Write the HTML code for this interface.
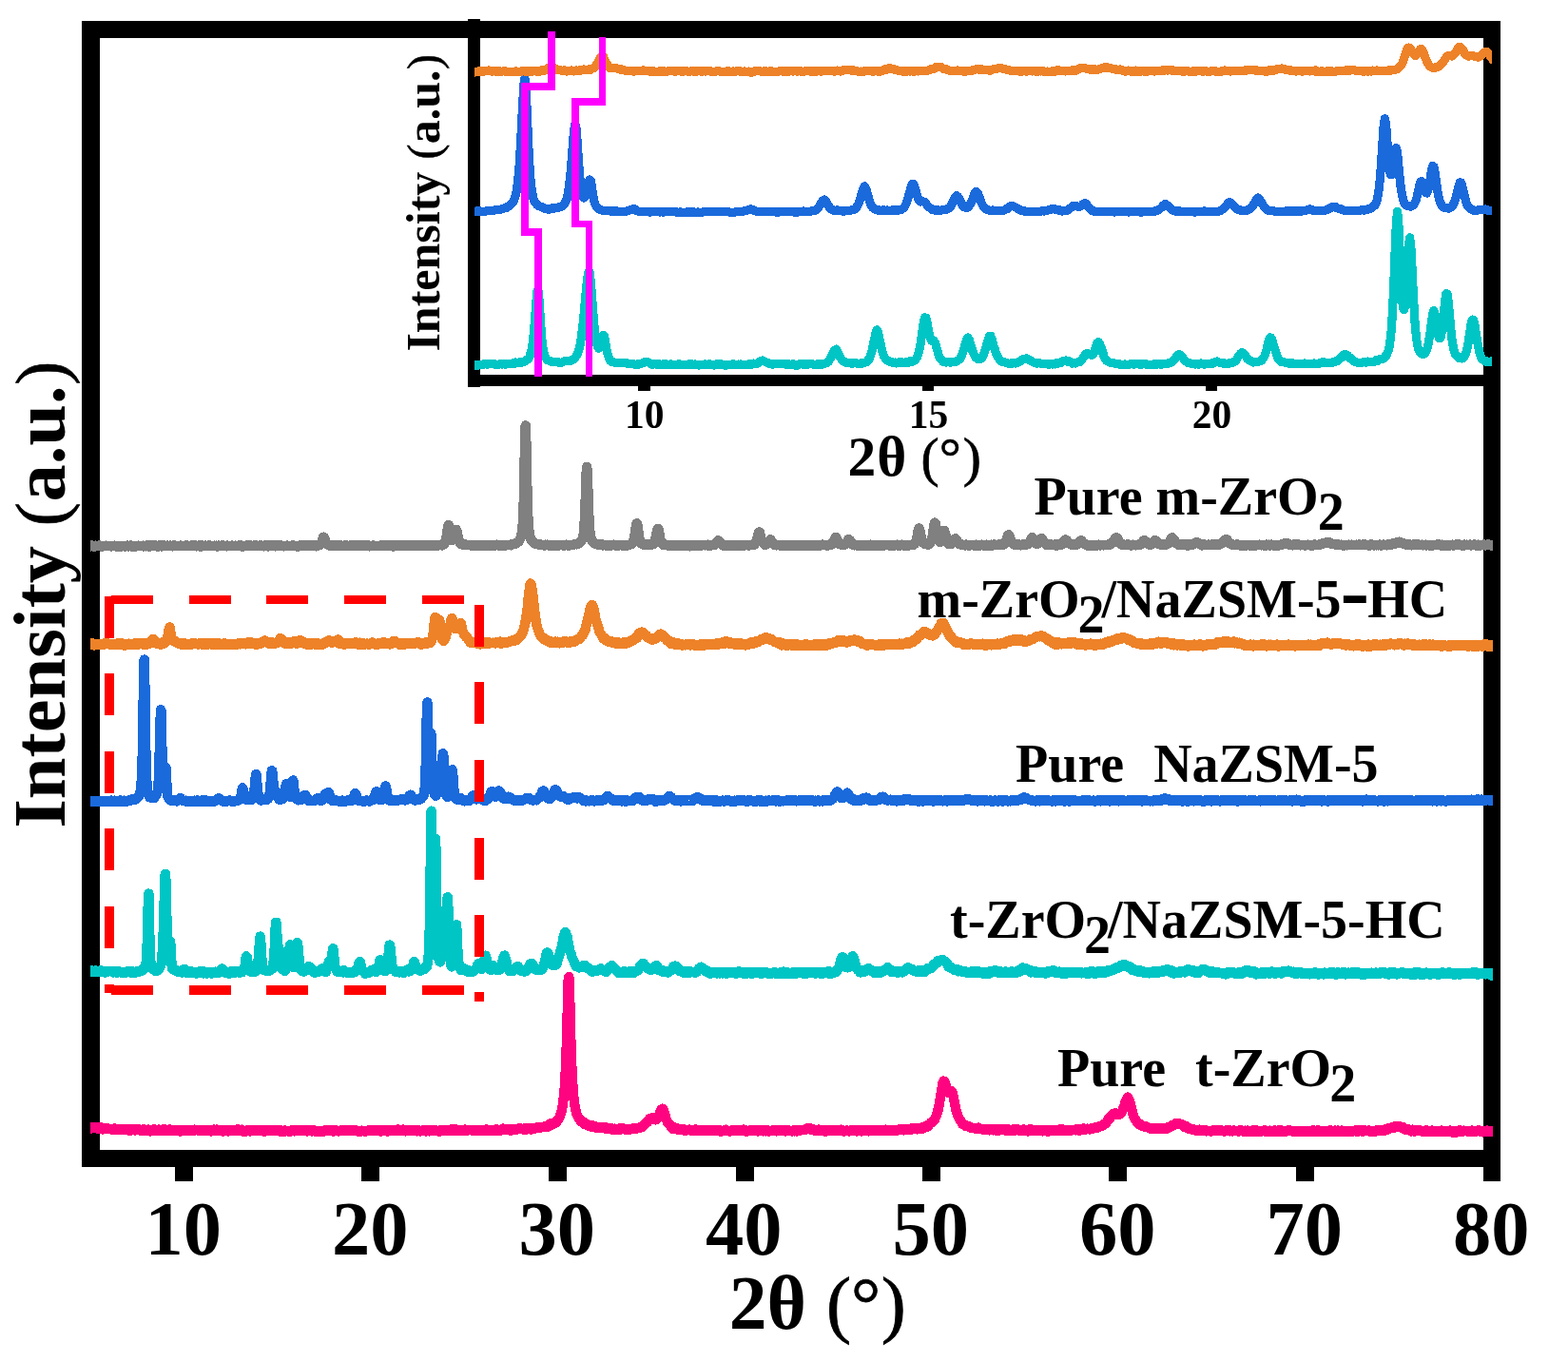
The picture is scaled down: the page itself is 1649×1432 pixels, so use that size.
<!DOCTYPE html>
<html lang="en"><head><meta charset="utf-8"><title>XRD patterns</title><style>html,body{margin:0;padding:0;background:#fff}svg{display:block}</style></head>
<body>
<svg width="1649" height="1432" viewBox="0 0 1649 1432" font-family="'Liberation Serif', 'DejaVu Serif', serif" font-weight="bold" fill="#000">
<rect x="0" y="0" width="1649" height="1432" fill="#fff"/>
<g id="main-frame" fill="#000" shape-rendering="crispEdges">
<rect x="86" y="22" width="1492" height="18"/>
<rect x="86" y="1209" width="1492" height="18"/>
<rect x="86" y="22" width="19" height="1205"/>
<rect x="1560" y="22" width="18" height="1220"/>
<rect x="184" y="1226" width="19" height="16"/>
<rect x="380" y="1226" width="19" height="16"/>
<rect x="577" y="1226" width="19" height="16"/>
<rect x="774" y="1226" width="19" height="16"/>
<rect x="970" y="1226" width="19" height="16"/>
<rect x="1166" y="1226" width="19" height="16"/>
<rect x="1363" y="1226" width="19" height="16"/>
</g>
<defs><clipPath id="cm"><rect x="95" y="0" width="1475" height="1432"/></clipPath><clipPath id="ci"><rect x="499" y="0" width="1070" height="1432"/></clipPath></defs>
<g id="main-curves" clip-path="url(#cm)" fill="none" shape-rendering="crispEdges" stroke-width="10.4" stroke-linejoin="round" stroke-linecap="butt">
<path stroke="#808080" d="M92.7 573.7l.4 .2 .4 .3 .4-.2 .4-.3 .4 .1 .4 .2 .4 .3 .4-.4 .4-.3 .4 .4 .4 .1 .4 .3 .4 0 .4-.2 .3-.2 .4 .6 .4-.4 .4-.3 .4-.2 .4 .2 .4 .1 .4-.1 .4 0 .4 .1 .4 .2 .4 .1 .4-.1 .4-.5 .4 .3 .3-.3 .4 .1 .4-.2 .4 .2 .4-.1 .4 .2 .4 .8 .4-.4 .4 0 .4-.4 .4 0 .4 .2 .4-.1 .4 .1 .3 0 .4-.3 .4 .2 .4-.2 .4 .5 .4-.3 .4 .2 .4-.1 .4 .1 .4-.2 .4 .2 .4-.1 .4 .2 .4 0 .4-.1 .3-.3 .4 .2 .4 .1 .4 .2 .4-.3 .4 .1 .4 0 .4 0 .4-.1 .4 0 .4-.2 .4-.2 .4 .1 .4 .2 .3 .3 .4 .1 .4 0 .4 0 .4-.1 .4-.1 .4 .1 .4 .2 .4-.3 .4-.3 .4 .5 .4-.2 .4 .1 .4 0 .4-.4 .3 .6 .4 .1 .4-.3 .4 0 .4-.1 .4-.3 .4 0 .4 .1 .4 .3 .4 0 .4-.2 .4 .3 .4-.4 .4 .2 .3 .1 .4-.2 .4-.5 .4 0 .4 .2 .4 .2 .4 .3 .4-.4 .4 .1 .4 .1 .4-.1 .4-.5 .4 .4 .4 .6 .4-.1 .3-.4 .4-.1 .4 .1 .4 .5 .4-.1 .4-.2 .4 .2 .4-.2 .4 .3 .4-.4 .4-.2 .4 .2 .4 .3 .4-.1 .4-.1 .3-.5 .4 0 .4 0 .4 0 .4 .3 .4-.1 .4 .2 .4 0 .4-.2 .4 .1 .4 .1 .4 .1 .4-.2 .4-.1 .3-.3 .4 .6 .4 .2 .4-.3 .4-.2 .4-.2 .4 .2 .4 .1 .4 .4 .4-.1 .4-.4 .4-.5 .4 .6 .4 0 .4-.4 .3 .2 .4-.3 .4 1 .4 0 .4-.1 .4-.3 .4-.5 .4 .1 .4-.2 .4 .4 .4-.5 .4 .1 .4 .5 .4 .3 .3-.4 .4-.3 .4 .4 .4 .1 .4-.3 .4-.1 .4 0 .4-.1 .4 0 .4 .5 .4 .1 .4 .3 .4-.3 .4-.1 .4-.3 .3 0 .4-.2 .4-.2 .4 .4 .4 .4 .4 .1 .4 .1 .4-.2 .4-.3 .4 .1 .4-.1 .4-.2 .4-.3 .4 0 .3 .2 .4 .2 .4 0 .4 .4 .4-.1 .4 .1 .4 .1 .4-.3 .4-.5 .4 .4 .4-.1 .4 .3 .4 0 .4 .2 .4 0 .3-.7 .4 .4 .4-.2 .4-.1 .4 0 .4 .3 .4 .2 .4 .1 .4-.6 .4 0 .4-.4 .4 .3 .4 .3 .4-.2 .4 .2 .3 .1 .4 .2 .4-.3 .4-.2 .4 0 .4 .5 .4 .1 .4-.2 .4 0 .4-.1 .4 0 .4-.1 .4 0 .4-.3 .3 0 .4 .6 .4 0 .4-.1 .4-.2 .4 .1 .4 0 .4-.2 .4 .1 .4 .1 .4-.2 .4-.1 .4-.1 .4-.1 .4 .4 .3-.5 .4 .2 .4 0 .4 0 .4 .2 .4 .3 .4-.1 .4 0 .4-.2 .4 0 .4 .3 .4-.2 .4-.2 .4-.2 .3 0 .4-.1 .4 .5 .4 .1 .4-.1 .4 .3 .4-.3 .4 .2 .4 .1 .4-.5 .4-.2 .4 0 .4 .4 .4 .3 .4-.4 .3 .3 .4-.2 .4-.1 .4 0 .4 0 .4-.4 .4 .1 .4-.1 .4 .4 .4 .5 .4 .4 .4-.4 .4-.6 .4 0 .4-.1 .3 .6 .4 0 .4-.3 .4 .2 .4 0 .4-.4 .4 0 .4 0 .4 .1 .4 .1 .4-.1 .4 .1 .4-.1 .4-.2 .3 .5 .4 0 .4 0 .4-.4 .4 0 .4 .3 .4-.3 .4 .3 .4-.1 .4 .1 .4-.1 .4 .1 .4 .2 .4-.2 .4 .3 .3-.4 .4-.2 .4 .3 .4-.3 .4 0 .4 .3 .4 .2 .4-.5 .4 .2 .4 .4 .4 .1 .4-.3 .4-.2 .4-.1 .3-.2 .4 .1 .4 .1 .4 0 .4 .3 .4-.1 .4-.4 .4 .4 .4-.3 .4 0 .4 .1 .4 0 .4-.2 .4 .1 .4 .6 .3-.3 .4-.1 .4 .3 .4 0 .4 0 .4 .1 .4-.7 .4 0 .4 .2 .4 .1 .4 .3 .4 0 .4-.2 .4-.1 .3 0 .4 0 .4 .2 .4-.2 .4-.2 .4-.1 .4 .4 .4 .2 .4 .1 .4 0 .4 0 .4-.2 .4 0 .4-.3 .4 0 .3-.1 .4 .2 .4-.1 .4 0 .4 .1 .4 .3 .4-.3 .4-.2 .4 .3 .4-.3 .4 .2 .4-.1 .4 0 .4-.4 .4 .4 .3-.1 .4-.1 .4 .6 .4 0 .4 .6 .4-.3 .4-.4 .4-.1 .4 .3 .4-.2 .4 0 .4 0 .4-.3 .4 .1 .3-.1 .4-.3 .4 .4 .4 .1 .4 0 .4-.3 .4-.3 .4 .3 .4 .1 .4-.3 .4 .2 .4-.3 .4 .2 .4 .2 .4 .1 .3 0 .4 .1 .4-.3 .4 0 .4 0 .4 0 .4 .2 .4 .1 .4 .3 .4-.8 .4 .3 .4 0 .4 .5 .4 0 .3-.6 .4 .2 .4-.1 .4 .2 .4-.3 .4 .1 .4 0 .4 0 .4-.1 .4-.3 .4 .3 .4 .3 .4-.1 .4-.2 .4 .1 .3 .2 .4-.1 .4 0 .4 .3 .4-.4 .4-.1 .4-.3 .4 .1 .4 0 .4 0 .4 0 .4 .6 .4-.2 .4 0 .3 .5 .4-.3 .4-.5 .4 .2 .4-.2 .4 .5 .4-.4 .4 0 .4-.3 .4 .3 .4-.2 .4 .2 .4 0 .4-.1 .4 .4 .3 .1 .4-.1 .4-.3 .4-.1 .4 .2 .4 .6 .4-.4 .4-.2 .4-.1 .4-.2 .4 0 .4 .1 .4 .5 .4-.1 .4-.2 .3-.3 .4 .2 .4 .1 .4-.3 .4 0 .4 .1 .4 .4 .4 .1 .4-.1 .4-.1 .4 0 .4 0 .4 .5 .4-.6 .3 0 .4 .3 .4-.2 .4 .3 .4-.2 .4 0 .4-.2 .4-.3 .4 0 .4 .7 .4-.1 .4 0 .4 .1 .4 0 .4 0 .3-.2 .4-.1 .4 .2 .4-.2 .4-.3 .4 0 .4 0 .4 .3 .4-.2 .4-.2 .4 .1 .4 .5 .4-.2 .4 0 .3 0 .4 0 .4 .2 .4 .2 .4-.6 .4 .4 .4-.2 .4-.1 .4 .6 .4-.3 .4 .3 .4-.1 .4-.5 .4 .1 .4 .1 .3-.1 .4-.6 .4 .2 .4 .1 .4-.1 .4 .5 .4-.1 .4-.2 .4 0 .4-.1 .4-.1 .4 .2 .4 .1 .4-.1 .3 0 .4-.3 .4 .3 .4-.1 .4 .1 .4-.2 .4 0 .4 .2 .4-.2 .4 .7 .4-.2 .4-.2 .4-.2 .4 .4 .4 .2 .3-.2 .4-.4 .4-.1 .4 .2 .4-.1 .4-.2 .4-.1 .4 0 .4 .2 .4-.1 .4 .1 .4 .7 .4 .1 .4-.6 .4-.1 .3 0 .4-.2 .4 .2 .4-.2 .4-.2 .4-.2 .4-.2 .4 .1 .4-.3 .4-.9 .4-.7 .4-.9 .4-.7 .4-1.1 .3-1 .4-1.3 .4-1.2 .4-.1 .4 .4 .4 .9 .4 .8 .4 1.3 .4 1 .4 1 .4 1 .4 .8 .4 .2 .4 .1 .4-.1 .3 .5 .4 .6 .4 .1 .4-.4 .4 .1 .4 .3 .4 .5 .4 .2 .4-.1 .4-.1 .4-.3 .4-.1 .4 .1 .4-.1 .3 .1 .4 0 .4 .2 .4 .3 .4 0 .4 0 .4-.2 .4-.4 .4 .1 .4 .3 .4-.3 .4 .4 .4-.1 .4 0 .4-.1 .3-.2 .4 .6 .4-.4 .4 .2 .4-.2 .4 .1 .4-.2 .4 0 .4 .3 .4 .4 .4-.5 .4 0 .4 .2 .4-.3 .4 .2 .3-.2 .4 .2 .4 0 .4 .2 .4-.1 .4-.4 .4 .3 .4-.3 .4 .2 .4 .4 .4-.1 .4-.3 .4 .3 .4-.1 .3-.4 .4 0 .4 .4 .4-.2 .4 0 .4-.1 .4-.3 .4 .1 .4 .2 .4 .1 .4 0 .4-.5 .4 .5 .4 .2 .4 .1 .3 .1 .4-.3 .4-.2 .4 .1 .4 .4 .4-.6 .4 0 .4 0 .4 .2 .4 .3 .4-.2 .4-.3 .4 .1 .4 0 .3-.3 .4 .4 .4-.1 .4 .2 .4-.4 .4 .4 .4-.4 .4 .4 .4-.5 .4 .5 .4-.1 .4-.4 .4 .2 .4 .1 .4-.2 .3 .1 .4 .1 .4 0 .4-.6 .4 .2 .4 .4 .4 .1 .4 .2 .4-.3 .4 .6 .4-.1 .4-.1 .4 .1 .4 0 .3-.2 .4-.2 .4 .2 .4 0 .4-.5 .4-.1 .4 .3 .4 .1 .4 0 .4 .1 .4 0 .4 .3 .4-.3 .4-.2 .4 .1 .3 .2 .4 0 .4 .2 .4-.3 .4 .2 .4-.1 .4-.3 .4 0 .4 .5 .4 0 .4-.3 .4-.6 .4 .1 .4 0 .4 .2 .3 .6 .4 0 .4-.2 .4-.3 .4-.2 .4 .1 .4 0 .4 .7 .4-.3 .4-.3 .4 .3 .4-.1 .4-.3 .4 .4 .3-.2 .4-.3 .4 .2 .4 .1 .4-.1 .4 .2 .4 .1 .4-.3 .4-.4 .4-.3 .4 .3 .4 .5 .4 .2 .4 .2 .4 .2 .3-.3 .4 .1 .4-.6 .4 .2 .4 .1 .4-.1 .4-.1 .4-.2 .4 .1 .4 .4 .4-.2 .4 .1 .4-.2 .4 .1 .3-.3 .4 .2 .4 0 .4 .1 .4-.2 .4-.2 .4 .1 .4 .4 .4 .3 .4-.3 .4 .1 .4 0 .4 0 .4-.5 .4 .2 .3-.2 .4 .4 .4 .1 .4 0 .4-.7 .4 .3 .4 .2 .4-.3 .4 .3 .4 0 .4-.1 .4-.1 .4-.2 .4 .1 .3 .8 .4-.3 .4-.1 .4-.2 .4-.1 .4-.1 .4-.1 .4 .4 .4-.1 .4 .2 .4-.4 .4 .3 .4 0 .4 .1 .4-.1 .3-.3 .4 .4 .4-.2 .4 0 .4-.2 .4 .1 .4 0 .4 .1 .4 .1 .4-.2 .4-.3 .4 .3 .4 .2 .4 .1 .4-.4 .3 .2 .4 .1 .4 0 .4 0 .4-.1 .4 0 .4 .2 .4-.2 .4-.4 .4 .2 .4 .1 .4-.4 .4 .1 .4 .3 .3 0 .4 0 .4-.3 .4 .4 .4 .3 .4-.2 .4-.3 .4-.2 .4 .3 .4 0 .4-.2 .4 .4 .4 0 .4 0 .4-.5 .3 .1 .4 .2 .4-.3 .4 .3 .4 .3 .4 0 .4-.4 .4-.2 .4 .3 .4 .1 .4 .2 .4 0 .4-.3 .4-.2 .3-.4 .4 .3 .4 .5 .4-.4 .4-.2 .4 .2 .4-.1 .4-.4 .4-.1 .4-.1 .4 .6 .4-.4 .4 .1 .4 .3 .4 .1 .3-.2 .4-.1 .4-.8 .4-.3 .4-.5 .4-.4 .4 .1 .4-1.5 .4-1 .4-1.9 .4-1.6 .4-2.2 .4-3 .4-2.4 .3-2.9 .4-1.8 .4-.9 .4 .4 .4 1.7 .4 2.6 .4 2.8 .4 2.6 .4 2.7 .4 1.4 .4 1 .4 .6 .4 .1 .4-.3 .4-.6 .3-.6 .4-1.3 .4-1.6 .4-1.7 .4-1.6 .4-1.7 .4-1.1 .4-.6 .4 .4 .4 1.1 .4 1.9 .4 1.8 .4 2 .4 1.9 .4 1.5 .3 1.3 .4 1 .4 1.2 .4 .4 .4 .2 .4 .5 .4 0 .4 .1 .4 .3 .4-.2 .4-.4 .4 .7 .4 .5 .4-.4 .3 .1 .4 .3 .4-.4 .4 .1 .4 0 .4 .2 .4-.2 .4 .5 .4 0 .4 .1 .4 0 .4-.5 .4 .3 .4-.2 .4 .3 .3-.1 .4 .1 .4 .1 .4 .2 .4 .1 .4-.3 .4 .1 .4 .3 .4 0 .4-.3 .4 0 .4 0 .4 .2 .4 0 .3 0 .4 .4 .4-.5 .4-.3 .4-.2 .4-.1 .4 .5 .4 .1 .4 .4 .4-.7 .4 0 .4 .5 .4 .1 .4 .1 .4 0 .3-.2 .4-.1 .4 0 .4 .1 .4-.1 .4 0 .4 .3 .4-.5 .4-.1 .4 .2 .4 0 .4-.1 .4 .5 .4-.1 .4-.2 .3 .2 .4 .4 .4-.6 .4-.2 .4 .1 .4-.2 .4 .6 .4-.1 .4-.2 .4 0 .4-.2 .4-.1 .4 .1 .4 .6 .3-.8 .4 .2 .4 .3 .4 .1 .4 .2 .4-.2 .4-.1 .4-.2 .4-.2 .4 .4 .4-.4 .4 0 .4-.1 .4-.1 .4-.3 .3 .2 .4 .2 .4 .1 .4 .2 .4-.1 .4-.2 .4 .2 .4 .1 .4-.3 .4-.3 .4 0 .4 .4 .4 .2 .4-.3 .3 0 .4 .2 .4 .2 .4-.3 .4-.1 .4 .3 .4 .4 .4-.1 .4-.6 .4 .1 .4-.2 .4 0 .4-.2 .4-.1 .4 .1 .3 .4 .4 0 .4-.1 .4-.2 .4-.3 .4 0 .4 .3 .4 0 .4 .3 .4-.3 .4-.3 .4-.5 .4 .2 .4-.5 .3 .5 .4-.3 .4 0 .4-.4 .4-.1 .4-.2 .4 .3 .4-.1 .4-.5 .4-.6 .4 .1 .4-.2 .4-.4 .4 0 .4-.4 .3-.4 .4-.7 .4-.6 .4-.7 .4-1.2 .4-.6 .4-1.2 .4-2.1 .4-2.1 .4-2.7 .4-4.4 .4-5.9 .4-8.9 .4-11.9 .4-15.8 .3-18.9 .4-20.5 .4-16.9 .4-6.6 .4 7.1 .4 17.3 .4 20.1 .4 18.5 .4 15.6 .4 11.8 .4 9.1 .4 6.4 .4 4.2 .4 2.6 .3 2.1 .4 1.8 .4 1.2 .4 1.2 .4 1 .4 .8 .4 .5 .4 .3 .4 .3 .4 .4 .4 .7 .4 .6 .4 .2 .4 .1 .4 .2 .3 .2 .4 .2 .4 .1 .4-.4 .4 .4 .4 .1 .4-.1 .4 .2 .4 .1 .4 0 .4-.3 .4 .2 .4 .3 .4 0 .3-.3 .4 .3 .4 .3 .4 0 .4 .1 .4-.2 .4-.1 .4 .2 .4 0 .4 .1 .4 .7 .4-.2 .4-.2 .4-.5 .4 .2 .3 .2 .4-.2 .4 0 .4-.4 .4 .4 .4-.1 .4 .3 .4 .3 .4-.2 .4 .2 .4-.1 .4-.2 .4 0 .4-.2 .3 .4 .4 .1 .4-.4 .4 .3 .4-.3 .4-.2 .4 .4 .4-.3 .4 .4 .4 0 .4 .1 .4 0 .4 .1 .4-.1 .4 0 .3-.1 .4 .2 .4-.3 .4 .2 .4 .2 .4-.2 .4 0 .4-.3 .4 0 .4 .1 .4-.1 .4-.2 .4 .1 .4 .1 .4 .1 .3 .1 .4-.5 .4 .5 .4-.1 .4-.3 .4 0 .4 .2 .4 .2 .4-.2 .4 0 .4-.4 .4 .2 .4 0 .4 0 .3 .2 .4 .3 .4 0 .4-.4 .4 .3 .4-.3 .4-.1 .4-.1 .4 .1 .4 .1 .4-.1 .4-.2 .4 0 .4-.1 .4 .2 .3-.2 .4-.1 .4-.1 .4-.2 .4 0 .4-.3 .4 .2 .4 .1 .4-.2 .4 .3 .4-.5 .4 0 .4-.1 .4-.3 .3-.3 .4 .1 .4-.3 .4-.3 .4-.1 .4-.5 .4-.9 .4-.6 .4-.3 .4-.8 .4-1.2 .4-1.6 .4-1.3 .4-1.9 .4-3.6 .3-4.8 .4-5.7 .4-8.1 .4-10.1 .4-12 .4-12.6 .4-10 .4-3.8 .4 4.1 .4 9.9 .4 12.8 .4 11.8 .4 10.3 .4 7.8 .4 6.2 .3 4.6 .4 3.4 .4 2.1 .4 1.7 .4 1 .4 1.2 .4 .9 .4 .7 .4 .3 .4 .1 .4 .4 .4 .4 .4 .1 .4 .5 .3 .4 .4 .2 .4 .3 .4 .1 .4-.2 .4 0 .4 .1 .4 .3 .4 .3 .4 0 .4 .2 .4-.3 .4 .1 .4 .4 .4 0 .3 .1 .4-.6 .4-.2 .4 .1 .4 .5 .4 .4 .4-.3 .4-.2 .4-.1 .4 0 .4 .3 .4 0 .4 .4 .4 0 .3-.3 .4 .1 .4-.1 .4 .2 .4 .2 .4-.3 .4 .2 .4 0 .4-.1 .4 0 .4 .1 .4-.1 .4-.2 .4 .4 .4-.1 .3-.2 .4 .1 .4-.3 .4 .1 .4-.2 .4 .1 .4-.3 .4 .2 .4 .4 .4-.1 .4-.2 .4 .5 .4-.2 .4 .3 .3-.3 .4-.3 .4 .6 .4-.3 .4 .2 .4 .1 .4-.4 .4 0 .4-.1 .4 .2 .4 0 .4-.3 .4 .1 .4 .3 .4-.2 .3 .2 .4-.2 .4 0 .4 .1 .4 0 .4 .2 .4 0 .4 0 .4 0 .4-.2 .4-.4 .4 .3 .4 .3 .4-.2 .4-.2 .3-.1 .4 .2 .4-.2 .4-.3 .4-.1 .4-.2 .4 0 .4-.2 .4-.2 .4 .3 .4-.1 .4-.8 .4-.6 .4-.5 .3-.8 .4-1.3 .4-1.2 .4-2.2 .4-2 .4-2.5 .4-3.1 .4-2.9 .4-2.2 .4-1.3 .4-.5 .4 1.3 .4 2.7 .4 2.9 .4 2.8 .3 2.5 .4 2.3 .4 1.9 .4 2.3 .4 .6 .4 1.2 .4 .6 .4 .3 .4 .3 .4 0 .4 .6 .4 0 .4 0 .4 0 .3 .1 .4-.3 .4 .1 .4 0 .4 .3 .4 .2 .4-.5 .4 .2 .4 .3 .4-.3 .4-.2 .4 .4 .4 0 .4-.1 .4-.3 .3 .2 .4-.1 .4 .1 .4 .1 .4 .1 .4-.3 .4-.2 .4 0 .4-.2 .4-.1 .4-.4 .4-.4 .4-.7 .4-.8 .3-.8 .4-1.1 .4-1.9 .4-1.8 .4-2.2 .4-2.2 .4-2 .4-1.7 .4-.4 .4 .6 .4 .6 .4 2.5 .4 2.5 .4 2.7 .4 1.5 .3 1.7 .4 1.4 .4 .8 .4 1.1 .4 .5 .4 .2 .4 0 .4 .3 .4 .8 .4 .4 .4-.8 .4-.2 .4 .5 .4 .1 .4-.1 .3 .3 .4 0 .4 .1 .4 0 .4-.2 .4 .4 .4-.2 .4 .3 .4 0 .4-.1 .4 0 .4-.1 .4-.4 .4 .2 .3 .2 .4-.3 .4-.2 .4 .5 .4 .2 .4-.4 .4 .3 .4 0 .4 .2 .4-.2 .4 0 .4-.2 .4 .2 .4 0 .4-.1 .3 0 .4-.1 .4 .3 .4-.3 .4-.2 .4 0 .4 .5 .4-.1 .4 .1 .4 .2 .4-.2 .4 .1 .4 .1 .4-.1 .3-.2 .4 0 .4-.2 .4 .1 .4-.1 .4 .3 .4 0 .4-.1 .4 .2 .4 .2 .4-.1 .4-.3 .4 .2 .4-.6 .4 .1 .3 .3 .4 .5 .4-.4 .4 .3 .4 .4 .4 .1 .4-1 .4 .4 .4-.1 .4 .2 .4-.2 .4-.2 .4 0 .4 .4 .3 0 .4-.2 .4 0 .4 .1 .4 0 .4-.1 .4-.2 .4-.1 .4 0 .4 0 .4-.3 .4-.1 .4 .5 .4-.2 .4-.2 .3 .3 .4 .4 .4 .2 .4-.3 .4-.3 .4 0 .4-.1 .4 0 .4 .2 .4-.2 .4 0 .4 .1 .4 0 .4-.1 .4 0 .3-.1 .4 0 .4 .3 .4-.1 .4-.6 .4 .5 .4 .1 .4-.1 .4 0 .4-.6 .4 0 .4 .7 .4 .5 .4 .3 .3-.6 .4-.1 .4 .1 .4-.4 .4 .5 .4-.4 .4 .1 .4-.3 .4 .1 .4-.1 .4 .2 .4-.5 .4-.1 .4 .3 .4-.8 .3-.2 .4-.3 .4-.6 .4-.6 .4-.2 .4-.4 .4-.5 .4-.4 .4-.5 .4 .2 .4 .8 .4 .5 .4 0 .4 .1 .3 .6 .4 .7 .4 .4 .4 .3 .4 .5 .4 .4 .4 .1 .4 .3 .4-.4 .4 .3 .4 .1 .4-.4 .4 .5 .4-.4 .4-.2 .3 .9 .4 .1 .4-.1 .4 .1 .4 .1 .4-.5 .4 .1 .4 .2 .4-.2 .4 0 .4-.2 .4 .2 .4-.2 .4-.1 .4-.1 .3-.1 .4 .3 .4 .2 .4-.2 .4-.2 .4 .3 .4 .1 .4 .2 .4-.2 .4-.1 .4 .1 .4 .3 .4-.2 .4-.1 .3-.3 .4 0 .4 .3 .4 .2 .4 .1 .4-.6 .4 .3 .4-.3 .4 .3 .4-.6 .4 .2 .4 0 .4 .4 .4 0 .4 .2 .3-.3 .4 .5 .4-.4 .4 .4 .4-.4 .4-.3 .4 .3 .4-.2 .4 0 .4-.3 .4 .1 .4 .1 .4-.1 .4 .2 .3-.6 .4 .5 .4-.1 .4 .4 .4-.3 .4-.2 .4 0 .4 .1 .4 .1 .4-.2 .4-.2 .4 .2 .4 .1 .4-.6 .4-.1 .3-.1 .4 .5 .4 0 .4-.2 .4-.4 .4-.8 .4-.2 .4-.9 .4-1 .4-.6 .4-1.8 .4-1.1 .4-1.7 .4-1.9 .3-1.3 .4-1.2 .4-.2 .4 .2 .4 .8 .4 2.2 .4 1.3 .4 1.8 .4 1.3 .4 1.4 .4 .7 .4 .7 .4 0 .4 1.2 .4 .6 .3-.1 .4 .5 .4 .2 .4 .7 .4-.4 .4 0 .4-.2 .4-.2 .4-.5 .4-.5 .4-.3 .4-.3 .4-1 .4-.8 .4-.5 .3 0 .4-.5 .4-.6 .4 .5 .4 .5 .4 .9 .4 .4 .4 1 .4 .1 .4 .7 .4 .3 .4 .1 .4 .3 .4 .7 .3 .3 .4-.1 .4 .3 .4 .1 .4 .1 .4-.1 .4 0 .4-.3 .4 .1 .4 .1 .4-.2 .4 .1 .4 .1 .4 .1 .4 .2 .3-.3 .4 0 .4 .1 .4-.1 .4 .2 .4-.2 .4 .4 .4-.2 .4-.3 .4 .3 .4 .4 .4-.7 .4 .1 .4 .1 .3 .3 .4 .2 .4-.2 .4-.5 .4 .3 .4 .2 .4 0 .4-.1 .4-.2 .4 .6 .4-.5 .4-.3 .4 .4 .4 0 .4 .1 .3 0 .4 .3 .4 .1 .4-.4 .4 .1 .4-.4 .4-.3 .4 .5 .4-.1 .4-.5 .4 .3 .4-.1 .4 .3 .4 0 .3-.2 .4 0 .4 .3 .4-.3 .4 .2 .4-.2 .4 .2 .4 .4 .4 0 .4 0 .4-.1 .4-.3 .4-.1 .4 .1 .4 .1 .3-.2 .4 .2 .4-.2 .4 .1 .4 0 .4-.2 .4 .3 .4 0 .4 0 .4-.1 .4-.4 .4-.1 .4 0 .4 .5 .4-.1 .3 .2 .4-.3 .4-.1 .4 .1 .4 .3 .4-.4 .4 .1 .4 .2 .4 0 .4 0 .4 .2 .4 0 .4-.3 .4 .2 .3-.2 .4 0 .4 .4 .4 .4 .4 0 .4-.3 .4-.4 .4-.2 .4 .5 .4-.1 .4-.4 .4 .4 .4 0 .4 .2 .4-.1 .3-.7 .4 0 .4 .2 .4 0 .4 .4 .4-.3 .4 0 .4 0 .4 0 .4-.2 .4-.2 .4-.4 .4 .5 .4 .1 .3 .1 .4-.2 .4 .1 .4-.1 .4-.1 .4 .2 .4 .2 .4 .1 .4-.1 .4-.2 .4 .3 .4 .1 .4-.3 .4-.4 .4 .2 .3 0 .4-.3 .4 .5 .4-.8 .4-.2 .4 .1 .4 0 .4-.9 .4-.3 .4-.1 .4-.4 .4-1 .4-.9 .4-1.1 .3-.7 .4-1 .4-.8 .4-.3 .4 .5 .4 .4 .4 1.2 .4 1.1 .4 .9 .4 .8 .4 .8 .4 .5 .4 .6 .4 .3 .4 .4 .3-.2 .4 .1 .4 0 .4 .4 .4 .2 .4-.2 .4-.2 .4 0 .4 .3 .4-.1 .4-.1 .4-.3 .4-.1 .4 .2 .4-.6 .3-.4 .4-.1 .4-.5 .4-1 .4-.4 .4-1 .4-.3 .4-1 .4 0 .4 .6 .4 .2 .4 .5 .4 .8 .4 .7 .3 .5 .4 .5 .4 .9 .4 .6 .4 .2 .4-.2 .4 .1 .4 .2 .4 .3 .4 .4 .4-.2 .4 0 .4-.1 .4 .1 .4-.1 .3 .2 .4 .2 .4-.2 .4 0 .4 0 .4-.3 .4 .6 .4-.4 .4 0 .4-.1 .4 .5 .4-.2 .4-.1 .4 .5 .3-.2 .4-.3 .4 .1 .4 0 .4-.1 .4 0 .4 0 .4 .2 .4 .2 .4 0 .4-.1 .4 .1 .4-.2 .4 .2 .4 0 .3-.2 .4 .2 .4-.4 .4-.2 .4 0 .4 .2 .4-.2 .4-.1 .4-.2 .4 .4 .4-.1 .4 .7 .4 0 .4-.4 .4 .3 .3-.1 .4 .2 .4-.4 .4 .3 .4 .1 .4-.3 .4-.2 .4 0 .4 .1 .4 .6 .4 .1 .4 0 .4-.3 .4-.3 .3 .1 .4-.1 .4-.1 .4 0 .4 .2 .4-.1 .4 0 .4-.1 .4 0 .4 0 .4 .3 .4-.1 .4 .3 .4-.3 .4 .2 .3-.5 .4 0 .4 .1 .4-.1 .4 0 .4-.1 .4 .1 .4-.1 .4 .1 .4 0 .4-.1 .4 0 .4 .1 .4-.2 .3 .2 .4 .3 .4-.1 .4 .1 .4 0 .4-.2 .4 .3 .4 .4 .4-.6 .4 .5 .4-.5 .4 .3 .4-.6 .4 .4 .4-.1 .3-.3 .4-.1 .4-.1 .4 0 .4 .3 .4 0 .4-.5 .4 .2 .4 .3 .4 .1 .4 .3 .4-.6 .4 .2 .4 0 .3 .2 .4-.4 .4-.2 .4 .2 .4 .1 .4-.3 .4 .3 .4 0 .4 .2 .4-.6 .4 .3 .4-.1 .4 0 .4 .3 .4 .4 .3-.2 .4-.2 .4 .3 .4-.4 .4-.1 .4-.1 .4-.2 .4 .2 .4 .5 .4-.2 .4 0 .4-.2 .4 .2 .4-.2 .4-.3 .3 0 .4 .3 .4-.2 .4 .1 .4-.3 .4 .3 .4-.4 .4-.2 .4-.4 .4-.2 .4-.7 .4-1 .4-.7 .4-1.4 .3-1 .4-1.7 .4-2.2 .4-2.2 .4-2.9 .4-1.2 .4-1.2 .4 .1 .4 1.6 .4 1.1 .4 2.1 .4 2.4 .4 2.1 .4 1.4 .4 1.4 .3 1.7 .4 .6 .4 .8 .4 .1 .4 .2 .4 0 .4 .5 .4 .5 .4 0 .4-.1 .4 .1 .4 .1 .4-.2 .4 .1 .3 .4 .4 .2 .4-.6 .4-.5 .4 .4 .4-.2 .4-.1 .4-.5 .4-.7 .4-.5 .4-.7 .4-1.1 .4-1.9 .4-1.7 .4-2.4 .3-2.6 .4-2.6 .4-2.9 .4-1.8 .4-1.9 .4-.8 .4 .5 .4 1.7 .4 2.3 .4 2.8 .4 2.8 .4 2.6 .4 1.7 .4 1.8 .3 1.5 .4 .8 .4 .9 .4 .5 .4 .3 .4 .1 .4-.4 .4 0 .4-.5 .4-1.3 .4-1.2 .4-1.3 .4-2 .4-1.8 .4-1.4 .3-1.7 .4-.5 .4 .9 .4 1.4 .4 1.4 .4 2.1 .4 2.3 .4 1.3 .4 1.2 .4 1 .4 .5 .4 .8 .4 .5 .4 .4 .4 .5 .3-.1 .4 0 .4 0 .4 .3 .4-.7 .4-.1 .4-.3 .4-.2 .4-.2 .4-.6 .4-.4 .4-.8 .4-.9 .4-.8 .3-.8 .4-.1 .4-.2 .4 .5 .4 .6 .4 .3 .4 .5 .4 1 .4 .5 .4 .8 .4 .7 .4 .3 .4 .8 .4-.1 .4 .3 .3 0 .4-.5 .4 .4 .4 .2 .4 .3 .4 0 .4-.1 .4 0 .4 .1 .4 .3 .4-.1 .4 .3 .4 .1 .4-.4 .3 .3 .4-.6 .4 .2 .4-.1 .4 .1 .4 .4 .4-.1 .4-.1 .4 .3 .4-.3 .4-.1 .4 .3 .4 .1 .4-.4 .4 .1 .3 .2 .4-.1 .4-.1 .4 .1 .4 0 .4-.1 .4 .2 .4-.4 .4 .1 .4 .6 .4-.4 .4 0 .4-.5 .4 .1 .3-.1 .4 .3 .4 0 .4 .5 .4-.3 .4 0 .4 .1 .4 .1 .4 .1 .4-.5 .4 .6 .4-.2 .4-.3 .4-.3 .4 .1 .3-.2 .4 .3 .4 0 .4 .2 .4-.2 .4 .1 .4 .6 .4 0 .4-.2 .4-.4 .4 .4 .4-.5 .4-.2 .4 .5 .4-.2 .3 .4 .4 0 .4 .3 .4 .1 .4-.2 .4-.4 .4 .1 .4 .2 .4-.2 .4-.7 .4 .1 .4 .1 .4 .1 .4 0 .3 .4 .4-.4 .4 .2 .4-.5 .4-.3 .4 .2 .4 .1 .4 0 .4 0 .4 .4 .4 .1 .4 0 .4 0 .4-.3 .4-.1 .3-.2 .4 .1 .4-.1 .4 .1 .4 .3 .4 0 .4 .2 .4-.4 .4-.5 .4-.1 .4 .6 .4 0 .4-.3 .4 .1 .3-.4 .4 0 .4-.6 .4-.6 .4-.4 .4-1.1 .4-.8 .4-.5 .4-1.2 .4-1.6 .4-1.2 .4-1 .4-.8 .4-.1 .4 .6 .3 .5 .4 1.2 .4 1.1 .4 1.1 .4 .9 .4 1.3 .4 1.1 .4 .4 .4 .3 .4 .7 .4 .3 .4 .5 .4 .2 .4 0 .4-.3 .3 .4 .4 .1 .4-.3 .4-.1 .4-.2 .4 .5 .4 .1 .4-.7 .4 .3 .4 .1 .4 .3 .4 .1 .4 0 .4 .2 .3 .2 .4-.2 .4 .3 .4-.2 .4-.3 .4 .1 .4-.3 .4 .1 .4-.2 .4 .1 .4 .2 .4-.6 .4 .4 .4 .1 .4 0 .3 .1 .4 0 .4-.3 .4-.3 .4 .2 .4-.1 .4-.7 .4-.3 .4-.6 .4-.1 .4-.8 .4-.9 .4-.3 .4-.8 .3-.9 .4-.7 .4-.7 .4-.2 .4 .4 .4 .5 .4 .5 .4 .8 .4 1.2 .4 .5 .4 .3 .4 .7 .4 .3 .4 1.1 .4 .1 .3 .1 .4 0 .4 .2 .4-.7 .4-.3 .4-.8 .4 0 .4-.6 .4-.3 .4-1 .4-1 .4-.7 .4-.1 .4-.3 .3 .3 .4 .3 .4 .5 .4 .7 .4 1.3 .4 .3 .4 .8 .4 .7 .4 .2 .4 .1 .4 .8 .4 .5 .4-.1 .4-.2 .4 .3 .3 0 .4-.1 .4 0 .4-.4 .4 .2 .4 0 .4-.1 .4 .5 .4 .1 .4 .4 .4-.8 .4 .1 .4 0 .4 .5 .4 .2 .3-.1 .4-.1 .4-.2 .4-.1 .4 0 .4-.5 .4 .8 .4 .1 .4 .4 .4 0 .4-.2 .4-.1 .4-.5 .4-.2 .3 .3 .4-.1 .4-.3 .4 .1 .4-.2 .4 .1 .4 .4 .4-.5 .4-.2 .4 .1 .4-.3 .4-.3 .4-.6 .4-.5 .4-1 .3-.3 .4-.2 .4-.9 .4-.5 .4-.2 .4 .1 .4 .3 .4-.1 .4 .5 .4 1 .4 .4 .4 .6 .4 .3 .4 .4 .3-.2 .4 .6 .4 0 .4 .3 .4 .3 .4 .6 .4 .2 .4 .1 .4-.2 .4-.3 .4 .3 .4-.1 .4 0 .4 .3 .4-.1 .3-.1 .4-.2 .4 .3 .4-.1 .4 0 .4 .1 .4-.8 .4-.2 .4-.1 .4-.4 .4-.5 .4-.4 .4-1 .4-.4 .3-.1 .4-.4 .4-.2 .4 .3 .4-.2 .4 .7 .4 .9 .4 .3 .4 .3 .4 .6 .4 .3 .4 .2 .4 .4 .4-.1 .4 .5 .3-.1 .4 .1 .4 .3 .4 .1 .4 .1 .4 .3 .4 .2 .4 .2 .4-.5 .4 .1 .4-.5 .4 .3 .4 .3 .4-.3 .4 .1 .3 .1 .4-.1 .4-.2 .4 .4 .4-.5 .4 .2 .4 .2 .4-.1 .4 .3 .4 .2 .4-.2 .4 .2 .4-.1 .4-.5 .3-.1 .4 .1 .4 .1 .4-.5 .4 .7 .4-.5 .4-.2 .4 .3 .4 .1 .4 .3 .4-.1 .4 0 .4 0 .4-.3 .4-.2 .3 0 .4 .4 .4-.2 .4 .3 .4-.2 .4 .1 .4-.1 .4 .1 .4-.1 .4 0 .4-.2 .4 .3 .4-.1 .4 0 .3 0 .4-.3 .4-.2 .4 .1 .4 .3 .4-.4 .4-.3 .4-.1 .4 0 .4-.3 .4-.1 .4 .1 .4-.5 .4-.2 .4-.6 .3-.4 .4-.3 .4-1.1 .4-.5 .4-.6 .4-.7 .4-.6 .4-.5 .4-.7 .4-.1 .4 .4 .4 .6 .4 .1 .4 .6 .3 .6 .4 .9 .4 .6 .4 .6 .4 .9 .4 1 .4-.3 .4 .8 .4 0 .4 .4 .4 .2 .4 .3 .4-.1 .4-.2 .4 .1 .3 .3 .4-.3 .4 .2 .4 0 .4 .1 .4 0 .4 .2 .4 .1 .4-.2 .4-.1 .4-.5 .4 .1 .4-.1 .4 .4 .4-.1 .3 0 .4 .3 .4 .2 .4 .2 .4-.4 .4 .1 .4 .2 .4-.4 .4 0 .4-.2 .4 0 .4 .3 .4 0 .4-.1 .3-.1 .4 .4 .4 .1 .4-.5 .4 .6 .4-.4 .4-.1 .4-.1 .4-.1 .4 .2 .4-.4 .4 .1 .4-.1 .4 .4 .4-.2 .3-.2 .4-.2 .4-.2 .4-.4 .4-1 .4-.2 .4-.5 .4-.3 .4-.5 .4-.6 .4-.5 .4-.2 .4 .3 .4 .4 .3 .2 .4 .6 .4 .7 .4 .3 .4 .5 .4 .3 .4-.2 .4 .6 .4 .4 .4 .4 .4 .3 .4-.3 .4 .2 .4-.1 .4-.1 .3 .1 .4-.1 .4-.6 .4 .2 .4-.5 .4-.6 .4-.5 .4-.5 .4-.6 .4-.1 .4-.4 .4-.6 .4 .2 .4 .1 .4 .2 .3 .7 .4 .3 .4 .4 .4 .6 .4 0 .4 .3 .4 .6 .4 .6 .4-.3 .4 .3 .4 0 .4 .2 .4 .2 .4 .4 .3 .2 .4 0 .4-.1 .4-.2 .4-.5 .4 .2 .4-.3 .4-.1 .4 .2 .4-.3 .4 .6 .4-.1 .4-.1 .4-.1 .4-.2 .3-.3 .4-.1 .4-.6 .4-.3 .4-.5 .4-.4 .4-1 .4-.6 .4-.7 .4-.6 .4-.6 .4-.6 .4-.4 .4-.1 .3 .4 .4 .2 .4 .6 .4 .3 .4 .8 .4 .9 .4 .9 .4 .3 .4 .5 .4 .5 .4 .5 .4 .2 .4 .2 .4 .3 .4 .2 .3 .4 .4-.2 .4-.1 .4 .4 .4 .1 .4 0 .4-.3 .4 .4 .4-.3 .4 .4 .4 0 .4-.1 .4 0 .4 .2 .3-.1 .4-.4 .4 0 .4-.3 .4 .4 .4 .3 .4 .2 .4-.4 .4 .6 .4 .2 .4-.4 .4-.5 .4-.1 .4 .4 .4 .5 .3-.4 .4-.5 .4-.1 .4 .6 .4-.1 .4-.4 .4-.4 .4 .4 .4 .2 .4-.2 .4-.2 .4-.1 .4-.2 .4-.3 .4-.4 .3-.3 .4 .1 .4-.3 .4-.1 .4 0 .4-.8 .4 .1 .4 .5 .4 .2 .4 .1 .4 .5 .4 .2 .4 .1 .4 .3 .3 .3 .4 .2 .4 .3 .4 0 .4-.1 .4 .8 .4-.3 .4-.2 .4-.1 .4-.1 .4-.3 .4 .3 .4 .4 .4-.5 .4 0 .3 .2 .4-.1 .4 .2 .4 0 .4-.2 .4 .1 .4-.1 .4 .2 .4-.5 .4 .3 .4 .4 .4 0 .4-.1 .4-.1 .3 .1 .4-.1 .4-.3 .4-.1 .4-.3 .4 .4 .4 .2 .4 .3 .4-.1 .4 .1 .4-.4 .4-.4 .4 .1 .4 .1 .4 .2 .3 0 .4 0 .4 0 .4 0 .4 0 .4 0 .4-.2 .4 0 .4-.4 .4-.2 .4 0 .4 .1 .4-.3 .4-.5 .3 .2 .4-.5 .4-.7 .4-.4 .4-.5 .4-.7 .4-.2 .4 .1 .4-.7 .4-.5 .4 .1 .4-.2 .4-.1 .4 .5 .4-.2 .3 .5 .4 .6 .4 .5 .4 .1 .4 .4 .4 1 .4 .3 .4 .2 .4 .6 .4-.2 .4 .3 .4-.1 .4 .7 .4-.2 .4 .3 .3-.1 .4 .2 .4 .2 .4 0 .4-.1 .4 .2 .4-.1 .4-.1 .4 .3 .4 .1 .4-.4 .4-.1 .4 0 .4 .3 .3-.3 .4 .6 .4-.1 .4 0 .4 .2 .4-.3 .4 .1 .4 .1 .4 .2 .4-.4 .4 .3 .4 0 .4 0 .4 .1 .4-.2 .3-.1 .4 .2 .4-.2 .4 .2 .4 .2 .4-.2 .4 0 .4-.3 .4-.1 .4 .4 .4-.3 .4 0 .4 .1 .4-.2 .3 0 .4-.1 .4 .6 .4 0 .4 .1 .4 .3 .4-.1 .4 0 .4-.4 .4-.3 .4 .4 .4 .2 .4-.5 .4 .3 .4-.1 .3 .1 .4 .1 .4 .2 .4-.4 .4-.1 .4 .2 .4-.2 .4 .1 .4-.1 .4-.4 .4 0 .4 .4 .4-.2 .4-.3 .4 .1 .3 .2 .4 .2 .4 0 .4 .1 .4-.3 .4-.1 .4-.1 .4 .1 .4 .2 .4 .3 .4-.2 .4 .2 .4 .1 .4-.4 .3-.2 .4 .1 .4-.2 .4 .6 .4-.6 .4-.1 .4 .4 .4-.2 .4 .3 .4-.3 .4 .4 .4-.3 .4 .2 .4 .2 .4-.5 .3-.1 .4-.2 .4 0 .4 .4 .4 .1 .4 .2 .4 .2 .4 0 .4 0 .4-.3 .4-.2 .4 .1 .4 .2 .4 .1 .3-.1 .4-.2 .4 0 .4 .3 .4-.1 .4 .3 .4-.5 .4 .1 .4-.1 .4 .1 .4-.3 .4 0 .4-.1 .4-.1 .4-.3 .3-.2 .4 0 .4 .2 .4-.1 .4-.1 .4-.1 .4-.5 .4 .2 .4-.2 .4-.4 .4-.1 .4 .2 .4 0 .4-.4 .3 .7 .4-.4 .4 .6 .4 .2 .4-.2 .4 .4 .4 .3 .4 .2 .4 .1 .4 0 .4 0 .4-.1 .4 .1 .4 .3 .4-.1 .3 .4 .4-.6 .4 .1 .4-.3 .4-.2 .4 .4 .4 0 .4 0 .4-.1 .4 .1 .4-.2 .4 .2 .4 0 .4-.2 .4 .3 .3-.3 .4 .3 .4 .1 .4 .2 .4-.1 .4 .2 .4-.2 .4-.3 .4 .2 .4-.1 .4 0 .4 .1 .4-.2 .4 .4 .3-.4 .4 .4 .4-.1 .4 .4 .4 0 .4-.1 .4-.1 .4-.1 .4-.4 .4 0 .4-.1 .4 0 .4 .1 .4 0 .4 .1 .3 0 .4 0 .4 .1 .4 .1 .4-.3 .4 0 .4 .8 .4-.3 .4-.1 .4-.3 .4 .3 .4 .2 .4-.1 .4-.2 .3-.1 .4-.4 .4 .3 .4-.1 .4 .1 .4 .1 .4 0 .4 .3 .4 0 .4-.4 .4 0 .4 0 .4-.1 .4 .2 .4-.4 .3-.5 .4-.1 .4 .2 .4-.3 .4 .1 .4-.4 .4 .1 .4-.1 .4-.3 .4-.1 .4-.1 .4 .1 .4-.2 .4-.2 .3-.1 .4 0 .4-.1 .4 .2 .4-.5 .4 .1 .4-.1 .4-.2 .4 .2 .4 .2 .4 .2 .4 .1 .4-.2 .4 .2 .4 .2 .3 .5 .4 0 .4 .1 .4 .4 .4-.1 .4-.1 .4 .2 .4 .3 .4 0 .4-.3 .4 .1 .4 .4 .4-.1 .4 .3 .4 0 .3-.1 .4 .2 .4-.5 .4-.2 .4 0 .4 .5 .4 .1 .4 .2 .4 0 .4 0 .4-.1 .4 0 .4 .3 .4 .1 .3-.4 .4 .2 .4 .4 .4 0 .4-.4 .4 .2 .4-.1 .4-.1 .4 .2 .4 .2 .4-.3 .4 0 .4-.1 .4 0 .4 .4 .3-.3 .4 .1 .4 0 .4-.1 .4-.3 .4 .3 .4-.3 .4 .3 .4-.1 .4 .1 .4-.1 .4-.2 .4-.1 .4 .2 .3 0 .4 .2 .4-.1 .4 .2 .4 0 .4-.1 .4-.1 .4 0 .4 .2 .4-.2 .4-.3 .4 .3 .4 .1 .4 0 .4 0 .3-.3 .4-.1 .4 .2 .4 .1 .4-.3 .4 .3 .4-.4 .4 .5 .4-.3 .4 0 .4-.1 .4-.1 .4 .1 .4-.2 .3 .2 .4 .2 .4 0 .4 .1 .4-.3 .4-.2 .4 0 .4 .5 .4 .1 .4-.4 .4 .5 .4 .1 .4 .1 .4 0 .4 .1 .3-.6 .4 .1 .4-.2 .4 .6 .4 0 .4-.2 .4-.1 .4-.5 .4 .2 .4-.1 .4 .5 .4 .1 .4-.2 .4-.1 .4 .3 .3-.3 .4 .3 .4-.1 .4-.2 .4 .1 .4 .4 .4-.6 .4 .2 .4 .1 .4-.1 .4 .3 .4-.1 .4 0 .4-.4 .3 .2 .4-.4 .4 .3 .4 .5 .4-.5 .4 .3 .4-.4 .4 0 .4 .2 .4-.4 .4 .2 .4-.2 .4 0 .4 .3 .4-.1 .3 .1 .4-.1 .4 .1 .4 .3 .4-.2 .4-.2 .4-.1 .4 .2 .4-.1 .4-.6 .4 .2 .4 .1 .4 .6 .4-.5 .3-.2 .4-.3 .4 0 .4-.4 .4-.1 .4 .1 .4-.3 .4 0 .4-.1 .4 .2 .4 .2 .4 .1 .4-.5 .4-.2 .4 .2 .3-.6 .4 .1 .4-.5 .4 .1 .4-.6 .4 0 .4 0 .4 .1 .4-.4 .4 .4 .4 .1 .4 .6 .4 .1 .4-.4 .4 .3 .3 .5 .4 .1 .4-.1 .4-.1 .4 .3 .4 0 .4 .3 .4 .1 .4 .5 .4-.2 .4 .2 .4-.1 .4 .2 .4 .3 .3-.1 .4-.2 .4 .1 .4 .2 .4-.1 .4 .2 .4 0 .4 .2 .4-.4 .4 .3 .4 .3 .4-.3 .4 .4 .4-.1 .4-.4 .3-.2 .4 0 .4 0 .4 .1 .4 .2 .4 0 .4-.1 .4-.1 .4-.3 .4 .1 .4 0 .4 .4 .4-.5 .4 .5 .3-.6 .4 .3 .4 .2 .4-.2 .4 0 .4 .4 .4-.2 .4 .1 .4 0 .4 .2 .4-.3 .4 .4 .4-.1 .4 .2 .4-.5 .3 .4 .4-.1 .4 .1 .4-.2 .4 .2 .4-.1 .4-.5 .4 .8 .4-.3 .4 0 .4-.1 .4-.1 .4 0 .4 .3 .3 .1 .4 .1 .4-.6 .4 .3 .4-.4 .4 .7 .4-.1 .4 .1 .4-.2 .4 0 .4-.3 .4 .5 .4-.2 .4 .1 .4-.3 .3 0 .4-.1 .4 0 .4 0 .4 .2 .4 .1 .4-.4 .4 0 .4-.2 .4 .5 .4-.3 .4 .2 .4 0 .4 0 .4-.4 .3 .6 .4-.1 .4 .1 .4 .2 .4-.4 .4-.2 .4 .5 .4 .3 .4-.5 .4 0 .4 .2 .4-.2 .4 .3 .4-.1 .3-.1 .4 0 .4-.2 .4 .3 .4-.3 .4 .3 .4 .4 .4-.7 .4 .4 .4-.5 .4 0 .4 .5 .4 .1 .4-.1 .4-.1 .3-.1 .4 0 .4-.1 .4-.1 .4-.3 .4 .6 .4-.2 .4 .4 .4-.1 .4-.1 .4-.4 .4 0 .4 .1 .4 0 .3-.1 .4-.4 .4 .2 .4 .1 .4 0 .4 0 .4-.2 .4 0 .4 .6 .4-.3 .4-.1 .4-.1 .4 .1 .4 0 .4 .6 .3-.4 .4 .3 .4-.2 .4 0 .4 .6 .4-.4 .4-.1 .4-.7 .4 .2 .4 .1 .4 .1 .4 .1 .4-.2 .4-.1 .3 .3 .4 0 .4 0 .4 .2 .4-.1 .4 0 .4-.3 .4 .1 .4-.3 .4 .6 .4-.3 .4 .5 .4-.3 .4-.1 .4 .3 .3-.1 .4 0 .4-.2 .4 0 .4-.2 .4 0 .4-.3 .4 .2 .4 0 .4 .5 .4 .4 .4 .1 .4-.6 .4-.1 .4 0 .3-.3 .4 .5 .4 .1 .4-.1 .4 .4 .4-.2 .4-.3 .4 0 .4-.1 .4 .1 .4-.3 .4 .2 .4 0 .4-.1 .3 0 .4 0 .4-.3 .4 .3 .4 0 .4 .5 .4-.2 .4 .1 .4-.1 .4-.1 .4-.3 .4 0 .4 0 .4-.4 .4 .2 .3 .1 .4 .2 .4 .3 .4-.2 .4 .3 .4 .1 .4 0 .4-.3 .4 0 .4 .3 .4 .2 .4 0 .4-.7 .4-.5"/>
<path stroke="#ee8228" d="M92.7 676.4l.4 .5 .4 0 .4-.1 .4 .6 .4-.1 .4-.3 .4 .9 .4-.6 .4-.7 .4-.4 .4 .2 .4 .7 .4 .4 .4 .3 .3 .5 .4 .2 .4-.4 .4 .1 .4-.3 .4-.6 .4 .3 .4-.2 .4-.2 .4 .9 .4-.2 .4-.6 .4-.1 .4 1 .4-.6 .3 .1 .4 0 .4-.1 .4 .1 .4-.5 .4-.3 .4 .1 .4-.1 .4 .5 .4 .6 .4-.9 .4 .3 .4-.6 .4-.1 .3 .1 .4 .2 .4-.1 .4-1.1 .4 1.3 .4-.1 .4-.2 .4 .5 .4-.4 .4-.5 .4 .6 .4 .2 .4-.4 .4 .6 .4 0 .3-.6 .4 .9 .4-.1 .4-.8 .4 .4 .4 0 .4 .4 .4-.8 .4 .6 .4 .3 .4 0 .4 0 .4 .3 .4-.1 .3-.3 .4-.6 .4 .6 .4 .2 .4-.2 .4-.2 .4 .2 .4-1.4 .4 .6 .4-1 .4 .8 .4 .7 .4 .8 .4-.7 .4 0 .3-.2 .4-1 .4 .8 .4 0 .4 .1 .4-.4 .4 .2 .4 .1 .4 .7 .4-.2 .4 1.4 .4-1.1 .4-.5 .4-.1 .3-.4 .4 .8 .4 .1 .4-.9 .4 .2 .4 .6 .4-.9 .4 .3 .4-.1 .4 1.2 .4-.3 .4-.6 .4-.3 .4 1 .4-.6 .3 .9 .4-1.3 .4 0 .4 0 .4-.2 .4 .1 .4 .4 .4-.3 .4-.6 .4 1 .4 .6 .4-.7 .4 0 .4-1.2 .4 1 .3-.6 .4 .1 .4 1.3 .4-1 .4 .1 .4-.4 .4-.6 .4 .1 .4 .6 .4-.4 .4 .2 .4 .6 .4-.1 .4-.5 .3 1 .4-.2 .4 .5 .4-.8 .4 .8 .4-1 .4-.7 .4 .3 .4 .1 .4 .4 .4-.2 .4 .4 .4 .5 .4-.7 .4-.6 .3 0 .4 .6 .4 .2 .4-.5 .4-.6 .4-.1 .4 .2 .4-1 .4 .1 .4-.9 .4-.9 .4-1.2 .4 .2 .4-.3 .3-.2 .4 1.6 .4 .7 .4 1.4 .4 .4 .4 0 .4 .4 .4-.1 .4-.2 .4 .3 .4 .6 .4-.1 .4-.1 .4-.3 .4 .4 .3 0 .4 .3 .4-.1 .4 .8 .4-1.4 .4 0 .4 .3 .4 .2 .4-1 .4-.4 .4 .3 .4 .6 .4 .3 .4-1.2 .3 .1 .4 .4 .4-.4 .4-.9 .4-.6 .4-.9 .4 .3 .4-1.2 .4-1.5 .4-1.9 .4-1.9 .4-2.7 .4-2.6 .4-1.6 .4-.8 .3 1.4 .4 2.6 .4 3.3 .4 2.2 .4 1.9 .4 1.3 .4 .4 .4 1.1 .4-.2 .4-.6 .4 1 .4 .2 .4-.3 .4 .7 .4 .6 .3 .4 .4-.5 .4 .6 .4-.1 .4 .2 .4 .2 .4 0 .4 .7 .4-.2 .4 .5 .4 .1 .4-.3 .4 .2 .4 .4 .3 .4 .4-.4 .4 .7 .4-.2 .4 .2 .4-1 .4-.4 .4 .8 .4-.2 .4 .2 .4 .4 .4-1 .4 .4 .4 .9 .4-.1 .3-.4 .4 .1 .4-.3 .4 .3 .4 .3 .4-.5 .4 .1 .4 0 .4 .1 .4 .2 .4-.8 .4 .6 .4 .2 .4-.8 .3-.1 .4-.5 .4 .2 .4 .4 .4-.4 .4-.1 .4-.1 .4 .1 .4 0 .4-.2 .4 .7 .4 0 .4-.3 .4 .7 .4-.4 .3 .5 .4-.7 .4 .8 .4-.4 .4-.4 .4 .4 .4-.6 .4-.2 .4 .5 .4-.1 .4 .4 .4 0 .4 .1 .4 0 .4 .3 .3-.2 .4 .4 .4 .1 .4-1.2 .4-.6 .4 1.3 .4-.3 .4 .1 .4-.1 .4 .2 .4 .9 .4-.8 .4-.1 .4-.1 .3-.5 .4-.1 .4 .1 .4 .3 .4 .2 .4-.9 .4-.3 .4 1.4 .4-.2 .4 .4 .4-.4 .4-.3 .4 1.1 .4-1 .4-.3 .3 .5 .4 0 .4-.7 .4 .4 .4 .5 .4-.8 .4 0 .4 .7 .4 .8 .4-1.5 .4 0 .4 .3 .4-.3 .4-.1 .3 .1 .4 .5 .4-.4 .4 .6 .4 .3 .4 .2 .4 .4 .4-.8 .4-.1 .4 .4 .4 .3 .4 0 .4-.6 .4-.3 .4-.6 .3 .2 .4-.2 .4 .1 .4 .1 .4 .6 .4 .3 .4-.2 .4-.6 .4 .1 .4 .4 .4 .3 .4-.1 .4 .2 .4-.6 .3 .3 .4 .2 .4-.4 .4-.3 .4 .7 .4-.7 .4 .5 .4-.3 .4-.1 .4 0 .4-.1 .4 .1 .4 .9 .4 .3 .4-.6 .3 0 .4 .2 .4-.5 .4 .7 .4-.4 .4 .1 .4-.7 .4-.4 .4-.2 .4 .1 .4 .8 .4-.2 .4 .4 .4-.4 .4-.4 .3 .3 .4-.1 .4-.7 .4 .5 .4 .7 .4-.2 .4-.6 .4-.1 .4-.3 .4 .3 .4-.1 .4 .2 .4 .3 .4 .6 .3-.8 .4-.9 .4 1.2 .4 0 .4-.5 .4 0 .4-.7 .4-.3 .4 .2 .4-.4 .4 0 .4 .2 .4 0 .4 0 .4 .5 .3 .8 .4 .4 .4-.7 .4 .5 .4-.9 .4-.3 .4 .8 .4 .4 .4 .6 .4-1.1 .4 .7 .4-.3 .4-.2 .4 .3 .3 .6 .4-.7 .4-.8 .4 .2 .4 .2 .4 .7 .4 0 .4-.4 .4-.3 .4-.2 .4 .5 .4-1.1 .4-.3 .4-.3 .4 .5 .3-.4 .4-.8 .4 .1 .4 .4 .4-.2 .4-1.1 .4 .2 .4 .9 .4-.7 .4 .2 .4 .6 .4 .9 .4-.1 .4 .5 .3 .2 .4 .3 .4-.4 .4-.7 .4-.3 .4 .9 .4 .8 .4 .2 .4-.8 .4-.5 .4 .4 .4-.1 .4-.5 .4 .4 .4 0 .3 .3 .4 .4 .4 .1 .4 0 .4 .1 .4-.3 .4-.4 .4-.2 .4 .4 .4-.6 .4 0 .4 .1 .4-.1 .4-2.1 .4-.3 .3 0 .4-.8 .4-.6 .4-.6 .4 .2 .4 .7 .4-.3 .4 1 .4 .4 .4 .8 .4 .1 .4 .8 .4 .5 .4 0 .3 .1 .4 .8 .4 .3 .4-.4 .4 .3 .4-.5 .4 0 .4-1 .4 .5 .4 .8 .4-.1 .4 .4 .4-.3 .4 .2 .4-.2 .3-.5 .4 1.1 .4-.9 .4-.8 .4 .1 .4 0 .4-.2 .4-.4 .4-.2 .4 .1 .4 0 .4-.9 .4 1.2 .4-.1 .3-.7 .4 1 .4 .2 .4 .3 .4 1 .4-.7 .4-.4 .4-.5 .4 .1 .4 .1 .4-.2 .4-.5 .4-1.4 .4 .3 .4 .5 .3-.4 .4 0 .4-.1 .4 .8 .4-.2 .4 1.7 .4 0 .4-.1 .4-.2 .4 .8 .4 .6 .4-.4 .4 .2 .4 .2 .3 .4 .4 0 .4 .3 .4-1 .4 1.3 .4-.8 .4-.6 .4-.2 .4 .4 .4 .5 .4 .9 .4 0 .4-1 .4-.2 .4-.2 .3-.2 .4 .1 .4-.1 .4 .7 .4 0 .4 .1 .4-.2 .4-.6 .4 .4 .4-.2 .4 1 .4 .1 .4-1 .4-.4 .4 0 .3 .1 .4 .7 .4-.2 .4 .1 .4-.3 .4-.1 .4 .6 .4-.2 .4 .7 .4-.5 .4-.1 .4-.1 .4 .1 .4 .6 .3-.9 .4-.5 .4-.4 .4 .9 .4-.1 .4-.2 .4-.2 .4-1.2 .4 .4 .4-.2 .4-.1 .4-.3 .4-.4 .4-.2 .4-.4 .3-.1 .4 .4 .4-1 .4 .9 .4 .5 .4-.5 .4 .6 .4 .2 .4-.2 .4 .9 .4-.3 .4-.3 .4-.8 .4 1.1 .3-.5 .4-.4 .4-.5 .4 .6 .4-.9 .4 .3 .4-.1 .4-.1 .4-.1 .4 .4 .4-.3 .4-.8 .4-.5 .4 1.7 .4-.5 .3 1.5 .4 1.6 .4-1.3 .4 .6 .4 .3 .4-.3 .4-.7 .4 .5 .4 1.1 .4-.2 .4-.1 .4 .1 .4 0 .4 .1 .4 1 .3-1 .4-.9 .4 .8 .4-.2 .4-.1 .4-.5 .4 .4 .4 0 .4 .4 .4-.1 .4-.6 .4 .6 .4 0 .4-.8 .3 .3 .4 .7 .4-.1 .4-.1 .4 .3 .4-.4 .4-.3 .4 .4 .4-.2 .4-.4 .4 .1 .4 0 .4 .2 .4 .1 .4-.5 .3-.2 .4-.5 .4 .4 .4 0 .4 .7 .4 .4 .4 .2 .4-.2 .4 .1 .4 .6 .4 .5 .4-.8 .4-1.5 .4 .9 .3-.5 .4 .4 .4 .4 .4 .7 .4-.4 .4-.2 .4-.3 .4 .3 .4-.6 .4 .5 .4 .2 .4 .5 .4-.5 .4 .1 .4 0 .3-.2 .4-.4 .4-.1 .4 .3 .4 .3 .4 .4 .4-.6 .4 .2 .4 .2 .4 .2 .4-.2 .4-.1 .4-.3 .4 .1 .3-.1 .4-.8 .4 .1 .4-.7 .4 1 .4 .6 .4-.2 .4 .1 .4 0 .4-.1 .4 .7 .4-.4 .4 0 .4-.2 .4 .9 .3-1.3 .4 .3 .4-.6 .4 0 .4-.2 .4 .7 .4-.5 .4-.2 .4 .1 .4-.2 .4-.2 .4 1 .4-.6 .4-.5 .4 .7 .3-.4 .4 .3 .4-1.1 .4 .1 .4 .5 .4 .2 .4 .4 .4 .6 .4 0 .4 .3 .4 0 .4-.6 .4 .1 .4 .5 .3-.7 .4 .3 .4 .1 .4 .4 .4-1.2 .4 1.2 .4-1.3 .4 0 .4 .9 .4-1.4 .4 .7 .4-.7 .4 .2 .4-.2 .4-.8 .3-.7 .4 .1 .4-.2 .4 0 .4 1.1 .4-.2 .4 .8 .4 .3 .4 .2 .4-.2 .4-.2 .4 .8 .4-.4 .4 0 .3 .2 .4 .5 .4 .8 .4 .5 .4-.4 .4-.2 .4-.1 .4-.4 .4-.2 .4-.8 .4 .6 .4-.2 .4 .4 .4 1 .4-.2 .3 .1 .4-.1 .4-.7 .4-.4 .4-.5 .4 .1 .4 .4 .4 .4 .4 .2 .4-.4 .4-.5 .4 .3 .4 .2 .4-.9 .3 .5 .4-.5 .4 .3 .4 .2 .4-.3 .4 .1 .4 .3 .4-.4 .4 .6 .4 .3 .4 0 .4-.7 .4 0 .4-.1 .4 .1 .3 .2 .4-.5 .4-.1 .4 .2 .4-.4 .4 .3 .4-.2 .4-.6 .4 .4 .4 .3 .4 0 .4 1.1 .4-.5 .4-.7 .4 .3 .3 .1 .4 .4 .4 1.1 .4-.6 .4 .1 .4-.7 .4-.5 .4-.1 .4 .1 .4 0 .4 .2 .4-.3 .4-.4 .4 0 .3 .7 .4-.6 .4 .6 .4 .6 .4-.9 .4 .4 .4 .1 .4-1.6 .4 .7 .4 .2 .4-.6 .4 .7 .4-1.4 .4 .4 .4-.5 .3-1.3 .4-.9 .4-2.2 .4-1.5 .4-2.5 .4-3.1 .4-3.6 .4-4.8 .4-3 .4-1.9 .4-.5 .4 3.4 .4 3.6 .4 2.4 .3 2.1 .4-.2 .4-2 .4-2 .4-2.3 .4-1.7 .4-.8 .4 .4 .4 2.8 .4 4 .4 4.3 .4 2.7 .4 2 .4 2 .4 1.9 .3 1.4 .4-.3 .4 .6 .4 .5 .4-.2 .4-1.1 .4-.3 .4-1.1 .4-1.2 .4-.3 .4-2 .4-1.8 .4-1.5 .4-1.4 .3-1.7 .4-1.3 .4-.2 .4-.2 .4 0 .4-.5 .4-1.7 .4-1.7 .4-2.5 .4-1.7 .4-1 .4-.4 .4 .6 .4 1.2 .4 2.4 .3 1.7 .4 2.5 .4 .6 .4 .6 .4 1.1 .4-.5 .4-1.1 .4-.2 .4-.1 .4 .5 .4 .7 .4 .3 .4 .5 .4 .3 .4-1.3 .3-1.4 .4-1.4 .4-1.1 .4-.5 .4-.5 .4 .3 .4 1 .4 2.2 .4 2.1 .4 1.8 .4 1.3 .4 .7 .4 1.7 .4 1.6 .3-.4 .4 0 .4 .8 .4 .4 .4 .2 .4 1.1 .4-.1 .4-.1 .4 .6 .4 .9 .4 .7 .4 1.1 .4 .7 .4-.2 .4 .8 .3 .2 .4 .9 .4 .5 .4-.5 .4 .4 .4-.6 .4 .5 .4 .2 .4 .2 .4-.5 .4-.2 .4 .1 .4 .3 .4 .5 .3-.4 .4-.7 .4 .3 .4 .8 .4 .4 .4-.7 .4 .5 .4 0 .4 .3 .4-.1 .4 .4 .4-.6 .4 .9 .4 .1 .4-1.1 .3-.6 .4 .8 .4-.8 .4 0 .4 .6 .4 0 .4 .1 .4-1 .4 .2 .4 .6 .4 1.1 .4-.3 .4-.3 .4-.1 .4 .4 .3 0 .4-.7 .4-.9 .4 .4 .4 .1 .4 1.1 .4-.7 .4 .4 .4-1.1 .4 .7 .4-.5 .4 .3 .4 0 .4 .2 .3 0 .4-.5 .4 .5 .4-.4 .4 .2 .4-.3 .4 .2 .4 .1 .4 0 .4-.3 .4 .7 .4-.2 .4 0 .4-1.1 .4 .7 .3-.6 .4 .3 .4-.7 .4 1.5 .4-1 .4 .2 .4-.4 .4-.2 .4-.3 .4 1.3 .4 .9 .4-.6 .4 .2 .4-.6 .3-.5 .4 1 .4 0 .4-.9 .4 0 .4 .1 .4-.2 .4 .1 .4-.3 .4 .1 .4-.1 .4-.1 .4-.2 .4 .9 .4-.5 .3-.2 .4 .1 .4-.1 .4-.6 .4 .6 .4-.7 .4-.1 .4 .3 .4-.1 .4-.3 .4 .1 .4-.4 .4-.1 .4-.4 .3-.3 .4-.1 .4 .3 .4-.1 .4 0 .4 .4 .4-.5 .4-1 .4 .3 .4 .8 .4-1.9 .4 .2 .4-.5 .4-.5 .4 .6 .3-.3 .4-.3 .4-.9 .4-.4 .4-.7 .4 .6 .4-.8 .4-1.6 .4-.4 .4 .1 .4-1.4 .4-1 .4-1 .4-1 .4-1.2 .3-2 .4-1.9 .4-1.5 .4-2.7 .4-2.3 .4-2.3 .4-3 .4-3.5 .4-2.4 .4-3.7 .4-4 .4-5.1 .4-2.5 .4-2.9 .3-3.1 .4-2.4 .4-1.9 .4 .6 .4 .5 .4 2.1 .4 2.6 .4 1.3 .4 3.7 .4 2.6 .4 4.3 .4 3.8 .4 3.3 .4 3.8 .4 3.2 .3 2.6 .4 2.6 .4 2.8 .4 2.2 .4 2.2 .4 1.6 .4 1.1 .4 1.1 .4 1.5 .4 .8 .4 .8 .4 1.5 .4 .8 .4 .5 .3 .8 .4 .3 .4 1.2 .4 .1 .4 .4 .4-.2 .4 .3 .4 0 .4 .9 .4 .7 .4 .4 .4-.1 .4 .3 .4 .3 .4 0 .3-.6 .4 1.5 .4 .1 .4 .3 .4 .2 .4-.5 .4 .1 .4-.1 .4 .6 .4 0 .4-.3 .4 .3 .4 1.3 .4-.6 .3 0 .4 .8 .4-1 .4 .1 .4 .5 .4 0 .4-.5 .4 0 .4 .1 .4 .4 .4 .3 .4-1.2 .4 .3 .4-.1 .4 .3 .3-.1 .4 .3 .4-.6 .4 .4 .4 .4 .4 .5 .4 .4 .4-.5 .4-.5 .4 .6 .4-.1 .4-.1 .4 .1 .4-.9 .4-.2 .3-.1 .4-.1 .4 1.1 .4-1 .4 .3 .4 .1 .4-.3 .4 .5 .4-.4 .4-.4 .4-.2 .4 1.1 .4-.3 .4 .1 .3 .2 .4 .1 .4-.6 .4 .4 .4 .3 .4-1 .4 .5 .4 .1 .4 .2 .4-.1 .4-.4 .4-.5 .4 .3 .4 0 .4 0 .3-.5 .4 .4 .4 .1 .4 0 .4-.7 .4 0 .4 .2 .4-1.1 .4-.3 .4 .1 .4-.7 .4 .1 .4 0 .4-.8 .3 .4 .4-.3 .4 .3 .4-.6 .4-.7 .4-.3 .4-.2 .4-1.4 .4-.2 .4 0 .4-.2 .4-.7 .4-1.4 .4-.6 .4-.6 .3-.9 .4-.9 .4-.3 .4-.7 .4-2.1 .4-2 .4-1.4 .4-.8 .4-2.4 .4-2 .4-2.1 .4-.9 .4-2.1 .4-1.8 .4-1 .3-1.7 .4-2 .4-2 .4-.3 .4-.8 .4-.6 .4 .1 .4 0 .4 1 .4 1.2 .4 .8 .4 1.9 .4 2 .4 2.4 .3 1.8 .4 2.4 .4 1.6 .4 1.2 .4 1.7 .4 1.4 .4 1 .4 1.5 .4 1.5 .4 .8 .4 1.4 .4 1.5 .4 1.7 .4 .4 .4 .5 .3 .5 .4 .1 .4 1.4 .4 .4 .4 .4 .4 .3 .4 1.4 .4 .9 .4 .2 .4 0 .4-.3 .4-.4 .4 .5 .4 .4 .3 1.3 .4 0 .4-.6 .4 1.2 .4 .4 .4-.3 .4 .3 .4 .4 .4-.3 .4-.2 .4 .4 .4 .4 .4 .3 .4-.6 .4-.2 .3 .4 .4 0 .4 .1 .4 1.1 .4-1 .4 .2 .4-.3 .4 .5 .4 1 .4-.2 .4 .4 .4-.8 .4 .2 .4 .6 .3-.5 .4-.4 .4-.5 .4 1 .4-.1 .4 .6 .4-.2 .4-.2 .4 .2 .4-.1 .4 .4 .4-.6 .4-.3 .4 .1 .4-.2 .3 0 .4 .5 .4 0 .4-.2 .4 .7 .4-1 .4-.2 .4 0 .4 .5 .4 .1 .4 0 .4 .4 .4-.6 .4-.6 .4 .5 .3 .4 .4-1 .4-.4 .4 0 .4 .1 .4-.2 .4 .2 .4-1.1 .4-.1 .4-.7 .4 .6 .4 .3 .4-.3 .4-.5 .3-.4 .4-.4 .4-.6 .4 0 .4-.1 .4-.8 .4-.2 .4 .2 .4-.1 .4 0 .4 0 .4-2.1 .4-.9 .4-.6 .4-.2 .3 .2 .4-1.4 .4 0 .4-.2 .4 .2 .4-.3 .4-.7 .4 .1 .4-.3 .4 .1 .4 .2 .4 .3 .4 .5 .4 .5 .3 .7 .4 .4 .4-.6 .4 .9 .4 .2 .4 1 .4 0 .4 .1 .4-.1 .4 .8 .4 .9 .4-.1 .4 .6 .4 .1 .4-.5 .3 .6 .4 .3 .4 .6 .4-.6 .4 .7 .4 .1 .4 .5 .4-.4 .4-.3 .4 0 .4 0 .4 .4 .4-.7 .4-.2 .3-.6 .4-.1 .4 0 .4 .4 .4-.7 .4-.3 .4-.5 .4 0 .4-.8 .4-.6 .4-.2 .4-.5 .4-.2 .4-.3 .4-.4 .3 .4 .4-.3 .4-.2 .4 .4 .4 1 .4-.1 .4 0 .4 .6 .4 .5 .4-.2 .4 1.1 .4 .9 .4-.2 .4 .2 .4 .8 .3 .5 .4 .3 .4 .9 .4-.6 .4 .3 .4 .7 .4 .5 .4 0 .4-.5 .4 1.2 .4 .6 .4 0 .4 .2 .4 .5 .3 .9 .4-.9 .4 0 .4-.8 .4 0 .4 1.1 .4-.1 .4-.8 .4 0 .4 1.3 .4 .2 .4 .5 .4 .4 .4-.7 .4-.1 .3-.3 .4-.2 .4 .7 .4 .1 .4-.4 .4-.6 .4 .3 .4 .2 .4-.1 .4 .7 .4 .2 .4 .1 .4 .4 .4-.5 .3-.1 .4 .9 .4-.9 .4 .1 .4 .3 .4-.1 .4-.1 .4 .1 .4 .3 .4-.2 .4-.3 .4-.7 .4 .2 .4 0 .4-.1 .3-.1 .4-.2 .4 .2 .4 .4 .4-.3 .4-.2 .4 1 .4 .3 .4-.4 .4 .2 .4-.2 .4 .2 .4 .2 .4-.7 .3-.6 .4 .9 .4 .2 .4-.4 .4 .7 .4 0 .4-.1 .4 .5 .4 .3 .4-.1 .4-.3 .4-.6 .4 .1 .4-.3 .4 .5 .3 .3 .4-.3 .4 .3 .4-.9 .4 .7 .4-.1 .4-1.1 .4 .4 .4 .5 .4 .2 .4-.6 .4 .5 .4 .2 .4-.2 .4 .5 .3-.6 .4 0 .4-.1 .4-1 .4 .6 .4 .4 .4-.4 .4 .1 .4 .5 .4-.3 .4 .2 .4 0 .4-.1 .4 .2 .3-1 .4-.3 .4-.1 .4 .7 .4 .6 .4-.4 .4-.8 .4 .9 .4-.4 .4-.4 .4 .3 .4-.3 .4 .4 .4 .1 .4-.6 .3 .8 .4-.3 .4-.1 .4 .5 .4 0 .4-1.6 .4 .2 .4 0 .4 .3 .4 .2 .4 .5 .4-1.4 .4 .1 .4 .6 .3-.4 .4 .6 .4 .1 .4-.1 .4-.9 .4-.8 .4 .2 .4 .1 .4 .2 .4 .5 .4-.4 .4-.5 .4 1 .4 .1 .4-.6 .3-.2 .4-1.7 .4 .4 .4 .7 .4 .6 .4 0 .4 0 .4-.1 .4-.1 .4 1 .4 .7 .4 0 .4-.7 .4-1.1 .4 .8 .3-.4 .4 .2 .4 .4 .4 .8 .4-.7 .4 0 .4 .5 .4 .3 .4-.3 .4 .1 .4 .2 .4-.3 .4-.8 .4 .4 .3 1 .4-.8 .4-.2 .4 .8 .4 .6 .4-.2 .4-.1 .4-.9 .4-.3 .4 .1 .4-.4 .4 1 .4-.4 .4 1.4 .4-.9 .3 .2 .4-.3 .4 0 .4 .6 .4-.7 .4 0 .4 .6 .4-.6 .4 1.3 .4-1.1 .4 .3 .4-.1 .4 .1 .4-.2 .3-.3 .4 .2 .4-.4 .4-.4 .4 1 .4-1.2 .4 .6 .4-.3 .4-.9 .4-.6 .4 .3 .4 .7 .4 .7 .4-.3 .4 .4 .3-.4 .4-.2 .4-.2 .4 .4 .4-1 .4-.9 .4 .9 .4-.1 .4-.1 .4 .2 .4-.2 .4-.5 .4 .4 .4 0 .3-.8 .4-.2 .4-.5 .4-.3 .4-.4 .4 .3 .4-.7 .4-.3 .4 .3 .4-.1 .4 .4 .4-.8 .4-.2 .4-.3 .4 .3 .3-.4 .4 0 .4-.9 .4-.1 .4 .8 .4-.2 .4 0 .4 .3 .4-.1 .4-.6 .4 .2 .4-.1 .4 .2 .4 .2 .4 .5 .3 .5 .4 .5 .4-.7 .4 .2 .4 .7 .4-.4 .4-.2 .4 1.2 .4 .2 .4 .2 .4-.3 .4 .7 .4 .3 .4-.2 .3 .1 .4 .3 .4-.1 .4 .1 .4 .8 .4-.3 .4-.6 .4 .9 .4 .8 .4-.5 .4 .2 .4 0 .4-.3 .4-.1 .4 .5 .3-.6 .4 .6 .4 1.4 .4 .8 .4-1.7 .4 .1 .4-.3 .4 .4 .4-.1 .4 .1 .4 .2 .4 .3 .4 .1 .4 .3 .3 .3 .4 .6 .4-.3 .4-.3 .4 .3 .4-.2 .4 .2 .4-.7 .4-.6 .4 .8 .4-.6 .4-.2 .4 .3 .4-.1 .4 .6 .3 .2 .4 .1 .4 .5 .4-.3 .4-.4 .4-.5 .4 0 .4-.1 .4 .4 .4 .9 .4-.4 .4 0 .4-1 .4 1.2 .3-.6 .4 .2 .4-.7 .4 .8 .4 0 .4-.4 .4 .8 .4 .5 .4-.4 .4-.4 .4 0 .4-.3 .4 .3 .4-.2 .4-.3 .3 .2 .4 .9 .4-1 .4 .6 .4 .1 .4 .1 .4-.1 .4 .1 .4-1.2 .4 .3 .4-.7 .4 .5 .4 .2 .4 .4 .4 .2 .3-.4 .4-.1 .4 .8 .4 .3 .4-.4 .4-.5 .4 0 .4 .5 .4 0 .4-.1 .4 .4 .4-.1 .4 0 .4-.3 .3-.1 .4 .1 .4-.6 .4 0 .4-.6 .4 .4 .4-.3 .4 .6 .4 .7 .4-.4 .4 .2 .4 .3 .4-1.1 .4 .8 .4-1 .3-.3 .4-.1 .4-.1 .4-.1 .4 .7 .4 .5 .4 .4 .4 0 .4 .4 .4-.5 .4-.3 .4 .6 .4-.6 .4 .5 .3-.4 .4-.8 .4-.1 .4 0 .4 .4 .4 .2 .4 .3 .4 0 .4 .3 .4-1.2 .4 .4 .4 .6 .4-.7 .4 .2 .4 .2 .3-.7 .4-1.1 .4 .1 .4 .2 .4 .5 .4 .1 .4 0 .4-.4 .4-.4 .4-.4 .4 0 .4-.2 .4 0 .4-.4 .3-.5 .4 .4 .4-.4 .4 .3 .4 .3 .4-.9 .4 .9 .4-1.1 .4-.8 .4-.3 .4-.1 .4 .4 .4 .7 .4-.1 .4 .5 .3-1.4 .4 .6 .4-.5 .4-.1 .4 1.4 .4 .5 .4-.4 .4-.6 .4-.2 .4-.4 .4 .3 .4 .6 .4 .3 .4 0 .4-.3 .3 .4 .4 .1 .4 .7 .4-.4 .4 0 .4 0 .4-.2 .4-.1 .4-.3 .4 .1 .4-.9 .4-.4 .4-.3 .4 0 .3-.1 .4 .7 .4-.2 .4-.2 .4-.1 .4 .2 .4-.8 .4 .1 .4-.3 .4 .5 .4 .7 .4-.2 .4 .2 .4 .4 .4-.5 .3 .2 .4-.8 .4 .7 .4 .4 .4 .1 .4 1.2 .4-.1 .4-.3 .4 0 .4 .2 .4-.6 .4 .8 .4-.1 .4 .6 .3 .5 .4 .8 .4-.4 .4 0 .4 .1 .4 .2 .4-.2 .4 .2 .4-.1 .4 .3 .4 .8 .4-.3 .4 .6 .4-.2 .4 .4 .3 0 .4-1.1 .4-.2 .4-.4 .4 .7 .4-.3 .4 .8 .4-.1 .4 .2 .4-.5 .4-.8 .4 .3 .4 .2 .4 .4 .4 .4 .3-.5 .4 .3 .4-.2 .4 .7 .4-.5 .4 .2 .4 .5 .4 0 .4 .1 .4 .2 .4-.1 .4-.1 .4-.7 .4 .8 .3 .1 .4 .3 .4-.7 .4 0 .4-1.2 .4 .4 .4-.1 .4 .1 .4 .4 .4-.2 .4 .3 .4-.8 .4 1.4 .4-.8 .4-.4 .3-.4 .4 .8 .4-.9 .4 .1 .4 1.1 .4-.7 .4-.1 .4-.2 .4 .7 .4-.3 .4 .2 .4-.2 .4-.1 .4-.7 .3 .7 .4 .1 .4-.1 .4 .3 .4-.1 .4 0 .4 .1 .4 .2 .4-.5 .4 .5 .4 0 .4-.5 .4-.2 .4 .5 .4 0 .3-.6 .4-.4 .4 1.3 .4-.8 .4-.2 .4 .1 .4-.4 .4 1.1 .4-.6 .4-.4 .4 .3 .4-.4 .4-.2 .4 .6 .3 .5 .4 .4 .4-.5 .4-.6 .4-.2 .4-.2 .4 .2 .4 .2 .4-.3 .4 .5 .4 0 .4-.7 .4 .7 .4-.6 .4-.1 .3 .4 .4 0 .4-.5 .4 0 .4 .2 .4-.7 .4-1.1 .4 1.2 .4-.8 .4 .1 .4 1.1 .4-.7 .4 .1 .4-.9 .4 .9 .3-.9 .4 .5 .4-.5 .4 .3 .4-.2 .4-.9 .4-.7 .4-.9 .4 .2 .4 .6 .4-.6 .4-.2 .4 0 .4-.4 .3-.3 .4-.3 .4-1 .4-.8 .4-.2 .4-.6 .4-.2 .4-1.1 .4 .1 .4 .2 .4 0 .4-.7 .4-.3 .4 .4 .4-.4 .3-.7 .4-1 .4 0 .4-.1 .4-.7 .4-.2 .4-.6 .4 1.1 .4-.5 .4 1.5 .4-.3 .4-.2 .4 .4 .4 .4 .3 .3 .4-.2 .4-.2 .4 .3 .4 .5 .4 0 .4 .6 .4 .6 .4 0 .4 0 .4 .3 .4-.7 .4 .2 .4 .1 .4 .5 .3 0 .4-.9 .4 .5 .4-1.2 .4 .3 .4-.6 .4-.3 .4-.8 .4-.7 .4-1.2 .4 .3 .4-.9 .4-.3 .4-1.2 .3-.1 .4-.7 .4-1 .4-.6 .4-.9 .4-.3 .4 .1 .4-1.4 .4-1.3 .4 0 .4-.3 .4 .8 .4-.3 .4-.6 .4 .9 .3 .5 .4 .2 .4 1.1 .4 1.1 .4 .6 .4 1.6 .4 .5 .4 1.2 .4-.4 .4 1.4 .4 .7 .4 .7 .4 1 .4 .8 .4 .9 .3 .6 .4 .8 .4 .2 .4-.5 .4 .9 .4 0 .4 .7 .4 .5 .4 .7 .4 .7 .4 .5 .4 .1 .4 .7 .4 0 .3-.3 .4 .7 .4-.1 .4 .7 .4 1 .4-.2 .4 .3 .4 .5 .4-.3 .4-.5 .4 .7 .4 .3 .4-.5 .4 .4 .4-.1 .3-.1 .4-.6 .4 .1 .4 .7 .4-.5 .4 .6 .4 .5 .4-.7 .4 1.5 .4-.1 .4-.8 .4 .2 .4 .7 .4 .7 .3-1.1 .4 .2 .4-.3 .4 .7 .4-.4 .4 0 .4-.3 .4 .9 .4-.7 .4-.3 .4-.4 .4 0 .4 .2 .4 .6 .4-.7 .3 .2 .4-.3 .4 .6 .4-.3 .4 .4 .4-.6 .4 .9 .4-.3 .4 .5 .4-.2 .4-.5 .4 .2 .4 .8 .4-.4 .3-.1 .4 .3 .4-.6 .4 .3 .4-.2 .4 .5 .4-.6 .4-.2 .4 .5 .4 .2 .4-.1 .4-.4 .4 .3 .4-.2 .4 .7 .3-.7 .4-.5 .4-.3 .4 .9 .4 .7 .4 0 .4-.2 .4-.1 .4 .7 .4-.4 .4 .5 .4-.2 .4-.4 .4-.4 .4-.2 .3 .1 .4-.6 .4 .3 .4 .2 .4 0 .4 .2 .4-.3 .4 .3 .4 .1 .4 .3 .4 .2 .4-.4 .4 0 .4-.3 .3-.2 .4-.3 .4 .1 .4 .3 .4-.1 .4-.2 .4-.2 .4 .5 .4-.3 .4 .1 .4 .4 .4 .6 .4-1 .4-.6 .4 .2 .3-.2 .4 .8 .4-.4 .4 .6 .4-.3 .4-.3 .4-.2 .4-.3 .4-.3 .4 .4 .4 .4 .4-.4 .4-1 .4 .7 .3-.3 .4 .5 .4 .1 .4-.9 .4 .3 .4-.7 .4-.2 .4-.4 .4-.3 .4 .8 .4-.4 .4-.5 .4 .6 .4 .1 .4-.4 .3-.1 .4-.2 .4 .3 .4-1.5 .4 0 .4 .3 .4-.1 .4 .5 .4-.3 .4-.9 .4 .9 .4-1.4 .4 .2 .4 .6 .4 1 .3-.1 .4-.2 .4-.6 .4 .6 .4-.8 .4 .1 .4-.8 .4 .1 .4-.2 .4 .4 .4 .8 .4-.4 .4 .7 .4-.1 .3 .8 .4-.6 .4 0 .4-1.3 .4 .8 .4 0 .4-.1 .4 .5 .4 .1 .4 .8 .4 .2 .4-.9 .4-.3 .4 .6 .4-.1 .3-.1 .4 .7 .4-.7 .4 .1 .4-.1 .4-.2 .4 .4 .4 0 .4-.2 .4-.7 .4-.2 .4 .1 .4-.9 .4 .3 .3-.2 .4-.1 .4-.4 .4 .5 .4-.6 .4 .4 .4-.1 .4-.7 .4-.2 .4-.4 .4-.3 .4 0 .4-.2 .4-.7 .4-.1 .3 .3 .4-.3 .4-.2 .4-.2 .4-.3 .4 .6 .4-.5 .4-.1 .4 .1 .4 .5 .4-.2 .4-.1 .4-.6 .4 .1 .3 .4 .4 .4 .4-.4 .4 .8 .4-.6 .4 .9 .4 .2 .4 .1 .4-.3 .4 .4 .4 .2 .4 .5 .4 .5 .4 .1 .4-.3 .3 1 .4 .1 .4 .8 .4-.2 .4 .7 .4-.7 .4 0 .4 .9 .4-.6 .4 .3 .4 .8 .4 .3 .4 1 .4-.3 .4 .6 .3-.3 .4 .7 .4-.4 .4 .2 .4 .5 .4 .6 .4-1.2 .4-.7 .4-.3 .4 .6 .4 .2 .4 .5 .4 1 .4-.1 .3-.5 .4 .5 .4-.2 .4-1.6 .4 .9 .4 .1 .4-.2 .4-.5 .4 .2 .4 1.2 .4-.4 .4-.6 .4 .2 .4-.7 .4 .8 .3 .1 .4-.3 .4 .2 .4-.7 .4 0 .4 .1 .4 .1 .4 .9 .4-.2 .4-.9 .4 0 .4-.3 .4 .3 .4-.7 .3 .7 .4-.3 .4 .5 .4 .4 .4 .1 .4-1 .4-.1 .4-.6 .4 .3 .4 .2 .4 .7 .4 0 .4 .1 .4-.4 .4-.3 .3 .2 .4-.1 .4 .1 .4 .1 .4 .8 .4-.3 .4 1.2 .4-.1 .4-.6 .4 .1 .4 .6 .4-1.1 .4 .6 .4 .7 .3-.3 .4-.8 .4-.4 .4 .6 .4 .2 .4 .6 .4-.9 .4 .3 .4 .8 .4 0 .4-.6 .4 0 .4-.1 .4 1.1 .4 .4 .3-.7 .4-.2 .4 0 .4 .1 .4-.2 .4-.2 .4-.2 .4 .5 .4 .4 .4-.3 .4-.1 .4 .5 .4-.1 .4-1.5 .4 .4 .3 .3 .4 .3 .4-.1 .4-.3 .4 .4 .4 .2 .4-.5 .4 .1 .4 .1 .4-.1 .4 1.6 .4-.6 .4-.4 .4-.6 .3-.4 .4 .3 .4 .3 .4-.3 .4-.1 .4-.1 .4 .4 .4 .4 .4-1 .4 .4 .4-.4 .4-.3 .4 .6 .4 .3 .4 .8 .3-.6 .4 .4 .4-.8 .4-.5 .4 .4 .4-.8 .4 .1 .4 .3 .4-1 .4 .4 .4 .3 .4-1.2 .4 0 .4 .4 .3-.3 .4-.3 .4-.6 .4 1.2 .4-.1 .4-.4 .4-.2 .4 0 .4-.2 .4 0 .4 .2 .4-.7 .4 0 .4 .2 .4-.7 .3-.4 .4 .2 .4-.1 .4-.6 .4 0 .4-.4 .4 .4 .4-.1 .4-.5 .4 0 .4 .3 .4-.7 .4-.8 .4 .2 .3 .8 .4 .3 .4-.6 .4-.3 .4 0 .4 .6 .4 .2 .4-1.7 .4 .8 .4 0 .4-.5 .4 0 .4-.3 .4-.9 .4 .5 .3 .3 .4-.4 .4 .6 .4 .2 .4 .4 .4 0 .4-.4 .4 .7 .4-.1 .4-.2 .4 .9 .4 .1 .4 .9 .4 .1 .4-1.2 .3 1.1 .4-.2 .4 .2 .4 .1 .4-.1 .4 .7 .4 0 .4-.1 .4 .3 .4 .5 .4-.2 .4 .4 .4 .3 .4 .9 .3-.6 .4-.1 .4 .3 .4 .2 .4 .5 .4 .1 .4-.1 .4 .5 .4-.1 .4 0 .4 .2 .4 .3 .4-.7 .4 .1 .4 .8 .3 0 .4-1 .4 .6 .4-.2 .4-.2 .4-.1 .4 .4 .4-.1 .4 1.2 .4-.6 .4-.1 .4 .5 .4-.7 .4-.1 .3 0 .4 .3 .4 .6 .4-.5 .4 .7 .4-.7 .4 .1 .4 .3 .4 0 .4 .1 .4-.2 .4 .4 .4-.1 .4 .1 .4-.6 .3-.9 .4-.6 .4 1 .4-.3 .4 .9 .4 .1 .4-1.3 .4-.4 .4 .3 .4 .5 .4-.3 .4 .2 .4-.7 .4 .1 .4 .6 .3-.5 .4 .3 .4-1.2 .4 .3 .4 .4 .4-.6 .4-.6 .4 .2 .4 .6 .4 .6 .4 .5 .4-.8 .4 .8 .4-.2 .3-.4 .4-.6 .4 0 .4 .5 .4 0 .4-.1 .4 0 .4-.2 .4 0 .4 .1 .4-.2 .4-.5 .4-.2 .4 .6 .4 1.1 .3-.1 .4 0 .4 .3 .4-.8 .4 .5 .4 .4 .4-.5 .4 .2 .4 .3 .4-.2 .4 .5 .4 .9 .4-1.3 .4-.3 .3-.5 .4 .8 .4 .1 .4 .6 .4 .8 .4-.1 .4-1.3 .4 0 .4 .6 .4 .2 .4-.1 .4-.3 .4-.1 .4 1.1 .4-.1 .3-.8 .4-.1 .4 .1 .4 .1 .4 .1 .4 .3 .4 .1 .4 .6 .4-.3 .4-.4 .4 0 .4 0 .4-.1 .4-.6 .3 .1 .4 1.2 .4-.4 .4 .6 .4-.1 .4 .4 .4-.5 .4-.4 .4-.2 .4-.1 .4 0 .4 1 .4 .8 .4-.8 .4-.2 .3-.2 .4 .1 .4 .1 .4 .1 .4 .4 .4-.1 .4-.7 .4 .3 .4-.6 .4 .7 .4-.1 .4 .2 .4-.4 .4-.8 .4 .1 .3 .4 .4-.3 .4 .3 .4 .7 .4-.6 .4 .4 .4-.1 .4-.3 .4 0 .4 .2 .4-.3 .4 0 .4-.4 .4-.5 .3 1.2 .4-.5 .4 .6 .4-.2 .4 .4 .4-.3 .4 .6 .4 .5 .4-.7 .4-.1 .4-.3 .4-.2 .4 .2 .4 .2 .4 .3 .3-.1 .4-.2 .4-.9 .4 .1 .4-.3 .4-.1 .4 .3 .4 .1 .4-.2 .4 .3 .4-.6 .4-.5 .4 .2 .4 .2 .3 .4 .4 .1 .4-.1 .4-.2 .4 .5 .4-.8 .4 .3 .4-.2 .4 .1 .4 .2 .4 .5 .4-.1 .4-.4 .4-.5 .4-.3 .3 .7 .4-.3 .4-1.2 .4-.6 .4 .2 .4-.3 .4 .3 .4 .7 .4-.4 .4-.4 .4-.5 .4 .7 .4 .1 .4-.5 .3 .5 .4 .1 .4 .2 .4-.1 .4-.2 .4 .1 .4-.4 .4-1 .4 .1 .4 .3 .4 .8 .4-.8 .4 .4 .4-1.3 .4 .5 .3 .9 .4-.2 .4-.2 .4 .2 .4 .4 .4-.1 .4-.4 .4 .1 .4 .8 .4-.5 .4-.4 .4-.1 .4 .7 .4 .1 .4-.6 .3-.3 .4 .3 .4 .4 .4-.9 .4 .3 .4 1.5 .4-.4 .4 .1 .4 .1 .4-.2 .4-.3 .4-.3 .4 .7 .4 .2 .3-.1 .4 .4 .4-.3 .4-.7 .4 0 .4 .7 .4 .5 .4 .3 .4-.9 .4 .5 .4 .3 .4 .3 .4-.2 .4 .2 .4 .8 .3-.6 .4 0 .4 1 .4-.8 .4 .2 .4 .5 .4-.7 .4 1.3 .4-1 .4 .5 .4 .3 .4-.3 .4 .4 .4-.2 .3 0 .4-.5 .4 0 .4 0 .4-.7 .4 .5 .4-.2 .4 .2 .4 .3 .4 .3 .4 .1 .4 .7 .4-.4 .4-1.3 .4 .3 .3 .1 .4 .5 .4 .1 .4-.3 .4-.5 .4 .6 .4-.5 .4 0 .4 .2 .4-.4 .4 .2 .4 .3 .4 .4 .4-.3 .4-.5 .3-.2 .4 .6 .4-.6 .4 .3 .4-.1 .4-.5 .4 .6 .4-.2 .4 1 .4-.7 .4 0 .4-.2 .4-.3 .4 .4 .3 .3 .4 .5 .4 .1 .4 .5 .4-.1 .4-.9 .4 .5 .4-.8 .4-.2 .4-.3 .4 .1 .4 .1 .4 0 .4 .3 .4-.3 .3-.1 .4 .4 .4 .7 .4-.2 .4 .3 .4-.2 .4 .4 .4-.2 .4-.2 .4 .6 .4-.4 .4-.6 .4 0 .4 .3 .3-.7 .4 .1 .4-.5 .4 1.2 .4 .6 .4-.3 .4 .6 .4-1.2 .4-.2 .4 .1 .4-.2 .4 .2 .4 .5 .4 0 .4 .2 .3-.4 .4-.1 .4-.2 .4-.5 .4 .1 .4 .9 .4-.2 .4-.1 .4 0 .4-.3 .4 .6 .4 0 .4-.9 .4 0 .3-.1 .4 .9 .4-.4 .4-.7 .4 .8 .4-.6 .4 .3 .4 .9 .4 .1 .4-.6 .4-.6 .4 .5 .4-.2 .4 .6 .4 .3 .3-.2 .4 .3 .4-.5 .4-.3 .4 .6 .4 .2 .4-.3 .4 .4 .4-.3 .4-.4 .4-.1 .4-.3 .4 .5 .4-.6 .4-.3 .3 .2 .4 .6 .4-.6 .4 .3 .4 .9 .4-.1 .4-.8 .4 .1 .4-.3 .4 .7 .4-.1 .4-.7 .4 .8 .4 0 .3-.9 .4 1.3 .4-.3 .4-.5 .4 0 .4 0 .4 0 .4 .5 .4-.9 .4 .8 .4 0 .4-.8 .4 .1 .4-.5 .4 1.2 .3 0 .4-.4 .4-.4 .4-.1 .4-.2 .4 1.1 .4-.7 .4 .1 .4-.2 .4 .5 .4 0 .4 .3 .4 .3 .4-.6 .3 .3 .4-.2 .4-.2 .4-.3 .4 0 .4-.2 .4-.1 .4 0 .4 .4 .4-.5 .4 .5 .4-.5 .4 1.3 .4-1.1 .4 .8 .3-1.3 .4-.7 .4-.1 .4 .6 .4-.3 .4 .1 .4 .2 .4-.4 .4 .2 .4-1 .4 .1 .4 0 .4 .9 .4-.7 .3 .7 .4 .2 .4-.5 .4 .1 .4-1.1 .4 .5 .4-.2 .4-.2 .4 .4 .4 .7 .4-.1 .4-.2 .4 .4 .4 .3 .4-.4 .3 .8 .4-.7 .4-.1 .4 .7 .4-.2 .4-.5 .4-.2 .4-.4 .4 .6 .4-.6 .4-.2 .4 .4 .4 .8 .4-.2 .4-.6 .3 .3 .4 0 .4 .1 .4-.6 .4-.2 .4-.1 .4 .4 .4 .2 .4 .2 .4-.3 .4 .2 .4-.2 .4 .4 .4 .5 .3 0 .4-.3 .4-.3 .4 .9 .4-.2 .4-.4 .4 .7 .4 .2 .4-.9 .4 .8 .4 .1 .4 .7 .4-.6 .4-.3 .4 .5 .3-1 .4 .2 .4 .1 .4-.4 .4 1.2 .4-.2 .4 0 .4-.1 .4 0 .4 .1 .4 .4 .4-.5 .4 .5 .4-.1 .3 0 .4 .3 .4 .3 .4 .3 .4-.5 .4-.3 .4 .1 .4 .2 .4-.7 .4-.6 .4-.1 .4 .8 .4-.3 .4-.1 .4-.5 .3-.3 .4 1 .4 .3 .4 .7 .4 0 .4-.4 .4-.5 .4 .3 .4 .8 .4-1.1 .4 .4 .4 .8 .4 .5 .4-.6 .3-.8 .4 .2 .4-.3 .4 .5 .4 .3 .4-.1 .4-.6 .4 .3 .4 0 .4 .7 .4-.4 .4-.4 .4-.3 .4 0 .4-.8 .3 .1 .4 .7 .4 1 .4-.2 .4 .3 .4-.2 .4-.1 .4-.4 .4 .2 .4-.4 .4 .6 .4-.9 .4 .2 .4-.8 .4-.6 .3 .7 .4 1 .4-.3 .4-.4 .4 .1 .4-.3 .4-.3 .4 .7 .4 .2 .4-.8 .4 .9 .4-.5 .4 .2 .4 0 .3 .2 .4-.8 .4 .4 .4 1 .4-.4 .4-.1 .4-.3 .4-.2 .4 .4 .4-.3 .4-1 .4-.1 .4 .7 .4 .6 .4-.5 .3-.4 .4 .2 .4 .6 .4 .1 .4 0 .4-.1 .4-.4 .4-.6 .4 .9 .4-.4 .4-.2 .4 .1 .4-.7 .4-.2 .3-.2 .4 .2 .4 .4 .4-.4 .4 .1 .4 .4 .4-.4 .4 .5 .4 .2 .4-.2 .4 .9 .4-.8 .4 0 .4 0 .4 .7 .3-.4 .4-.6 .4 .8 .4-.9 .4-.4 .4-.1 .4-.3 .4 .6 .4 .2 .4-.5 .4 .2 .4-.4 .4 .3 .4 .7 .4-.1 .3 .1 .4 0 .4 .6 .4-1 .4 .5 .4 1 .4-1.1 .4-.3 .4-.2 .4-.2 .4 .2 .4 .8 .4 .2 .4-.7 .3 .2 .4 .3 .4-1.3 .4 .6 .4-.3 .4 .2 .4 1 .4-.3 .4-.8 .4 .8 .4-.4 .4 .9 .4 .1 .4 0 .4 .5 .3-.5 .4-1.1 .4 0 .4 .3 .4-.1 .4 .3 .4 1.2 .4-1.1 .4 .7 .4-.5 .4 .1 .4 .1 .4 .1 .4 .4 .3-.2 .4 0 .4-.5 .4-.3 .4 .5 .4 .4 .4 .2 .4 .1 .4-1 .4 .1 .4 .2 .4-.2 .4 .5 .4 0 .4 .1 .3-.7 .4-.1 .4-1 .4 1.1 .4 .3 .4-.1 .4 0 .4 .2 .4 .9 .4-.9 .4 .5 .4-.5 .4 0 .4 .5 .3-.1 .4-.3 .4-.5 .4-.4 .4 .9 .4-.3 .4-.3 .4 .7 .4 .1 .4 .2 .4-.5 .4-.6 .4 .8 .4 .7 .4-.4 .3 .3 .4-.6 .4 .1 .4-.2 .4 .2 .4 .7 .4-.1 .4 0 .4-.5 .4-.1 .4 .1 .4-.2 .4 .7 .4-.8 .4 .4 .3 0 .4-.8 .4 .7 .4 1 .4 .2 .4-.9 .4-.1 .4-.2 .4 .3 .4-.3 .4-.2 .4 .1 .4 .6 .4-.6 .3 0 .4 .1 .4 .3 .4-.1 .4 .1 .4 0 .4 .6 .4-.8 .4 .1 .4 .6 .4 .8 .4-.4 .4-.5 .4-1.2 .4 .3 .3 .3 .4-.5 .4-.4 .4 .6 .4 .1 .4 .1 .4 .5 .4-.5 .4-.4 .4 .7 .4-.1 .4 .2 .4-.8 .4 1 .3-.6 .4-.4 .4 .3 .4 0 .4-.7 .4 .3 .4 .5 .4-.1 .4 .3 .4-.7 .4 .3 .4 .2 .4-.6 .4 .6 .4 .5 .3-.1 .4-.6 .4 .3 .4 .2 .4-.8 .4 1.1 .4 0 .4-.1 .4-.1 .4-.7 .4 .6 .4 .2 .4-.8 .4-.1 .3 1 .4-.6 .4 .4 .4 .1 .4 .7 .4-1 .4 0 .4-.3 .4 .1 .4 0 .4-.1 .4 .3 .4 .1 .4 0 .4-.3 .3 .3 .4 .4 .4 .7 .4-.5 .4 .1 .4-.3 .4-.5 .4-.3 .4 .4 .4 .3 .4-.2 .4-.3 .4 .6 .4 .6 .4-.1 .3-1 .4-.3 .4-.4 .4 .6 .4-.2 .4 .2 .4-.1 .4 .3 .4-.6 .4 0 .4 .8 .4 .7 .4-1.3 .4-.2 .3-.7 .4 .5 .4 .2 .4 .7 .4-.6 .4 .2 .4 0 .4-.8 .4-.4 .4 .5 .4 .4 .4 .2 .4 .3 .4 .7 .4 .3 .3-.7 .4 .1 .4-.9 .4-.4 .4 .4 .4 0 .4 .3 .4 .3 .4-.1 .4 .6 .4 0 .4 .4 .4-.5 .4-.1"/>
<path stroke="#1a6adc" d="M92.7 842.4l.4 .5 .4-.5 .4-.5 .4 .3 .4 .3 .4 .1 .4 .1 .4-.2 .4-.2 .4-.1 .4 0 .4 0 .4 .4 .4 .1 .3-.5 .4 .3 .4 0 .4 .3 .4 .3 .4-.2 .4-.7 .4 .3 .4-.5 .4 .7 .4-.3 .4-.1 .4 .6 .4-.7 .4 .1 .3-.3 .4 .1 .4-.1 .4 .4 .4-.1 .4 .2 .4 .1 .4-.6 .4 .6 .4-.2 .4-.5 .4 .1 .4 .4 .4 .3 .3-.3 .4 0 .4 .1 .4 .2 .4-.2 .4 .3 .4-.5 .4-.2 .4 .3 .4 .2 .4-.1 .4 .1 .4-.1 .4 .2 .4 .2 .3-.1 .4 0 .4-.4 .4-.2 .4-.6 .4 .5 .4 .1 .4 .2 .4-.6 .4 .1 .4 0 .4-.3 .4 .6 .4 .4 .3-.6 .4 .3 .4 .5 .4-.7 .4 .4 .4 .3 .4 .3 .4-.9 .4-.3 .4 .2 .4 .4 .4-.5 .4-.2 .4-.2 .4 .6 .3-.2 .4 .2 .4 .2 .4 .2 .4-.2 .4 0 .4 .1 .4-.1 .4-.6 .4-.1 .4 .4 .4 0 .4-.2 .4 .1 .3 .9 .4-.5 .4-.2 .4-.1 .4-.2 .4 .2 .4 .1 .4-.2 .4-.6 .4 .4 .4 .1 .4-.3 .4-.9 .4 .3 .4-.3 .3 .2 .4-.1 .4-.2 .4 .5 .4-.1 .4 .2 .4-.6 .4-.2 .4 .3 .4-.2 .4-.6 .4-.4 .4-.3 .4-.2 .4 0 .3-.4 .4-.2 .4-.4 .4-.8 .4-.5 .4-.9 .4-1.5 .4-1.6 .4-2.1 .4-3.1 .4-4.8 .4-6.4 .4-10.1 .4-14.1 .3-19.5 .4-23.6 .4-25.4 .4-21.5 .4-8.6 .4 11.8 .4 27.6 .4 30.2 .4 24.9 .4 17.8 .4 11.5 .4 7.5 .4 4.9 .4 1.7 .4 2.3 .3 1.3 .4 1.3 .4 .9 .4 0 .4 1 .4-.1 .4 .2 .4 .4 .4 .1 .4 .2 .4-.2 .4-.2 .4 .2 .4-.3 .3 .6 .4-.2 .4 .2 .4-.9 .4-.9 .4-.7 .4-.1 .4-.7 .4-.3 .4-1.5 .4-1.7 .4-1.8 .4-3.5 .4-5.1 .4-7.7 .3-11 .4-14.6 .4-16.5 .4-15.1 .4-10.8 .4 .5 .4 13.9 .4 19.3 .4 17.8 .4 13.4 .4 8.9 .4 4.4 .4 2.6 .4-1 .3-3.8 .4-5 .4-5.8 .4-4.8 .4 .8 .4 7.5 .4 8.4 .4 6.9 .4 4.6 .4 2.3 .4 1.2 .4 1.3 .4 .2 .4 .3 .4 .4 .3 .2 .4-.3 .4 .9 .4-.1 .4 .6 .4-.1 .4-.4 .4 .5 .4-.2 .4-.3 .4 .2 .4-.6 .4 .5 .4-.1 .4 .1 .3-.1 .4 .4 .4 .1 .4 .2 .4 .3 .4-.4 .4-.4 .4-.3 .4-.7 .4-.5 .4 0 .4-.6 .4-.6 .4 .4 .3 .7 .4 1.1 .4 0 .4 .1 .4 .4 .4 .2 .4 .3 .4-.1 .4 .1 .4-.1 .4 .4 .4 0 .4 .1 .4-.2 .4-.5 .3 .3 .4 .1 .4 .4 .4 .1 .4-.2 .4-.1 .4-.3 .4 .1 .4 .1 .4-.1 .4-.2 .4 .6 .4-.4 .4 .6 .3 .1 .4 .2 .4-.6 .4 .1 .4-.5 .4 0 .4-.3 .4 .1 .4 .1 .4 .5 .4 .3 .4-.3 .4-.1 .4-.3 .4-.2 .3-.3 .4 .4 .4 .4 .4-.2 .4 .2 .4-.3 .4-.2 .4 .1 .4 .5 .4-.2 .4 .3 .4-.2 .4-.3 .4-.5 .4 .3 .3 0 .4 .5 .4 .2 .4-.6 .4 .5 .4 .1 .4-1 .4 .1 .4 .4 .4-.3 .4 .1 .4 .4 .4 .1 .4 .2 .3 .1 .4-.4 .4 .8 .4-.2 .4 .4 .4-.5 .4 0 .4-.1 .4-.2 .4 0 .4 0 .4 .2 .4-.1 .4-.1 .4 .1 .3 .3 .4-.3 .4 0 .4-.2 .4-.7 .4-.2 .4-.1 .4-.4 .4-.2 .4-.7 .4 0 .4-.5 .4 .2 .4 0 .3-.2 .4 .6 .4 .6 .4 .3 .4 .3 .4 0 .4 .2 .4 .4 .4 0 .4 .5 .4-.7 .4 0 .4 .1 .4 .7 .4 .2 .3 0 .4 .1 .4 .2 .4-.2 .4-.4 .4 0 .4-.3 .4 0 .4 .2 .4-.2 .4 .1 .4-.1 .4-.4 .4-.2 .3 .6 .4 0 .4 .3 .4-.1 .4-.1 .4 .1 .4-.2 .4 .4 .4 .1 .4-.1 .4-.5 .4-.1 .4 .1 .4 .4 .4-.2 .3-.1 .4 .1 .4-.1 .4-.2 .4-.4 .4 .5 .4-.2 .4-.3 .4 0 .4-.5 .4-.5 .4-.5 .4 .1 .4-1 .4-.8 .3-1.9 .4-2.3 .4-2.2 .4-2.1 .4-1.4 .4 .7 .4 1.3 .4 2 .4 2.6 .4 1.8 .4 1.9 .4 .5 .4 1.2 .4 0 .3 .2 .4 .4 .4-.2 .4-.2 .4 .2 .4 .2 .4-.3 .4 .6 .4-.3 .4-.1 .4 0 .4 0 .4 .3 .4-1 .4 .1 .3 .1 .4-.4 .4-.6 .4-1.2 .4-1 .4-2 .4-2.6 .4-3.9 .4-4.5 .4-4.8 .4-4.5 .4-1.1 .4 1.6 .4 3.8 .3 5 .4 4.7 .4 3.6 .4 2.4 .4 2 .4 1 .4 .6 .4 1.2 .4 .9 .4 .6 .4 .5 .4 0 .4-.7 .4-.2 .4 .5 .3-.3 .4-.1 .4 .1 .4 .2 .4-.5 .4 .1 .4 .2 .4-.7 .4 .5 .4 .1 .4-.5 .4 .4 .4-.3 .4-.3 .3-.2 .4-1.6 .4-.7 .4-.8 .4-1.6 .4-3 .4-3.7 .4-4.8 .4-5 .4-4.9 .4-3.7 .4 .2 .4 2.8 .4 4.6 .4 4.6 .3 3.8 .4 2.9 .4 1.5 .4 .4 .4-.1 .4 .1 .4 .6 .4 1.2 .4 2.1 .4 1.5 .4 1.1 .4 .4 .4 .7 .4 0 .4 1.2 .3 .7 .4-.1 .4 0 .4 .2 .4 .2 .4-.7 .4 .1 .4 0 .4-.5 .4 .5 .4-.3 .4-.9 .4-.8 .4-1.4 .3-1.8 .4-2.2 .4-2.3 .4-2.8 .4-2.5 .4-1.1 .4 1 .4 2 .4 2.3 .4 2.7 .4 2.8 .4 1.1 .4 1.1 .4 .4 .4 .3 .3-.5 .4-1.6 .4-1 .4-2.5 .4-3.4 .4-3.4 .4-3.1 .4-1.6 .4-.2 .4 1.9 .4 3.8 .4 3.8 .4 2.7 .4 2.5 .3 1.9 .4 1.1 .4 .7 .4 1 .4 0 .4-.1 .4 .7 .4 .6 .4 .2 .4-.3 .4 0 .4-.3 .4 .1 .4-.6 .4 .1 .3 .7 .4-.6 .4 .4 .4-.5 .4-1.2 .4-.2 .4-1 .4-.4 .4-.8 .4-.6 .4-.2 .4-.1 .4 .5 .4 .9 .3 1.5 .4 .4 .4 .7 .4 .6 .4 .7 .4 .1 .4 .2 .4-.2 .4 1 .4-.7 .4 .2 .4-.1 .4 .2 .4-.2 .4 0 .3 .4 .4 .2 .4-.2 .4-.2 .4 0 .4 0 .4 0 .4 .1 .4-.1 .4-.8 .4-.1 .4-.5 .4 .1 .4-.4 .4-.2 .3-.4 .4 .1 .4 .3 .4-.1 .4-.3 .4 .4 .4 1 .4-.2 .4 .2 .4 .9 .4 .2 .4-.2 .4-.3 .4-.8 .3 .2 .4-.4 .4-1.5 .4-1 .4-1.1 .4-1.1 .4-.9 .4 .7 .4-.1 .4 1.1 .4 .5 .4-.2 .4-.3 .4-.9 .4-1.5 .3-1.1 .4 0 .4 .8 .4 1.2 .4 1.1 .4 1.1 .4 2 .4 1.2 .4 .6 .4 .3 .4 0 .4 .3 .4 .4 .4 .1 .3-.4 .4 .2 .4-.2 .4 0 .4-.2 .4-.5 .4 .1 .4 .5 .4-.1 .4 .4 .4-.1 .4 .2 .4-.2 .4 .5 .4-.3 .3 0 .4 .4 .4 .2 .4-.6 .4 .4 .4-.5 .4-.2 .4-.1 .4 .5 .4-.4 .4 .3 .4 .2 .4-.2 .4 .1 .4 .6 .3 .1 .4-.6 .4-.1 .4-.2 .4 0 .4-.1 .4 .2 .4-.3 .4-.3 .4 .3 .4 .2 .4 .3 .4 0 .4-.5 .3-.2 .4 .2 .4 0 .4 .1 .4 .2 .4-1.1 .4-.3 .4-.1 .4-.9 .4-.2 .4-1.3 .4-1.3 .4-1.5 .4-1 .4-.4 .3 .5 .4 .5 .4 1 .4 1.6 .4 1.6 .4 .8 .4 .6 .4 .8 .4 .3 .4-.3 .4 .2 .4 .1 .4 .1 .4 0 .3 .2 .4 0 .4 .1 .4-.1 .4-.1 .4-.1 .4 .2 .4 .1 .4 .4 .4 .5 .4-.7 .4-.3 .4 .3 .4-.3 .4 0 .3-.4 .4 .4 .4-.5 .4 .5 .4-.3 .4 .2 .4 .3 .4-.4 .4 0 .4 .6 .4-.7 .4 0 .4-.6 .4 .3 .3 0 .4-.4 .4-.3 .4 .5 .4-.2 .4-1 .4-.3 .4-1.3 .4-1.3 .4-1.2 .4-1.6 .4-1.2 .4-.6 .4-.4 .4 1 .3 1.4 .4 .9 .4 1.8 .4 1.5 .4 .3 .4 .7 .4 .8 .4 .5 .4-.2 .4 0 .4-.1 .4-.4 .4 .1 .4 .4 .4-1.1 .3-.5 .4-1.2 .4-.7 .4-2.4 .4-1.8 .4-2.4 .4-2.7 .4-1.6 .4 .2 .4 2 .4 2.3 .4 2.7 .4 2.3 .4 1.5 .3 1.2 .4 .9 .4 1.1 .4 .6 .4 .2 .4-.3 .4 0 .4 .4 .4-.1 .4-.3 .4-.2 .4 .5 .4 .4 .4 .1 .4 .4 .3-.8 .4-.4 .4 .4 .4 .4 .4-.3 .4 .1 .4 .1 .4-.1 .4-.3 .4 .1 .4 .1 .4 .2 .4-.2 .4-.3 .3-.3 .4 0 .4 .1 .4-.4 .4-.2 .4 0 .4-.2 .4 .3 .4-.3 .4-.1 .4 .6 .4-.8 .4-.2 .4 .3 .4 .5 .3 .6 .4 .2 .4-.2 .4-.4 .4 .3 .4-.1 .4-.4 .4-.4 .4 .2 .4-.5 .4-.4 .4-.7 .4-.9 .4-.8 .3-.7 .4-.4 .4-.3 .4 .5 .4 .2 .4 .8 .4 .8 .4 .9 .4-.4 .4 1.1 .4 .6 .4 .2 .4 .1 .4 .1 .4-.2 .3 1.2 .4-.4 .4 0 .4-.5 .4-.1 .4-.6 .4 .4 .4-.2 .4 .2 .4 .2 .4 .3 .4-.3 .4-.6 .4-.2 .4 .1 .3 .3 .4-1.3 .4-.4 .4-.3 .4-.2 .4-.2 .4-.3 .4-1 .4-1 .4-2.4 .4-3.5 .4-5.7 .4-8.6 .4-12.6 .3-17.5 .4-19.7 .4-18.6 .4-8.4 .4 6.9 .4 15.9 .4 18.6 .4 14 .4 6.7 .4 .4 .4-6.1 .4-9.7 .4-10.1 .4-4 .4 5.7 .3 12.1 .4 13.2 .4 12.1 .4 8.8 .4 5.4 .4 3.3 .4 1.8 .4 1.2 .4 .7 .4 .5 .4 .5 .4 .3 .4-1 .4-1.2 .3-1.9 .4-2.6 .4-3.6 .4-5.5 .4-5.6 .4-5.3 .4-2.5 .4 1.6 .4 4.5 .4 4.1 .4 2.3 .4 .3 .4-2.4 .4-4.8 .4-8.3 .3-7.1 .4-5.5 .4 .3 .4 6 .4 7.8 .4 9.3 .4 7.7 .4 5.7 .4 4 .4 2.1 .4 1.1 .4 1 .4 .5 .4 .4 .3-.1 .4-.1 .4-1.1 .4 0 .4-.5 .4-1.7 .4-2.6 .4-3.6 .4-5 .4-5.5 .4-4.7 .4-3.1 .4-.9 .4 3.4 .4 5.6 .3 5.8 .4 4.5 .4 3.8 .4 3.1 .4 2.1 .4 .7 .4 .7 .4 .5 .4 .7 .4 .2 .4 .2 .4 .5 .4-.1 .4-.4 .4 .2 .3-.1 .4-.3 .4-.1 .4-.4 .4-.8 .4 .4 .4 .6 .4 .4 .4 .6 .4 .2 .4 .6 .4 0 .4 .1 .4 .1 .3 .2 .4-.5 .4 .3 .4-.2 .4-.8 .4 .8 .4-.1 .4 .3 .4-.6 .4 .2 .4-.3 .4 .7 .4 .1 .4-.5 .4-1.1 .3 .1 .4-.1 .4-.4 .4-.4 .4-.7 .4-.5 .4-.7 .4-1 .4-.2 .4-.1 .4 0 .4 .2 .4 .4 .4 1.6 .3 1.1 .4 .3 .4 0 .4 .3 .4-.2 .4-.3 .4-.6 .4 0 .4-.2 .4 .1 .4-.3 .4-.6 .4-.2 .4 0 .4 .3 .3 .4 .4 .8 .4-.2 .4 .6 .4 .4 .4 .5 .4 .1 .4-.2 .4 .5 .4 .3 .4-.4 .4 .3 .4 .6 .4-.7 .4 0 .3-1.1 .4 .3 .4-.4 .4 .1 .4-.3 .4-.3 .4-.2 .4-.6 .4-.7 .4-1.3 .4-1.1 .4-1 .4-1.1 .4-1 .3-.4 .4 0 .4 0 .4 .2 .4 1.2 .4 .6 .4 1.5 .4 .6 .4 .6 .4 .7 .4 .1 .4-.5 .4 0 .4-.9 .4-.2 .3-.6 .4-.7 .4-1.1 .4-.4 .4-1.1 .4-.9 .4 .7 .4-.2 .4 .7 .4 .6 .4 .9 .4 1 .4 .9 .4 1.1 .3 .8 .4 .6 .4 .4 .4 .5 .4-.3 .4 .7 .4-.5 .4 .4 .4 .2 .4-.2 .4 0 .4 .4 .4-.5 .4-.6 .4-.2 .3-.6 .4-.6 .4 0 .4 .6 .4 .2 .4 .5 .4 .5 .4-.3 .4 .1 .4 .4 .4 .2 .4 .8 .4 0 .4 0 .3 .8 .4-.4 .4-.2 .4 .8 .4 0 .4-.1 .4 .2 .4-.2 .4-.1 .4 0 .4 .5 .4-.2 .4-.4 .4-.2 .4 .4 .3-.4 .4-.2 .4 .2 .4-.3 .4 .5 .4 .7 .4 .4 .4-.4 .4 .1 .4-.3 .4-.3 .4 0 .4-.2 .4-.4 .4-.2 .3-.2 .4-.1 .4 .1 .4-.8 .4-.3 .4-.4 .4 .5 .4 0 .4-.1 .4-.4 .4 .5 .4-.3 .4-.2 .4 .3 .3 .9 .4 .1 .4 .1 .4 0 .4 .5 .4-.2 .4 0 .4 .4 .4 .3 .4-.1 .4 .1 .4 0 .4-.7 .4 .3 .4-.1 .3 0 .4 .1 .4 0 .4 .2 .4-.6 .4-.3 .4-.2 .4-.1 .4-.7 .4-.1 .4-.2 .4-.8 .4-1.1 .4-.3 .3-.4 .4-.9 .4-.7 .4-.8 .4-1.2 .4-1 .4 .2 .4-.3 .4-.3 .4 .8 .4 .2 .4 .7 .4 1.3 .4 1 .4 .5 .3 1.1 .4 .8 .4-.3 .4 .7 .4 .9 .4 .3 .4-.1 .4 .5 .4-.2 .4 .3 .4-.1 .4 0 .4-.7 .4 .2 .3-.8 .4-.8 .4-.8 .4-.8 .4-.8 .4-1 .4-.7 .4-.9 .4-1.1 .4-.8 .4-.4 .4 .1 .4 .3 .4-.1 .4 1 .3 .9 .4 .3 .4 1.2 .4 1.3 .4 .4 .4 .2 .4 .1 .4 .7 .4 .4 .4 .2 .4 .4 .4-.5 .4-.1 .4 .5 .4 .1 .3-.5 .4-.6 .4 .4 .4 .4 .4 .4 .4 0 .4 .7 .4 .1 .4 .1 .4 .3 .4 .5 .4 .4 .4-.1 .4 .5 .3 .6 .4-.6 .4 .3 .4-.2 .4-.7 .4 .4 .4-.2 .4 0 .4-.2 .4-.9 .4 0 .4 .4 .4 0 .4-.8 .4 .1 .3 0 .4 .1 .4 .3 .4 .1 .4 0 .4-.1 .4-.1 .4-.4 .4 .2 .4 .5 .4 .2 .4-.3 .4-.7 .4 .1 .3-.3 .4 .5 .4-.2 .4 0 .4 .3 .4 .3 .4 .4 .4 .5 .4 .2 .4 .6 .4-.3 .4 .4 .4 .9 .4-.2 .4-.3 .3 .1 .4 0 .4 0 .4 .5 .4 .5 .4-.5 .4-.3 .4 .4 .4 .2 .4-.2 .4 .2 .4-.3 .4 .4 .4-.2 .4 0 .3 .1 .4-.5 .4 .2 .4 0 .4 .3 .4-.3 .4-.6 .4 .1 .4 .4 .4 0 .4 .2 .4 .4 .4 0 .4 0 .3-.2 .4-.5 .4 .1 .4-.1 .4-.2 .4 .2 .4-.1 .4-.1 .4-.2 .4-.3 .4 .9 .4-.3 .4-.1 .4-.7 .4 .4 .3 .2 .4 .2 .4-.3 .4-.3 .4 .8 .4-.5 .4-.1 .4-.2 .4-.3 .4 .2 .4-.4 .4-.3 .4-.2 .4-.5 .3-.7 .4-.9 .4 0 .4-.4 .4-.7 .4 .3 .4 .7 .4 .2 .4 .1 .4 .7 .4 .2 .4-.1 .4 .5 .4 .6 .4 .1 .3 .1 .4 0 .4 .9 .4 .3 .4-.2 .4 .6 .4-.1 .4-.3 .4-.1 .4 .4 .4 .3 .4 .1 .4-.3 .4-.7 .3 0 .4 .5 .4-.2 .4-.2 .4 0 .4-.3 .4 .9 .4-.6 .4 0 .4 .5 .4 .3 .4 .3 .4-.5 .4 0 .4 .6 .3-.5 .4 .1 .4-.3 .4-.4 .4 0 .4 0 .4 .6 .4 .2 .4 .6 .4-.7 .4-.2 .4 .2 .4-.3 .4-.2 .4 .1 .3 .4 .4-.3 .4 .6 .4-.4 .4 .2 .4 .1 .4-.4 .4 0 .4 .3 .4-.6 .4 .3 .4-.2 .4 .1 .4 .1 .3-.3 .4-.6 .4-.1 .4-.6 .4-.8 .4 .7 .4-.7 .4-1 .4 .2 .4-.7 .4 .2 .4 .4 .4 .2 .4 .1 .4-.3 .3-.1 .4-.3 .4 .3 .4 .7 .4 .3 .4 1.1 .4 0 .4 .1 .4 .5 .4-.1 .4 .5 .4 .1 .4-.3 .4 .4 .3-.2 .4-.1 .4 .3 .4-.1 .4-.2 .4 .3 .4 .3 .4-.4 .4-.4 .4-.1 .4-.1 .4 .2 .4-.8 .4 .5 .4-.1 .3-.3 .4 .6 .4-.1 .4 .1 .4-.6 .4 .3 .4-.7 .4 .1 .4 0 .4 .8 .4 .2 .4-.4 .4 .6 .4 .1 .3 .2 .4 .9 .4-1 .4 .3 .4-.3 .4 .2 .4 .1 .4 .4 .4 0 .4-.1 .4-.9 .4 .1 .4 .2 .4 0 .4-.1 .3 .3 .4 0 .4-.2 .4-.1 .4-.1 .4-.2 .4 0 .4 .4 .4 .4 .4-.2 .4-.6 .4-.3 .4 .1 .4-.5 .4 .1 .3 .1 .4-.2 .4-1 .4-.4 .4-.5 .4-.3 .4-.8 .4-.2 .4-.1 .4-.3 .4 .2 .4 .4 .4 .2 .4 .2 .3 .6 .4 .5 .4 .1 .4 .5 .4 .4 .4 .1 .4 .5 .4 .1 .4-.1 .4 .8 .4 .4 .4-.5 .4 0 .4-.1 .4-.4 .3 .8 .4-.1 .4 .4 .4-.2 .4-.3 .4 .4 .4-.1 .4 .3 .4-.5 .4 .6 .4 .4 .4-.5 .4-.7 .4-.3 .3 .3 .4-.3 .4 .3 .4 .3 .4 0 .4 .3 .4-.2 .4-.2 .4 .2 .4-.2 .4 .3 .4-.1 .4 .5 .4-.5 .4 .3 .3 0 .4 .1 .4-.3 .4-.3 .4-.5 .4 .1 .4 .5 .4 .2 .4 .2 .4-.6 .4 .1 .4-.2 .4-.5 .4 .4 .3 .4 .4-.5 .4 0 .4-.5 .4-.7 .4-.8 .4 .3 .4 .1 .4-.7 .4 .1 .4-.2 .4-.6 .4 .2 .4 .2 .4-.2 .3 .1 .4 .5 .4 .1 .4 .1 .4 .6 .4 1 .4 .2 .4-.1 .4 0 .4 .7 .4-.3 .4-.1 .4 0 .4 .2 .4 0 .3 .2 .4 .1 .4 .5 .4 0 .4-.7 .4 .1 .4-.1 .4-.1 .4 .1 .4 0 .4 .2 .4 0 .4 .6 .4-.2 .3-.5 .4 .4 .4-.2 .4 .2 .4-.5 .4-.3 .4-.1 .4 .1 .4-.1 .4 .9 .4 .5 .4-.4 .4 .5 .4 .1 .4-.6 .3-.2 .4 .3 .4-.4 .4 .3 .4-.3 .4 .4 .4 .6 .4-.3 .4 .2 .4-.3 .4 0 .4-.5 .4 .1 .4 .5 .3 .2 .4-.7 .4-.1 .4 .3 .4 .2 .4-.2 .4-.5 .4 0 .4 .4 .4 .3 .4-.4 .4 .2 .4 .4 .4-.6 .4-.3 .3 .2 .4 .4 .4-.1 .4 0 .4-.5 .4 .3 .4-.6 .4 .4 .4 0 .4 .6 .4 0 .4-.6 .4 .6 .4 .5 .4-.4 .3-.1 .4-.4 .4-.1 .4 0 .4 .3 .4 0 .4-.1 .4-.4 .4 1 .4 0 .4 .1 .4-.6 .4-.2 .4-.1 .3 0 .4 .4 .4-.6 .4 .2 .4 0 .4 0 .4 .3 .4 0 .4-.1 .4 .1 .4-.8 .4 .6 .4-.1 .4 .2 .4-.1 .3-.4 .4 .5 .4-.2 .4 .2 .4-.2 .4-.1 .4 .5 .4-.6 .4 .7 .4 .1 .4-.1 .4 0 .4 .6 .4-.5 .3-.8 .4-.1 .4 .1 .4 .1 .4-.3 .4 .3 .4 .3 .4 .2 .4-.1 .4-.5 .4 .4 .4 .1 .4 .1 .4-.1 .4 .3 .3-.5 .4 0 .4 .3 .4-.2 .4 .1 .4 .3 .4 .6 .4-1.1 .4 .1 .4 .1 .4-.3 .4 .1 .4-.5 .4 .5 .3 .2 .4-.3 .4 .3 .4-.3 .4 0 .4 .7 .4-.7 .4-.5 .4 .4 .4 .2 .4 .7 .4 .2 .4-.3 .4-.6 .4-.2 .3 0 .4 .6 .4-.4 .4 .1 .4-.4 .4 .4 .4 .6 .4-.3 .4-.3 .4-.3 .4 .1 .4-.1 .4-.2 .4 .6 .4-.1 .3 .1 .4 0 .4 0 .4-.1 .4-.1 .4 .2 .4-.4 .4-.1 .4 .2 .4 .1 .4-.5 .4 .1 .4-.1 .4 .3 .3 .5 .4-.4 .4 .2 .4 .4 .4-.3 .4 .1 .4-.4 .4-.5 .4 .6 .4 .1 .4 .5 .4-.3 .4-.3 .4 .3 .4 .4 .3 0 .4-.5 .4 0 .4 .1 .4-.3 .4 0 .4 .4 .4 0 .4-.1 .4-.2 .4 .1 .4-.1 .4 0 .4 .2 .3-.4 .4 .1 .4-.1 .4 .1 .4-.4 .4 .2 .4 0 .4 .3 .4-.1 .4-.4 .4 .2 .4-.8 .4 .3 .4 .7 .4-.2 .3 0 .4-.2 .4 .3 .4-.2 .4 .4 .4 .1 .4-.5 .4 .7 .4-.6 .4 .1 .4 .3 .4-.7 .4 .2 .4 .3 .3 .3 .4-.3 .4 0 .4 .4 .4-.6 .4-.1 .4 .7 .4-.2 .4 .1 .4-.3 .4-.2 .4-.3 .4 .7 .4-.1 .4-.4 .3 .3 .4-.2 .4 .5 .4-.6 .4 0 .4 0 .4-.3 .4 .5 .4 .3 .4-.2 .4-.4 .4-.3 .4 .5 .4 .1 .4-.2 .3 .2 .4 .1 .4-.5 .4 .6 .4-.2 .4 0 .4 0 .4 .1 .4 .3 .4-.5 .4 0 .4-.2 .4 0 .4 .2 .3 0 .4 .1 .4 0 .4 .4 .4-.1 .4 .4 .4-.3 .4-.5 .4 .4 .4 .2 .4-.5 .4 .1 .4-.3 .4-.1 .4 .3 .3 .1 .4 .3 .4-.4 .4 .2 .4 .3 .4-.2 .4-.3 .4 .1 .4 .2 .4-.5 .4 .1 .4 .6 .4-.2 .4-.3 .3 0 .4 0 .4 .4 .4-.5 .4-.5 .4 .1 .4 .5 .4-.2 .4 .2 .4-.1 .4-.1 .4 .3 .4-.3 .4 .3 .4 .2 .3-.3 .4-.2 .4-.1 .4-.3 .4-.3 .4 .1 .4-.1 .4-.5 .4-.5 .4-.1 .4-.4 .4-.9 .4-.2 .4-1.1 .3-.6 .4-.9 .4-.9 .4-.6 .4-.7 .4-.5 .4-.6 .4 .6 .4 0 .4 1 .4 .8 .4 .8 .4 1 .4 .6 .4 .4 .3 .3 .4 .1 .4 .8 .4-.2 .4 .6 .4-.3 .4-.5 .4 .5 .4-.2 .4-.4 .4-.6 .4 .1 .4-1 .4-.6 .4-.5 .3-.3 .4-.7 .4-.3 .4-.4 .4-.3 .4 .4 .4 1.2 .4 .3 .4 .3 .4 1.3 .4 .3 .4 .7 .4 .6 .4 .4 .3 0 .4 1.1 .4 .5 .4 .1 .4 .1 .4 0 .4 .5 .4-.4 .4-.6 .4 .4 .4 .3 .4 .2 .4 .1 .4 .2 .4-.4 .3-.2 .4 .3 .4 .1 .4-.1 .4-.1 .4 .2 .4 0 .4 .6 .4-.2 .4-.1 .4 .2 .4-.9 .4-.2 .4-.3 .3-.4 .4 .1 .4 .7 .4-.5 .4-.9 .4-.5 .4-.2 .4 .2 .4 .3 .4-.7 .4 .2 .4-.3 .4 .7 .4 .2 .4 .1 .3-.1 .4-.1 .4 .2 .4 .5 .4 .8 .4 .6 .4-.7 .4 .2 .4 .2 .4-.3 .4 0 .4 .6 .4-.6 .4 0 .4 .4 .3 .6 .4 .1 .4-.2 .4-.8 .4 .1 .4 .4 .4-.3 .4 .5 .4-.2 .4-.1 .4-.3 .4 .1 .4-.5 .4-.1 .3 .2 .4-.3 .4 .5 .4-1 .4-.5 .4-.5 .4-.5 .4 .6 .4-1.1 .4 0 .4-.2 .4-.1 .4-.1 .4 .4 .4 .2 .3 .5 .4 .1 .4 .6 .4 .3 .4 .9 .4-.1 .4 .4 .4 .2 .4 .2 .4 .1 .4-.1 .4 0 .4 0 .4-.4 .3 .2 .4-.1 .4 0 .4-.4 .4 .5 .4 0 .4 .4 .4-.1 .4 .8 .4-.4 .4-.5 .4 0 .4-.2 .4 .2 .4 .9 .3 0 .4-.6 .4 .6 .4-.3 .4 .3 .4 .3 .4-.6 .4-.7 .4 .2 .4 .2 .4-.1 .4 .5 .4-.1 .4 0 .3 .1 .4-.3 .4-.1 .4-.2 .4 .2 .4 .4 .4-.3 .4 .2 .4-.7 .4 0 .4 .2 .4-1.1 .4-.1 .4-.1 .4 .5 .3-.1 .4 .4 .4-.9 .4 .4 .4 0 .4 0 .4 .2 .4 0 .4-.5 .4 .5 .4 .6 .4-.3 .4 .1 .4 .6 .4-.3 .3 .2 .4 .1 .4-.2 .4 0 .4-.3 .4 0 .4-.1 .4 .4 .4 .6 .4-.3 .4-.4 .4 .4 .4 .4 .4-.2 .3 .1 .4-.5 .4 .6 .4 .1 .4 .2 .4 .3 .4-.2 .4-.7 .4 .1 .4-.1 .4 .2 .4-.8 .4 .3 .4 .5 .4 .4 .3-.1 .4 .2 .4-.3 .4-.6 .4 0 .4 0 .4-.7 .4 .2 .4-.2 .4 .8 .4 .3 .4-.5 .4-.5 .4 .3 .3 .9 .4-.8 .4 0 .4 0 .4 .4 .4 .3 .4-.4 .4-.2 .4-.1 .4 .3 .4-.2 .4 .8 .4 0 .4-.3 .4-.1 .3 .6 .4-.5 .4-.3 .4 0 .4 .1 .4-.5 .4 .5 .4-.3 .4 .4 .4-.8 .4 .3 .4-.1 .4 .4 .4 .3 .3-.8 .4 .1 .4 .6 .4 .3 .4 0 .4-.4 .4-.4 .4 .4 .4 0 .4 .1 .4-.1 .4 .1 .4 .3 .4-.3 .4 .1 .3-.2 .4-.3 .4 .6 .4 .1 .4 0 .4-.2 .4 0 .4-.5 .4 .9 .4-.4 .4 0 .4-.2 .4-.2 .4-.5 .4 .5 .3 .2 .4 .2 .4-.3 .4 .3 .4-.4 .4 .1 .4 .5 .4-.5 .4 .2 .4-.5 .4 0 .4 .4 .4-.2 .4 .2 .3 0 .4-.2 .4 0 .4 .2 .4 .1 .4 .2 .4 0 .4-.3 .4-.2 .4-.2 .4 .3 .4 0 .4-.2 .4 .5 .4 0 .3 0 .4-.1 .4 .2 .4 .2 .4-.2 .4-.8 .4 .3 .4 .1 .4-1 .4 .7 .4 .1 .4-.7 .4 0 .4-.1 .3-.2 .4-.3 .4 .6 .4 .3 .4-.3 .4-.2 .4 0 .4 .3 .4 .1 .4-.3 .4-.3 .4 .4 .4 .2 .4 0 .4 0 .3 0 .4 .4 .4 .4 .4-.4 .4 .3 .4 0 .4-.1 .4 .2 .4 0 .4 .2 .4-.3 .4-.2 .4 .3 .4-.4 .3 .4 .4 .2 .4 .2 .4-.7 .4 .9 .4-.2 .4-.8 .4 .5 .4-.4 .4-.1 .4 .1 .4 .3 .4 0 .4-.3 .4-.2 .3 .4 .4 .2 .4-.1 .4 .1 .4-.7 .4 .4 .4 .2 .4 .6 .4-.8 .4-.2 .4-.2 .4 .7 .4 0 .4 .1 .4-.1 .3-.2 .4 .1 .4 0 .4 0 .4 .1 .4-.2 .4 .2 .4-.1 .4-.2 .4 .1 .4 0 .4 .2 .4 .9 .4-.4 .3-.4 .4-.2 .4 .2 .4-.1 .4-.3 .4-.1 .4 .2 .4 .4 .4 .1 .4 0 .4 .1 .4-.2 .4 .3 .4 .1 .4-.4 .3 0 .4 .3 .4-.8 .4 0 .4 .1 .4-.8 .4 .7 .4 0 .4 .1 .4 .3 .4 .6 .4-.7 .4 0 .4-.4 .3 0 .4-.1 .4 0 .4 .5 .4 0 .4-.4 .4 .6 .4-.7 .4 .8 .4 0 .4 .1 .4 .2 .4-.5 .4 .2 .4-.2 .3 0 .4-.2 .4-.1 .4 .6 .4-.2 .4-.4 .4-.2 .4-.2 .4 .3 .4 0 .4 .6 .4-.1 .4 0 .4-.5 .4 0 .3-.1 .4-.1 .4 .2 .4 .1 .4 .2 .4-.1 .4-.3 .4-.1 .4-.3 .4-.2 .4-.2 .4 0 .4 .1 .4-.5 .3 .4 .4 0 .4 .2 .4-.3 .4-.6 .4 0 .4-.2 .4-.5 .4-.5 .4-.1 .4 0 .4-.3 .4 .6 .4-.2 .4-.1 .3 .2 .4 .3 .4 .3 .4 .5 .4-.1 .4 .3 .4 .3 .4-.2 .4 .2 .4 .4 .4 .3 .4-.2 .4 .4 .4-.1 .3-.2 .4-.1 .4 .3 .4 .4 .4-.2 .4 .3 .4 0 .4 0 .4 .2 .4 .2 .4-.5 .4 .4 .4 .3 .4-.2 .4-.4 .3 .2 .4-.1 .4-.6 .4 .5 .4-.1 .4-.4 .4 .3 .4 .3 .4 .4 .4 0 .4-.5 .4 .1 .4 .2 .4-.3 .3-.3 .4 .2 .4-.2 .4 0 .4 .5 .4-.3 .4-.2 .4 .1 .4-.3 .4 .3 .4 0 .4-.2 .4 .2 .4-.3 .4 .6 .3-.2 .4-.2 .4 0 .4 0 .4 .3 .4 0 .4 .1 .4 0 .4 0 .4 .2 .4 .2 .4-.2 .4 0 .4 .5 .4-.6 .3-.1 .4-.6 .4 .6 .4 .3 .4-.3 .4 .3 .4-.6 .4 .8 .4-.9 .4 0 .4 .1 .4 0 .4 .3 .4-.1 .3-.5 .4 .3 .4-.2 .4 0 .4 .5 .4-.1 .4-.1 .4 .4 .4-.8 .4 .4 .4 .3 .4-.6 .4 .4 .4 .2 .4-.4 .3 0 .4 .8 .4-.3 .4-.2 .4 .3 .4-.4 .4-.2 .4-.1 .4-.6 .4 .7 .4 .1 .4-.3 .4 .4 .4 .6 .3 .2 .4-1 .4 .4 .4 .2 .4 .1 .4-.3 .4 .3 .4-.5 .4-.2 .4-.2 .4-.3 .4 .4 .4-.2 .4-.2 .4 .4 .3 .3 .4 .1 .4-.1 .4 .1 .4 .3 .4-.2 .4-.2 .4-.1 .4 .5 .4 0 .4-.3 .4 .1 .4 .2 .4-.2 .3 .2 .4 0 .4-.3 .4 0 .4 0 .4-.2 .4 .1 .4 .1 .4-.5 .4-.4 .4 .2 .4 .1 .4 .2 .4-.1 .4-.2 .3 .4 .4-.6 .4 .5 .4 .3 .4 0 .4 0 .4-.5 .4 .4 .4 0 .4 0 .4 .3 .4-.3 .4 .3 .4-.3 .4 0 .3 .2 .4-.1 .4 0 .4 .3 .4 .1 .4-.3 .4-.3 .4 .3 .4 0 .4 0 .4 .8 .4-.5 .4-.4 .4 0 .3-.1 .4 .2 .4 0 .4-.4 .4 .4 .4-.3 .4-.1 .4 .3 .4-.4 .4 .6 .4 0 .4 .3 .4-.1 .4-.6 .4 .2 .3-.4 .4 .1 .4 .2 .4 .3 .4-.1 .4 0 .4-.4 .4-.4 .4 .4 .4-.1 .4-.2 .4 0 .4 .1 .4 .2 .3 0 .4 .1 .4-.3 .4 0 .4 .4 .4 .5 .4 .2 .4-.6 .4 .2 .4 0 .4-.3 .4 0 .4-.4 .4-.4 .4 .5 .3 .7 .4-.4 .4-.3 .4 .6 .4-.2 .4-.3 .4 .6 .4-.4 .4 .2 .4 .1 .4-.8 .4 .8 .4-.3 .4-.1 .3 .3 .4 .3 .4 .1 .4-.6 .4 0 .4-.2 .4 0 .4-.1 .4-.1 .4 .6 .4-.3 .4-.2 .4-.1 .4 .2 .4 .4 .3-.1 .4 .1 .4-.3 .4 .7 .4-.4 .4 .2 .4-.1 .4 0 .4-.2 .4-.1 .4 .5 .4 0 .4-.6 .4 0 .4 0 .3 .3 .4 0 .4 0 .4-.2 .4-.2 .4-.3 .4 1 .4-.2 .4 0 .4 0 .4-.7 .4 .3 .4 .2 .4 0 .3 0 .4 0 .4 .3 .4 .1 .4-.8 .4 .4 .4 0 .4-.3 .4 .4 .4 .2 .4-.5 .4-.2 .4 .1 .4 .1 .4 0 .3-.2 .4-.2 .4 .4 .4 .1 .4 .2 .4 .5 .4-.5 .4-.1 .4 .1 .4-.2 .4 .6 .4-.1 .4 0 .4-.3 .3 0 .4-.6 .4 .9 .4-.3 .4 .1 .4 0 .4-.1 .4 0 .4 .3 .4-.2 .4-.2 .4 .2 .4 .3 .4 0 .4-.3 .3-.3 .4 0 .4 .3 .4 0 .4 .2 .4-.6 .4 .1 .4 .2 .4-.2 .4 .1 .4 .2 .4-.3 .4-.3 .4-.1 .4 0 .3 0 .4 .1 .4-.3 .4 .1 .4 .6 .4-.1 .4 0 .4-.2 .4-.2 .4 .4 .4 .1 .4-.5 .4-.5 .4 0 .3-.4 .4 0 .4 .4 .4 .3 .4-.3 .4-.5 .4-.2 .4-.8 .4 .3 .4 0 .4 .3 .4 0 .4 .3 .4 .4 .4-.4 .3 .3 .4 .1 .4 .1 .4-.3 .4 .3 .4 0 .4 .5 .4 .5 .4-.2 .4 .1 .4 0 .4 .2 .4-.1 .4-.5 .3 0 .4 .5 .4-.2 .4-.7 .4 .7 .4-.2 .4 .1 .4 0 .4 .4 .4-.3 .4-.4 .4 .4 .4 .5 .4 .1 .4-.3 .3 0 .4 .1 .4-.1 .4 .1 .4-.4 .4-.4 .4 .5 .4 .3 .4 .3 .4-.3 .4 .6 .4-.2 .4-.5 .4-.4 .3 .3 .4 .1 .4 0 .4 .1 .4-.1 .4 .5 .4-.8 .4 .4 .4-.5 .4 0 .4 .4 .4 .8 .4-.2 .4-.6 .4 0 .3 .4 .4-.5 .4-.1 .4-.5 .4 .1 .4 .4 .4 .7 .4-.6 .4-.6 .4 .3 .4 .3 .4-.2 .4 .1 .4 .7 .4-.1 .3-.5 .4-.7 .4 .7 .4-.4 .4 .5 .4 .5 .4-.6 .4 .1 .4-.2 .4-.2 .4-.1 .4 0 .4 .4 .4-.2 .3-.2 .4 .4 .4-.3 .4 .2 .4 .1 .4 .2 .4 0 .4 .6 .4-.4 .4-.3 .4-.1 .4 .1 .4 .8 .4-.8 .4-.4 .3 .5 .4-.3 .4 .3 .4 .4 .4-.4 .4-.1 .4-.3 .4 .1 .4 .2 .4 .1 .4 0 .4-.3 .4 .2 .4-.2 .3 0 .4 .5 .4 .3 .4-.2 .4-.1 .4-.5 .4-.5 .4 .4 .4-.1 .4 .2 .4-.3 .4 .5 .4-.3 .4 .5 .4 .3 .3-.4 .4-.5 .4 0 .4 .4 .4 .2 .4 .2 .4 0 .4-.1 .4 .3 .4-.1 .4-.3 .4 .3 .4-.3 .4-.5 .3 0 .4-.3 .4 0 .4 .3 .4-.1 .4 .5 .4-.9 .4 .2 .4 .7 .4-.2 .4 .1 .4 .3 .4-.2 .4-.3 .4 .3 .3-.8 .4 .4 .4 0 .4 .2 .4 .1 .4 .4 .4-.8 .4-.1 .4 .3 .4 .4 .4-.3 .4 .2 .4-.1 .4-.2 .4-.3 .3-.2 .4 .3 .4-.4 .4 .5 .4-.3 .4 .3 .4 .6 .4-.5 .4 .1 .4 .5 .4-.6 .4 .3 .4 .6 .4-1 .3 .4 .4-.1 .4-.2 .4 .3 .4-.2 .4-.9 .4 .3 .4 .1 .4 .5 .4-.2 .4 .2 .4 0 .4 .1 .4-.3 .4 .1 .3-.2 .4 0 .4 0 .4 .2 .4 .4 .4 0 .4-.1 .4-.2 .4 .3 .4 0 .4 0 .4-.1 .4 .1 .4 0 .3-.3 .4 .3 .4 .1 .4 .1 .4-.2 .4-.7 .4 .1 .4 .2 .4-.3 .4 .3 .4-.3 .4 .5 .4-.5 .4-.3 .4 .2 .3 .1 .4 .3 .4 .4 .4-.1 .4 .3 .4-.1 .4-.1 .4 0 .4-.1 .4-.1 .4 .4 .4-.4 .4-.3 .4-.1 .4 .2 .3 .2 .4 .6 .4-.3 .4-.6 .4-.6 .4 .7 .4-.4 .4 .7 .4 .1 .4-.5 .4 .3 .4-.1 .4 .4 .4-.5 .3 0 .4 0 .4-.3 .4 .3 .4 .2 .4 .3 .4-.4 .4 .1 .4-.3 .4-.2 .4 .3 .4-.1 .4 .1 .4 .2 .4-.4 .3 .4 .4-.1 .4 0 .4 0 .4-.1 .4 .7 .4-.7 .4-.4 .4-.2 .4 .3 .4 .7 .4-.1 .4-.1 .4 .1 .3 .4 .4-.5 .4 .3 .4 0 .4-.5 .4 .3 .4 .3 .4-.6 .4 .2 .4 .3 .4-.6 .4-.1 .4 .5 .4 .3 .4-.7 .3-.6 .4 .2 .4 .2 .4 .1 .4 .1 .4 .2 .4-.2 .4 .3 .4 0 .4 .5 .4 0 .4-.7 .4 .5 .4-.4 .3 .2 .4 .3 .4-.3 .4 0 .4-.2 .4 .3 .4-.5 .4-.1 .4 .3 .4-.2 .4 0 .4 .3 .4 .2 .4 .5 .4-.7 .3-.4 .4-.1 .4-.2 .4 .5 .4 0 .4 .3 .4-.4 .4-.4 .4-.2 .4 .1 .4-.2 .4 .4 .4 .4 .4 .1 .4 .4 .3-1 .4 .5 .4 .2 .4-.4 .4 .4 .4 0 .4 .4 .4 .4 .4-.8 .4 .1 .4-.1 .4 .1 .4-.2 .4 0 .3 .8 .4-.1 .4 .1 .4-.2 .4-.3 .4-.7 .4-.1 .4 .4 .4 .1 .4 0 .4-.2 .4 .2 .4 0 .4 .1 .4-.3 .3-.3 .4 .3 .4-.1 .4-.1 .4 .6 .4 .1 .4 .1 .4-.3 .4 0 .4 .4 .4-.2 .4-.3 .4 .3 .4-.3 .3-.2 .4 .3 .4-.1 .4 .5 .4-.1 .4-.2 .4-.3 .4-.1 .4 .1 .4-.1 .4-.1 .4 .5 .4-.2 .4-.3 .4 .5 .3-.7 .4 .2 .4 .6 .4-.4 .4 .8 .4-.7 .4 0 .4 .4 .4-.4 .4-.3 .4 .2 .4 0 .4 .2 .4-.2 .3 .2 .4-.1 .4 .1 .4 .2 .4 .1 .4-.5 .4 .1 .4 .9 .4-.3 .4-.1 .4-.3 .4-1 .4 .2 .4-.2 .4 .9 .3-.6 .4 .1 .4 .3 .4 .1 .4-.4 .4 0 .4 .3 .4 .1 .4-.2 .4 0 .4-.1 .4 .1 .4 0 .4 .3 .4 .1 .3-.1 .4 0 .4-.3 .4-.4 .4 .5 .4 .2 .4-.2 .4 .5 .4-.2 .4-.3 .4 .2 .4 0 .4-.1 .4 .1 .3 .5 .4-.6 .4-.6 .4-.1 .4 .7 .4 .3 .4-.1 .4-.7 .4 .5 .4 .2 .4-.2 .4 0 .4 .3 .4-.7 .4 .4 .3 .1 .4 .2 .4-.1 .4-.1 .4-.3 .4 .2 .4 .2 .4-.5 .4 .5 .4 .3 .4-.2 .4-.1 .4-.6 .4 .1 .3 0 .4 .1 .4-.4 .4 .4 .4 0 .4-.1 .4-.2 .4 0 .4-.1 .4 .3 .4-.3 .4 .2 .4 .2 .4 .4 .4-.2 .3-.2 .4-.3 .4 .4 .4-.3 .4 0 .4 .5 .4-.3 .4-.1 .4-.2 .4-.3 .4 .5 .4 .5 .4 .6 .4-.6 .3 .3 .4-.8 .4-.6 .4 .6 .4 .1 .4-.2 .4-.1 .4 .1 .4 0 .4-.7 .4 .3 .4 .6 .4 .3 .4-.5 .4-.3 .3 .3 .4 .1 .4 .3 .4 .1 .4-.5 .4-.2 .4-.1 .4 .4 .4 .5 .4-.5 .4 .1 .4 0 .4 0 .4 .2 .4-.1 .3-.1 .4 .1 .4 .4 .4-.1 .4-.2 .4 .1 .4 .2 .4 .1 .4-.2 .4 .6 .4-.6 .4-.4 .4 .4 .4-.2 .3 0 .4-.3 .4 .1 .4 0 .4 .2 .4-.1 .4-.4 .4-.2 .4-.1 .4 1.3 .4-.2 .4 .6 .4-.5 .4-.5 .4-.2 .3-.4 .4 .3 .4-.1 .4 .2 .4 0 .4 .5 .4 .4 .4-.2 .4-.5 .4 .5 .4 0 .4-.2 .4-.9 .4 1 .3 .3 .4-.4 .4 0 .4-.2 .4 .1 .4 0 .4-.4 .4-.1 .4-.3 .4 .3 .4 .4 .4 .1 .4-.1 .4-.2 .4 .3 .3 .1 .4-.3 .4-.4 .4 .7 .4 0 .4 0 .4-.2 .4 .1 .4 .1 .4-.2 .4-.1 .4-.1 .4-.2 .4 .4 .4-.2 .3-.3 .4 .3 .4-.3 .4 .7 .4-.2 .4-.1 .4 .4 .4-.2 .4-.1 .4-.3 .4 .3 .4 .1 .4-.1 .4 .2 .3-.3 .4 .4 .4-.5 .4-.3 .4-.1 .4 .8 .4-.7 .4 .2 .4-.3 .4 .1 .4 .2 .4 .8 .4-.1 .4 0 .4 .1 .3 0 .4-.1 .4-.2 .4 .3 .4 .1 .4-.2 .4-.1 .4-.2 .4 .2 .4-.3 .4 .4 .4-.5 .4 .1 .4-.2 .3 0 .4 0 .4-.1 .4 0 .4-.1 .4 .7 .4 .1 .4-.5 .4-.1 .4 .2 .4 0 .4 .2 .4-.6 .4 .2 .4-.3 .3 .1 .4-.1 .4 .2 .4-.1 .4-.2 .4 .6 .4-.3 .4 .3 .4-.2 .4-.1 .4 .3 .4-.1 .4 .5 .4-.7 .3 .2 .4 0 .4 .7 .4-.7 .4 0 .4-.4 .4 .4 .4 .4 .4-.5 .4 .3 .4 .6 .4-.3 .4-.5 .4-.2 .4-.2 .3 .4 .4 .4 .4-.3 .4 .5 .4 0 .4-.3 .4 .3 .4 .3 .4-.5 .4-.3 .4-.1 .4 .3 .4-.3 .4 .2 .4-.4 .3 .4 .4-.2 .4 .2 .4 .6 .4-.7 .4 .2 .4-.3 .4-.3 .4 .3 .4-.1 .4 .1 .4 .3 .4 .1 .4 .3 .3-.1 .4-.3 .4 .6 .4-.3 .4-.2 .4-.4 .4 .2 .4-.2 .4-.4 .4 .6 .4-.2 .4-.3 .4-.2 .4 .5 .4-.1 .3-.1 .4 .1 .4 .4 .4 .3 .4 0 .4-.2 .4 0 .4-.2 .4 .2 .4-.6 .4 .1 .4 .1 .4 .3 .4-.2 .3-.3 .4 .1 .4 .1 .4-.7 .4 .7 .4 .3 .4-.3 .4-.2 .4 .3 .4 0 .4-.2 .4-.4 .4 .3 .4 0 .4 .1 .3 .5 .4-.9 .4-.1 .4 .5 .4 .5 .4-.4 .4 0 .4-.3 .4 .3 .4-.1 .4-.4 .4 .2 .4 .3 .4 0 .3 .3 .4-.2 .4-.4 .4-.1 .4-.2 .4 .6 .4-.3 .4-.1 .4 .4 .4 .2 .4-.3 .4 0 .4-.8 .4 .5 .4 .4 .3 .2 .4 0 .4-.4 .4 .7 .4-.3 .4-.3 .4-.1 .4 0 .4 0 .4-.1 .4 .2 .4-.2 .4-.4 .4-.2 .4-.4 .3 .6 .4 .2 .4 .5 .4-.1 .4 0 .4-.1 .4 .5 .4-.2 .4-.5 .4-.4 .4 .3 .4 .5 .4-.5 .4-.2 .3 .4 .4 0 .4 .7 .4-.2 .4-.2 .4 0 .4-.6 .4 .1 .4 .2 .4 .1 .4-.2 .4-.1 .4 0 .4 0 .4-.2 .3 .2 .4 .1 .4 0 .4 .3 .4-.4 .4 .1 .4 .5 .4 0 .4-.1 .4 0 .4-.3 .4-.4 .4-.1 .4 .1"/>
<path stroke="#00c5c5" d="M92.7 1021.5l.4 .2 .4-1.1 .4-.8 .4 .5 .4 .7 .4-.1 .4-.7 .4 .2 .4 1 .4-.8 .4 .7 .4 .2 .4 0 .4 .2 .3-.5 .4-.1 .4 .9 .4-.6 .4-.3 .4-.6 .4 .1 .4 .7 .4 .6 .4 0 .4 0 .4 0 .4-.1 .4 .3 .4-.4 .3 .3 .4-.3 .4-.9 .4-.3 .4 .3 .4 .1 .4-.3 .4 .1 .4 .5 .4 .3 .4 .4 .4-.6 .4 .3 .4 .5 .3-.1 .4 .7 .4-.8 .4-.2 .4 0 .4-.2 .4 0 .4 .2 .4-.1 .4-.2 .4-.1 .4 .1 .4-.6 .4 .5 .4-.3 .3 .2 .4-.3 .4 .5 .4 0 .4 0 .4-.2 .4 .3 .4 .9 .4-1.2 .4 .5 .4 .2 .4-.3 .4-.5 .4 1.1 .3-.1 .4 .3 .4-.5 .4-.4 .4 .7 .4 .2 .4-.5 .4-.1 .4 .3 .4-.5 .4-.3 .4 .2 .4 .7 .4 .2 .4-.2 .3 .5 .4-.5 .4-.4 .4 1.2 .4-.8 .4 .1 .4 .1 .4-.2 .4-.1 .4 .2 .4 .1 .4-.6 .4 .1 .4 .6 .3 .1 .4-.6 .4 0 .4-.6 .4-.4 .4 .2 .4 1.1 .4-.5 .4-1 .4 .5 .4-.1 .4 .7 .4 .6 .4-.5 .4-.1 .3-.5 .4 .8 .4-.6 .4 .1 .4 1.2 .4-1 .4 0 .4-.1 .4 .1 .4 .1 .4 .6 .4-.3 .4-.1 .4-.9 .4 .3 .3-.7 .4 .8 .4-.2 .4 .4 .4-.6 .4 .1 .4-.1 .4 .1 .4-.3 .4-.4 .4-.2 .4-.3 .4-.4 .4-.4 .3-.5 .4 1.2 .4-.8 .4-.9 .4 .3 .4-.6 .4-1 .4-.6 .4-1.2 .4-4 .4-4.4 .4-8.1 .4-11.8 .4-16.7 .4-16.9 .3-12.8 .4-1 .4 18 .4 21.2 .4 15.3 .4 10.9 .4 5.9 .4 3.4 .4 1.4 .4 1.6 .4 1.1 .4 .3 .4 .2 .4-.5 .3 .9 .4-.4 .4 .4 .4-.1 .4 1.5 .4-.5 .4 .5 .4-.6 .4-.3 .4 .1 .4-.4 .4 .9 .4-1 .4 .3 .4-1.5 .3-.8 .4 .1 .4-1.3 .4 .5 .4-1.1 .4-1.8 .4-1.4 .4-3.8 .4-4.9 .4-7.2 .4-8.4 .4-9.7 .4-13 .4-12.9 .3-13.5 .4-12 .4-8.1 .4 .1 .4 9.4 .4 16.4 .4 17.3 .4 14.7 .4 12 .4 8.6 .4 5.4 .4 1.2 .4-1.7 .4-3.4 .4-5.4 .3-4.2 .4 .8 .4 7.6 .4 8.3 .4 5.7 .4 4.6 .4 2.1 .4 .5 .4 .4 .4 0 .4-.2 .4 .2 .4 0 .4 .4 .4 .8 .3 .3 .4-.5 .4 .4 .4 0 .4-.2 .4 1 .4-.5 .4 .7 .4-.9 .4 .6 .4-.2 .4 .7 .4 .1 .4-.6 .3 .4 .4 .5 .4 .2 .4 0 .4-1.1 .4 .5 .4-1.3 .4-.7 .4-1 .4 .2 .4-.2 .4 1 .4-.2 .4 1.8 .4 .6 .3 .7 .4 .2 .4-.4 .4 0 .4-.2 .4-1 .4-.2 .4 .3 .4 .8 .4-.7 .4 .4 .4-.2 .4 .6 .4 .3 .3-.7 .4-.4 .4 1 .4 .4 .4-.4 .4 .3 .4-.3 .4 .1 .4-.4 .4 .3 .4 .7 .4 .2 .4 .1 .4-.6 .4 .2 .3-.7 .4-.2 .4 .1 .4-.6 .4 .4 .4-.8 .4 1.3 .4 .3 .4-.2 .4-.5 .4-.3 .4 0 .4-.6 .4 .3 .4-.1 .3 .8 .4 .7 .4 .4 .4-1.2 .4-.7 .4 1.1 .4 .3 .4 .2 .4-.1 .4-.2 .4 .8 .4-.2 .4-.2 .4-.9 .3 .1 .4 .6 .4-.1 .4 .2 .4-.5 .4 .2 .4-.5 .4-.1 .4 .6 .4 .6 .4-.7 .4-.3 .4-.2 .4 0 .4 0 .3 .5 .4 0 .4-.2 .4 .1 .4-1 .4 .2 .4 1.2 .4-.9 .4-.2 .4 .3 .4 .5 .4-.4 .4-.6 .4 .9 .3-1.5 .4-.1 .4-.1 .4-1 .4 1.1 .4 .5 .4-1.9 .4-.7 .4-.5 .4 .3 .4 0 .4 .8 .4 .8 .4 .4 .4 .5 .3 1 .4 0 .4 .2 .4-.1 .4 .3 .4 .6 .4-.5 .4-.5 .4-.4 .4 .7 .4-.5 .4 .3 .4 1.2 .4-.5 .3 .5 .4-.6 .4-.4 .4 .2 .4-.7 .4-1.1 .4 .6 .4 0 .4 .5 .4 1.1 .4-.1 .4-1.2 .4 .4 .4-.9 .4-.7 .3 1.9 .4-.7 .4-.9 .4 .6 .4 .2 .4 .4 .4-.1 .4-.1 .4 .5 .4-.3 .4-.4 .4 .3 .4-.4 .4 .7 .4-.3 .3-.2 .4-.4 .4 .4 .4 .2 .4-.6 .4-1.4 .4 .5 .4-.9 .4-.4 .4-1.8 .4-1.6 .4-2.7 .4-3.2 .4-3.2 .3-1.4 .4 .3 .4 1 .4 2 .4 3.8 .4 3.9 .4 1.2 .4 1.2 .4 .5 .4 .2 .4 1.6 .4-.8 .4 .6 .4-.2 .4 .6 .3 .8 .4-.3 .4-.5 .4 .5 .4-.5 .4-1.1 .4 1 .4-.5 .4 0 .4 .9 .4-.4 .4-.7 .4 0 .4-1.8 .3-2 .4-1.8 .4-2 .4-3.3 .4-5.2 .4-4.7 .4-6.5 .4-5.8 .4-2.8 .4 2.2 .4 5.6 .4 6.2 .4 7.6 .4 5 .4 3.1 .3 2 .4 .5 .4 1.9 .4 .2 .4 1.1 .4 .4 .4-.7 .4 .5 .4 .1 .4 .1 .4 .1 .4 .2 .4-.1 .4 .5 .3 .1 .4-.4 .4-.2 .4-.2 .4-.2 .4-.1 .4 0 .4-.3 .4-1.2 .4 .2 .4-.6 .4-.3 .4 .6 .4-1.2 .4-3.7 .3-3.4 .4-3 .4-6.2 .4-8.1 .4-9.2 .4-8 .4-5.9 .4 0 .4 4.8 .4 7.4 .4 6.5 .4 4.3 .4 2.8 .4 1.1 .4-.7 .3 1.7 .4 4.9 .4 3.5 .4 3.6 .4 3.9 .4 2.7 .4 1.3 .4 1.4 .4 .2 .4 .3 .4 .1 .4 .3 .4 0 .4 .7 .3 0 .4 .4 .4-.8 .4-.8 .4-.5 .4-.5 .4-.2 .4-1.1 .4-1.2 .4-1.8 .4-3.6 .4-4.1 .4-3.3 .4-5 .4-2.7 .3-2.1 .4 .6 .4 3.3 .4 4.5 .4 6 .4 2.1 .4 1.7 .4 2.1 .4 1.7 .4 1.9 .4 .1 .4-1.5 .4-.3 .4-1.6 .3-3.4 .4-3.2 .4-4.2 .4-4.9 .4-4.5 .4-2.8 .4 .5 .4 2.5 .4 4.9 .4 4.9 .4 3.3 .4 4.1 .4 2.7 .4 2.6 .4 1.1 .3 1.6 .4 .8 .4 .6 .4 .3 .4-.8 .4 .3 .4 .8 .4 .4 .4 0 .4-.3 .4-.2 .4-.8 .4-.7 .4 .4 .3 .5 .4-.6 .4-.8 .4-.6 .4 .1 .4-1.4 .4-.8 .4-.3 .4 .3 .4 .1 .4 .1 .4 .5 .4 .4 .4 1.1 .4 1.4 .3 .6 .4 .1 .4-.2 .4 .4 .4 .8 .4 .4 .4 .1 .4 .3 .4 .4 .4-.4 .4 .1 .4-1.3 .4 .7 .4-.2 .4 .2 .3-.5 .4 .1 .4-.5 .4 .3 .4-.4 .4 .7 .4-.4 .4-.2 .4-.7 .4-.3 .4-.7 .4-.6 .4 .2 .4-.5 .3-.5 .4 .4 .4 1.7 .4 .5 .4 0 .4 .2 .4 .1 .4 .2 .4 1 .4 0 .4-.9 .4-1.7 .4-1 .4-.6 .4-1.6 .3-1.5 .4-2.2 .4-1.4 .4-.8 .4-.2 .4 .2 .4 1 .4 0 .4-1 .4-1.6 .4-2.4 .4-4 .4-3.4 .4-1.7 .3 2 .4 3.8 .4 4.3 .4 4.6 .4 2.9 .4 2.6 .4 1 .4 1.2 .4 .1 .4 1.1 .4 .9 .4-.7 .4-.2 .4 .5 .4 .2 .3 .6 .4-1.5 .4 .4 .4 .7 .4 .3 .4-.5 .4 .6 .4 .1 .4 0 .4-.2 .4 .1 .4 .3 .4-.8 .4-1.4 .4 1.3 .3-.8 .4 .9 .4 .3 .4 .4 .4-.6 .4 .6 .4-.2 .4-.2 .4 .1 .4-.3 .4 1.1 .4-.6 .4 0 .4-.1 .3 .2 .4 0 .4-.2 .4 .1 .4 .1 .4 0 .4 .5 .4-.4 .4-.2 .4 .2 .4-.3 .4 .2 .4 .1 .4-1.4 .4 .4 .3-.2 .4-.8 .4-.4 .4-.6 .4 .4 .4-.3 .4-1.5 .4-1.7 .4-2.4 .4-.5 .4-1 .4-1 .4-.2 .4 1.3 .3 1.5 .4 1.4 .4 1.4 .4 1.3 .4 1 .4 1.3 .4 .1 .4 .8 .4 .3 .4 .6 .4 .5 .4 .8 .4-.3 .4-.8 .4-.3 .3 1.3 .4-1.2 .4-.1 .4 .6 .4-.4 .4 0 .4 .7 .4-.2 .4-.6 .4-.1 .4-.4 .4-.1 .4-.3 .4-.8 .3-.3 .4-.2 .4-.2 .4-.2 .4 .7 .4-1 .4 .6 .4 1.1 .4 .2 .4-.5 .4-.2 .4 1.4 .4 0 .4-.5 .4-.4 .3-.6 .4-.4 .4-1.4 .4-.9 .4-1.5 .4-1.7 .4-1.5 .4-2.9 .4-.9 .4 .3 .4 1.2 .4 1.6 .4 2.1 .4 2.2 .4 .9 .3 1.2 .4 1.1 .4 .2 .4 .7 .4-.5 .4 .7 .4-.3 .4 .3 .4-.1 .4-1.5 .4-.4 .4-1.1 .4-2 .4-2.8 .3-3.2 .4-4.3 .4-4.7 .4-4.4 .4-2.8 .4-.1 .4 2.2 .4 4.9 .4 3.2 .4 5.2 .4 3.7 .4 2.7 .4 1.6 .4 1.6 .4 1.1 .3 .2 .4 .1 .4 0 .4 0 .4 .8 .4 .3 .4 .9 .4-1 .4-.3 .4 .6 .4 0 .4 .4 .4-.4 .4 .9 .3-.3 .4 .1 .4 .5 .4-.9 .4-.1 .4-.3 .4 .8 .4-1 .4 .2 .4 0 .4 .7 .4 .8 .4-.5 .4 .7 .4-.4 .3-1.2 .4-.2 .4-.6 .4 .5 .4 0 .4-.2 .4-.7 .4-.1 .4-.5 .4 .5 .4 1 .4-.3 .4 .8 .4-.3 .3-.4 .4 .1 .4-1.1 .4 .7 .4-.7 .4-1.5 .4-.4 .4-1.7 .4-.7 .4-1 .4-1.2 .4-1.9 .4-.5 .4 1 .4 .9 .3 1.3 .4 2.3 .4 1.1 .4 .5 .4 .1 .4 .5 .4 .1 .4 .5 .4 .7 .4-.3 .4 .5 .4 0 .4 .5 .4-.7 .4-.1 .3 .3 .4 .4 .4-.1 .4-1.7 .4 .5 .4-.7 .4 .5 .4-.4 .4-.2 .4-.1 .4 .3 .4-.4 .4-.1 .4-.6 .3-.9 .4 0 .4-.2 .4-2.1 .4-1.6 .4-2.8 .4-2.9 .4-5.5 .4-7.8 .4-14.3 .4-21.5 .4-28.5 .4-33.5 .4-31.5 .4-11.8 .3 11.9 .4 27.1 .4 30.8 .4 24.1 .4 13.1 .4 1.9 .4-7.5 .4-17.9 .4-23.3 .4-21.6 .4-9.6 .4 11 .4 24.4 .4 27.3 .3 23.4 .4 16.9 .4 11.6 .4 6 .4 4.6 .4 2.2 .4 1.1 .4 1.1 .4 .2 .4-.4 .4-2 .4-3.1 .4-4.7 .4-6.9 .4-9.1 .3-10.5 .4-8.2 .4-4 .4 3.2 .4 7.4 .4 8 .4 7.7 .4 4.1 .4-.7 .4-4.8 .4-9.7 .4-12.9 .4-12.5 .4-8.8 .3-.2 .4 9.7 .4 13.8 .4 13.7 .4 12.4 .4 8.6 .4 5.7 .4 3.7 .4 3.3 .4 1.5 .4 .8 .4-.8 .4-.7 .4 0 .4-.5 .3-1 .4-2.5 .4-3.7 .4-6.3 .4-6.7 .4-8.5 .4-7.6 .4-5 .4-1.1 .4 5.6 .4 9 .4 8.8 .4 7.5 .4 5.2 .4 3.8 .3 3.2 .4 1 .4 1.7 .4 .5 .4 1 .4 .7 .4-.4 .4-.5 .4-.3 .4 .2 .4-1.5 .4 .9 .4 0 .4 .6 .3 1 .4-1.4 .4-.1 .4 .8 .4-.2 .4 .8 .4 1.4 .4-.7 .4-.2 .4 .2 .4 .8 .4-.6 .4 .5 .4 0 .4 0 .3-.9 .4 .5 .4 .3 .4-.6 .4 1.5 .4-.4 .4-.6 .4 .2 .4-.3 .4 0 .4-.7 .4 .6 .4-.4 .4-.6 .3 0 .4-1.3 .4-.4 .4-.8 .4-.6 .4-.7 .4-1.1 .4-.7 .4-.7 .4-.7 .4 1.8 .4 1.4 .4 .1 .4 0 .4 .7 .3 .3 .4 1 .4 .6 .4-.7 .4-1.2 .4-.1 .4-1.4 .4-2.1 .4-1.7 .4-1.3 .4-1.8 .4-2.5 .4-1.2 .4-.2 .4 1.3 .3 1.3 .4 2.4 .4 .9 .4 1.9 .4 1.3 .4 2.5 .4 .2 .4 1 .4 1.6 .4 0 .4 .5 .4-.4 .4 0 .4 1.1 .3-1.6 .4-.7 .4-.5 .4-.7 .4 .1 .4-1.7 .4 .5 .4 .2 .4 .2 .4 .7 .4 .4 .4 1.6 .4 .5 .4 .2 .4 .7 .3-.8 .4 .5 .4-.3 .4 .6 .4 0 .4-.4 .4-.3 .4-.3 .4-.4 .4-.5 .4-.5 .4-.4 .4-1.5 .4-2.1 .3-1.9 .4-2 .4-1.3 .4-2 .4-.6 .4-1.1 .4-.3 .4 1.1 .4 2.2 .4 1.8 .4 1.1 .4 .6 .4 2.6 .4 2.2 .4 .8 .3 .5 .4 1.1 .4 .6 .4 .6 .4 1.2 .4-.2 .4-.7 .4 .7 .4-.8 .4 .9 .4 0 .4 .2 .4 0 .4-.3 .3-.7 .4 .1 .4-.3 .4-1.6 .4 .7 .4-.8 .4 .4 .4 0 .4-1.5 .4-.5 .4 .5 .4 0 .4-.6 .4-.4 .4 1.6 .3 .6 .4 1.3 .4-.3 .4 1 .4 .1 .4-.9 .4 .9 .4-.3 .4-.2 .4 .2 .4 .5 .4-.9 .4 .8 .4 .3 .4 .7 .3-.5 .4 .2 .4-.1 .4-.1 .4-.1 .4-.1 .4-.1 .4-.6 .4-.4 .4-.5 .4-1 .4-1 .4-.3 .4-1.2 .3-.5 .4-1.7 .4 .6 .4-.5 .4-.5 .4 0 .4 .1 .4 .2 .4 1.7 .4 .3 .4-.1 .4 .4 .4 1.2 .4 1.5 .4 .5 .3-.2 .4 0 .4 .8 .4 .5 .4 0 .4-.2 .4-.6 .4-.1 .4 .5 .4-.3 .4 .2 .4-.2 .4 .1 .4 .8 .3 0 .4-.1 .4-.7 .4-.6 .4 .5 .4-.7 .4-.6 .4-2.3 .4 .2 .4-.6 .4-2.3 .4-1.7 .4-1.3 .4-1.4 .4-2 .3-1.8 .4-1.8 .4-1.5 .4 .1 .4 0 .4 .3 .4 .6 .4 1.1 .4 1.8 .4 1.3 .4 2.2 .4 1.2 .4 1.7 .4 .1 .3 1.3 .4 .8 .4 .7 .4-.2 .4 .4 .4 .1 .4 .2 .4 .1 .4-1.3 .4 .5 .4 0 .4-.9 .4-.5 .4 1.2 .4-.6 .3-1.1 .4-1.1 .4-1.6 .4-1.9 .4-.7 .4-1.1 .4-1.2 .4-1 .4-1.6 .4-2.3 .4-1 .4-.9 .4-2.1 .4-1.5 .4-2 .3-1.8 .4-2.2 .4-1.9 .4-2.6 .4-.6 .4-1.8 .4-1.1 .4-.4 .4 .4 .4 .6 .4 1.1 .4 .9 .4 1.3 .4 1.8 .3 1.8 .4 2 .4 1.6 .4 2.5 .4 2.4 .4 1.7 .4 2.4 .4 .8 .4 1 .4 .8 .4 1.6 .4 1.3 .4 1 .4 .9 .4 1.2 .3 .6 .4 .5 .4 1.5 .4-.4 .4 1.5 .4 .9 .4 1.5 .4 .8 .4-.6 .4 .7 .4-.5 .4 .6 .4-.2 .4-.2 .3 .6 .4 .8 .4 .1 .4-.7 .4-.3 .4 .2 .4-.5 .4 .4 .4 0 .4 .2 .4-.3 .4-.5 .4 .4 .4-.7 .4-.9 .3 .2 .4 .5 .4-.8 .4 .4 .4 1.1 .4 0 .4 .8 .4 .7 .4 .4 .4-.2 .4 .1 .4 .3 .4 .8 .4-.2 .4-.6 .3 1.4 .4-.4 .4 .7 .4-.2 .4 0 .4 1.4 .4 .6 .4-.6 .4-.2 .4 .2 .4-.3 .4-.1 .4 .2 .4-.3 .3 .1 .4 .2 .4-.1 .4-.5 .4 .3 .4 .2 .4-.3 .4-.2 .4 0 .4-.8 .4-.2 .4 .1 .4-.3 .4-.4 .4-.5 .3 .3 .4-.2 .4 .4 .4 .6 .4 .2 .4 .3 .4-.1 .4 .6 .4 .2 .4 0 .4 .7 .4-.2 .4 .2 .4 .4 .3 .2 .4-.4 .4-.8 .4-.3 .4-1.1 .4 .6 .4-1.5 .4-.4 .4-.4 .4-.8 .4 .1 .4-.3 .4-.5 .4 0 .4-.2 .3-.6 .4 .2 .4-.1 .4 1.1 .4 .1 .4 .1 .4 .7 .4 .8 .4 0 .4 1 .4-.1 .4 .6 .4-.3 .4 .6 .3 1.1 .4-.3 .4 .6 .4-.1 .4 .7 .4 .9 .4-.7 .4 .3 .4 .2 .4 .1 .4-.4 .4-.4 .4 0 .4 .2 .4-.4 .3 .3 .4-.6 .4-.1 .4-.2 .4 .7 .4 .9 .4-.5 .4 .6 .4 .1 .4-1.4 .4 .5 .4 .4 .4 .3 .4 .5 .4-.7 .3 .3 .4-1.3 .4 .7 .4-.7 .4 1 .4 0 .4-.5 .4 0 .4 .7 .4 .5 .4-.3 .4-.5 .4 .1 .4-1.6 .3 .5 .4 1.5 .4-1.1 .4-.5 .4-.5 .4 .3 .4-.2 .4-.1 .4 .2 .4-.7 .4-.2 .4 .2 .4-.2 .4 .2 .4-.5 .3-1 .4-.6 .4-1.6 .4-1 .4-.2 .4 .4 .4-1.1 .4-.3 .4-1 .4 .2 .4-.1 .4-.8 .4 .1 .4 .2 .3 .7 .4 1.5 .4-.8 .4 .8 .4 1 .4-.1 .4 .8 .4 .8 .4-.4 .4 .6 .4 .3 .4 0 .4 .6 .4 .4 .4 .1 .3-.5 .4 .8 .4-.3 .4-.4 .4 .6 .4-.1 .4-.5 .4-.2 .4-.3 .4 .5 .4-1.1 .4-.6 .4 .3 .4-.2 .3-1.3 .4-.3 .4-.2 .4-.2 .4-.4 .4 .2 .4 .3 .4 1.5 .4 .9 .4 1.1 .4 1.1 .4-1.3 .4 .5 .4 0 .4 .8 .3 .3 .4-.8 .4 .1 .4 .5 .4 .3 .4 1.1 .4-1.2 .4 .2 .4 .2 .4 1 .4-.3 .4 .7 .4-.6 .4 .7 .4-.3 .3-.1 .4 0 .4 .2 .4 .1 .4-.7 .4 1.1 .4-.3 .4-.2 .4-1 .4-.3 .4-.1 .4-.1 .4 0 .4-.1 .3-.1 .4-1.3 .4-.3 .4-.8 .4 .6 .4-1 .4-1.8 .4 .7 .4-.8 .4 .1 .4 0 .4-.2 .4 .3 .4 .2 .4 1.3 .3-.1 .4 1.3 .4-.6 .4 .4 .4 .1 .4 1 .4 1.4 .4 .2 .4-.5 .4 .8 .4 .1 .4-.5 .4 0 .4 .5 .3 .2 .4 0 .4-.1 .4 .1 .4 1 .4-.7 .4 .4 .4-.6 .4-.6 .4 1 .4 0 .4-.2 .4 .2 .4 0 .4 .7 .3-.7 .4 .2 .4-.6 .4-.5 .4 .3 .4 .9 .4-1.2 .4 0 .4 .3 .4 .1 .4 0 .4 .5 .4-.5 .4 .6 .3-.4 .4 .3 .4 0 .4 .2 .4-.6 .4-.1 .4 .1 .4 .7 .4-.2 .4 .1 .4-1.3 .4-.5 .4-.5 .4 0 .4-.3 .3-.7 .4-1.1 .4 .2 .4-.4 .4-.2 .4-.2 .4-.7 .4 .1 .4 .6 .4 .1 .4 .4 .4 .6 .4-.4 .4 .8 .4 .7 .3 .6 .4-1 .4 .7 .4 .5 .4 .5 .4 .2 .4 .8 .4-.2 .4 .4 .4-.3 .4-.5 .4 .3 .4 1.4 .4-1.4 .3 .9 .4 .6 .4 .6 .4 0 .4-.1 .4-.6 .4-.7 .4 .1 .4-.3 .4 .1 .4 .1 .4 .4 .4 0 .4-.2 .4 .2 .3 .1 .4-.2 .4-.1 .4 .5 .4 .4 .4 0 .4-1.2 .4 .5 .4-.9 .4 .9 .4-.4 .4 0 .4 0 .4 1.1 .3-.1 .4-1 .4 .3 .4 .1 .4-.3 .4 .1 .4-.1 .4 1 .4-.5 .4 .2 .4 0 .4-.5 .4-.2 .4 .4 .4-.7 .3 .7 .4-.2 .4 1.1 .4 0 .4-.7 .4-.4 .4 0 .4 .4 .4-.5 .4-.2 .4 .1 .4 .8 .4-.5 .4-.4 .4-.4 .3 1.3 .4-.8 .4-.4 .4 .4 .4 0 .4 .5 .4-.4 .4-.5 .4 .3 .4 1.1 .4-.3 .4-.4 .4-.1 .4 0 .3 .8 .4-1 .4-.5 .4 1.1 .4-1.1 .4 .1 .4-.7 .4 1 .4-.2 .4-.2 .4 0 .4 .4 .4-.4 .4 .7 .4 .7 .3-.3 .4 .2 .4 0 .4-.6 .4 1.1 .4-.8 .4-.1 .4-.3 .4 .2 .4 .2 .4 .7 .4-.5 .4-.4 .4 .7 .3 0 .4-1.1 .4 .1 .4-.5 .4 .6 .4 .3 .4 .4 .4 .3 .4-.1 .4 .3 .4-.4 .4-.5 .4-.9 .4 .8 .4 .4 .3 .3 .4-.2 .4-.3 .4-.2 .4 .1 .4-.1 .4 0 .4 0 .4 .1 .4-.7 .4-.1 .4 .4 .4 .6 .4-.6 .3 .3 .4 .1 .4 .3 .4-1 .4 1.3 .4-.5 .4 .5 .4 .1 .4 .3 .4-.4 .4-1.4 .4 .6 .4 .4 .4 0 .4 .1 .3-.3 .4-.5 .4 .6 .4-.1 .4-.1 .4 .4 .4-.3 .4 .1 .4-.4 .4 .6 .4 .4 .4-.2 .4-.2 .4 .1 .4-.3 .3 .3 .4 .3 .4-.7 .4 .4 .4-.3 .4 .6 .4-.2 .4-.6 .4-.1 .4 .2 .4 .1 .4-.5 .4-.4 .4 1.2 .3 .1 .4 .1 .4-.6 .4 1.2 .4-.8 .4 0 .4-.5 .4 .6 .4 0 .4 .7 .4 .1 .4-1.1 .4-.2 .4-.1 .4 .1 .3 .3 .4-.8 .4 .6 .4 .2 .4 .6 .4-1.3 .4 .8 .4-.6 .4-1 .4 1.3 .4-.4 .4 .5 .4 .8 .4 .1 .3-1.4 .4 .7 .4 .1 .4-.6 .4-.5 .4 .1 .4 .6 .4 .4 .4-.5 .4 .9 .4-.5 .4 .1 .4 .9 .4-1.4 .4 .2 .3-.3 .4 .1 .4 .2 .4-.5 .4 1.1 .4-.3 .4-.7 .4 .8 .4-1.1 .4 .5 .4 .1 .4 .8 .4-.7 .4 .3 .3-.3 .4 .2 .4-1 .4-.4 .4 .4 .4 .7 .4 .1 .4-1 .4 0 .4 .6 .4 .4 .4-.1 .4-.5 .4 .7 .4-1 .3 .4 .4 .7 .4 .1 .4-.1 .4-.1 .4 .6 .4 .4 .4-.6 .4 .1 .4 .4 .4-1.5 .4-.4 .4 1.3 .4-.4 .4-.8 .3-.4 .4 .1 .4 .7 .4-.8 .4 .4 .4 0 .4 .8 .4-.2 .4 .1 .4-.2 .4-.2 .4 .1 .4-.1 .4 .2 .3 0 .4 .2 .4 .2 .4-.3 .4-.6 .4 .6 .4 .8 .4-.2 .4 .1 .4-.7 .4-.4 .4-.4 .4 0 .4 .6 .4-.1 .3-.4 .4 .5 .4 .5 .4-.4 .4 .3 .4-.1 .4 .5 .4 .5 .4-.1 .4-1.3 .4-.1 .4 .5 .4-.3 .4 .9 .3-1.4 .4 1 .4 .2 .4 0 .4-.2 .4-.8 .4 .1 .4 .1 .4-.7 .4 .2 .4-.2 .4 .5 .4-1.2 .4 .7 .4 1.4 .3 .6 .4-.3 .4 .6 .4-1.2 .4 .1 .4 .3 .4-.7 .4 .4 .4 .1 .4-.4 .4-.2 .4-.4 .4 .2 .4 .2 .3-1 .4 .5 .4-.3 .4 .3 .4-.8 .4-.1 .4-.4 .4 .1 .4-1.7 .4-.2 .4-.7 .4-.8 .4-1.7 .4-.9 .4-1.1 .3-1.9 .4-1.5 .4-1.4 .4-1.2 .4-.1 .4-1.1 .4 0 .4 .1 .4 .5 .4 1 .4 .3 .4 1.4 .4 1.2 .4 2 .4 .2 .3 2.3 .4 .4 .4 1.2 .4 0 .4-.3 .4 .6 .4-.6 .4-.3 .4-.9 .4-.9 .4 0 .4-.6 .4-2.1 .4-.8 .3-1.5 .4-1.7 .4-.9 .4-1.4 .4-.4 .4 .2 .4 1.2 .4 .9 .4 1.4 .4 1.4 .4 2.5 .4 1.2 .4 .7 .4 1.2 .4 .7 .3 1.1 .4 1.3 .4-.5 .4 1.4 .4-.1 .4 .5 .4 .8 .4 .1 .4 .8 .4 0 .4 .2 .4-.5 .4 .2 .4-.7 .3-.6 .4 .6 .4-.1 .4 .4 .4-.1 .4-.1 .4-1 .4 .4 .4 .7 .4-.2 .4-.6 .4 .1 .4-.2 .4-.8 .4-.7 .3-.4 .4-.3 .4-.2 .4 .5 .4 .4 .4 .5 .4-.1 .4-.1 .4 .2 .4 .8 .4 .1 .4 .7 .4-1 .4 1.2 .4-.1 .3-.3 .4 .1 .4 .6 .4 .3 .4 1 .4 .2 .4-.7 .4-.4 .4 0 .4 .7 .4-.5 .4-1 .4 .7 .4 .5 .3 .3 .4-.3 .4 .4 .4 0 .4-.8 .4 .4 .4-.3 .4 .3 .4-.3 .4-1.4 .4 .2 .4 .3 .4-.5 .4-.6 .4 .9 .3-.4 .4-.2 .4-1.1 .4 .6 .4-.5 .4 0 .4-.3 .4-1 .4 .1 .4-.5 .4-.7 .4 .3 .4 1.9 .4-.4 .3 .5 .4 0 .4-.1 .4 .4 .4 .7 .4 .4 .4 1.4 .4-.7 .4-.6 .4 .7 .4-.5 .4 .5 .4 .5 .4-1.2 .4 .4 .3-.2 .4 .5 .4 .3 .4-.3 .4 .1 .4 .8 .4 0 .4 .3 .4-.6 .4-.1 .4-.3 .4 .6 .4-.7 .4-.1 .3-.4 .4-.5 .4 .3 .4 .9 .4 .4 .4-.5 .4 .6 .4-.5 .4-.5 .4-.2 .4-.3 .4-.2 .4 .3 .4-1.1 .4-.4 .3-.3 .4 .4 .4-.2 .4-1.2 .4 0 .4-.5 .4-.4 .4 1.3 .4-.2 .4-.4 .4 .7 .4-.4 .4 .7 .4-.3 .4 .7 .3-.8 .4 .3 .4 .4 .4 .6 .4-.2 .4 .6 .4 .4 .4 .2 .4 0 .4 .4 .4-.1 .4 .3 .4-.6 .4 .9 .3-.2 .4-.8 .4-.1 .4 .3 .4 .7 .4-.3 .4-.8 .4-.2 .4 .4 .4-.1 .4 .3 .4 .8 .4-.4 .4-.3 .4-.1 .3-.5 .4 .3 .4 0 .4-.1 .4 .2 .4 .3 .4 .9 .4-.2 .4-.7 .4-1.5 .4-.3 .4 .4 .4-.6 .4 .5 .3-.4 .4-1.2 .4 .9 .4-.4 .4-.1 .4-.6 .4 .6 .4-.1 .4-.5 .4 .2 .4-.9 .4 .1 .4-.3 .4-.9 .4-.1 .3-1 .4-.7 .4-.5 .4-.4 .4 .5 .4-.8 .4 .9 .4-1.2 .4-.5 .4 .6 .4-.5 .4-.9 .4-1.1 .4-.1 .3 .6 .4-.6 .4 .2 .4 .4 .4-.2 .4-.8 .4 .3 .4-.6 .4-.2 .4-.2 .4 .3 .4-.5 .4 1.4 .4-.1 .4-.5 .3 .4 .4 .5 .4-.1 .4 .6 .4-.2 .4 .4 .4 1 .4 .5 .4 .1 .4 .1 .4 1 .4 .9 .4 1 .4 .8 .4-.1 .3 0 .4 .7 .4-.3 .4-.3 .4 0 .4 .4 .4 .7 .4 .1 .4 .1 .4 .5 .4 .7 .4-.3 .4 0 .4 1.3 .3-.5 .4 .2 .4 .3 .4-.8 .4 .5 .4-.1 .4-.7 .4 .7 .4 1 .4 .4 .4-.1 .4 .1 .4-.2 .4-.1 .4 .2 .3-.6 .4-.2 .4 1 .4-.7 .4 1 .4-.2 .4 .2 .4-.2 .4-.2 .4-.2 .4-.2 .4 .4 .4 .4 .4 .4 .3-.4 .4-.3 .4 .7 .4 .5 .4 .1 .4-.4 .4 0 .4 .5 .4-.5 .4 .6 .4-.1 .4-.8 .4 0 .4-.2 .4-.2 .3 1 .4-1.1 .4 .5 .4 .9 .4-.4 .4 .1 .4-.8 .4-.3 .4 .3 .4-.4 .4 .3 .4-.3 .4 .3 .4 .1 .3 .1 .4-.5 .4 .4 .4 1.4 .4-1.6 .4 .7 .4-.8 .4 1.2 .4-.5 .4 .2 .4 0 .4 .8 .4-.1 .4-.9 .4 .5 .3 .2 .4 .5 .4-1 .4 .7 .4 .4 .4-.3 .4 0 .4 .1 .4-1.1 .4 .2 .4 .4 .4-.3 .4 .5 .4 .8 .4-.6 .3-.8 .4 .3 .4-1 .4 1.2 .4 .8 .4-1.2 .4-.9 .4 1 .4 .2 .4-.5 .4-.6 .4 .1 .4 .2 .4 .4 .3-1.7 .4 .4 .4-.2 .4 .4 .4 .6 .4-1 .4-.1 .4-.4 .4-.1 .4 .3 .4 .8 .4-.2 .4-.3 .4 1.5 .4 .2 .3-1.3 .4-.2 .4 .3 .4 .5 .4 .5 .4-.6 .4-.1 .4-.2 .4 1.7 .4 0 .4-.2 .4 0 .4-.9 .4 .8 .3-1.1 .4 .1 .4 0 .4 .1 .4-.5 .4 .7 .4-.7 .4 1.1 .4-.4 .4-.1 .4-.1 .4-.3 .4 1.2 .4-1 .4 0 .3-.1 .4 .8 .4 .1 .4 .5 .4-.4 .4-.8 .4-.6 .4 .6 .4 .4 .4-.5 .4 .3 .4 .2 .4 .2 .4 .1 .4-1 .3 .5 .4 .5 .4-.6 .4-.1 .4 1 .4-.4 .4-.9 .4-.4 .4 .1 .4-1 .4 .9 .4 .2 .4-.6 .4 .7 .3-1.7 .4 .7 .4-.5 .4-.6 .4-1.6 .4 1.2 .4-1.7 .4 .2 .4 .2 .4-.1 .4 .3 .4 .5 .4-.3 .4-.4 .4 1.8 .3-.5 .4-.3 .4-.1 .4 .9 .4-.3 .4 .4 .4 .2 .4 .4 .4-.1 .4-.4 .4 1.1 .4-.8 .4 .9 .4 .6 .3 .8 .4-.5 .4-.7 .4 .4 .4-.3 .4 .6 .4 0 .4 .4 .4 .1 .4-1 .4 .8 .4-.5 .4 .5 .4-.1 .4-.2 .3 .3 .4-.5 .4 .5 .4 .6 .4-.2 .4-.1 .4-.3 .4 0 .4 1 .4-.2 .4-.3 .4 .4 .4-.9 .4-.3 .3 .4 .4 .4 .4 .5 .4-.5 .4-.4 .4 .6 .4 .1 .4-.4 .4 .4 .4 .3 .4 .2 .4-1.3 .4-.5 .4 .6 .4 0 .3 .1 .4 .1 .4 .1 .4-.8 .4-.3 .4 .2 .4 .4 .4-.8 .4 0 .4 0 .4 .4 .4-.1 .4-.4 .4-.4 .4-.7 .3-.1 .4 .3 .4 1.2 .4-.3 .4-.4 .4 .7 .4 .6 .4-.6 .4 .7 .4 .8 .4-.1 .4-.5 .4-.1 .4 .3 .3-.5 .4-.3 .4-.2 .4 1.2 .4 0 .4-.1 .4 .6 .4 .1 .4 0 .4-.9 .4-.2 .4 0 .4 .7 .4 .7 .4-.7 .3 .3 .4 .3 .4-.4 .4-1 .4 1.2 .4 .3 .4-1.1 .4 .1 .4 0 .4 .6 .4-.4 .4-.2 .4 0 .4-.6 .3 .7 .4-.7 .4 .1 .4 .8 .4-.5 .4 .3 .4 .1 .4 .3 .4-.2 .4 0 .4-.7 .4-.4 .4 .8 .4-.3 .4 .1 .3 .1 .4-.4 .4-.1 .4-.2 .4 .4 .4 1 .4-.3 .4-.7 .4-.3 .4 .7 .4-.2 .4 .5 .4-.5 .4-.1 .3 0 .4-.3 .4 .1 .4 .6 .4 .1 .4 .5 .4-.8 .4 .5 .4-.4 .4 0 .4 .6 .4-.4 .4-.2 .4 .2 .4-.3 .3 0 .4 .8 .4-.8 .4 .3 .4 .3 .4 .2 .4-.1 .4 .5 .4-.9 .4-.4 .4 .3 .4-.4 .4 .3 .4 .4 .4-.3 .3-1.8 .4 .9 .4-.7 .4-.2 .4 1.1 .4-.1 .4 1.1 .4 .3 .4-.3 .4 .1 .4 .6 .4-.5 .4 .1 .4-1.3 .3 1.2 .4-1.4 .4 .1 .4-.2 .4 .6 .4-.1 .4-1.2 .4 1.2 .4 .4 .4-.3 .4 .4 .4-1 .4 .4 .4 .8 .4-.9 .3-.9 .4 .7 .4 1.3 .4-.8 .4 .2 .4-.4 .4-.7 .4 .9 .4 .4 .4-.9 .4-.7 .4 1.1 .4-.1 .4-.2 .3-.8 .4-.3 .4-.8 .4 .7 .4-.1 .4 .3 .4-.6 .4 .5 .4-.8 .4-.2 .4 .6 .4-.5 .4-.3 .4-.1 .4-.3 .3-.3 .4-.4 .4 1.1 .4-.3 .4 0 .4-.5 .4-.2 .4-.2 .4-.6 .4-.7 .4 .7 .4-.4 .4 .5 .4-.3 .3-.6 .4 0 .4-.5 .4 .5 .4-.2 .4-.6 .4-.6 .4-.8 .4 .3 .4 .3 .4-.1 .4-.9 .4 .3 .4-.3 .4 1.2 .3 .2 .4-.3 .4-.5 .4-.5 .4 .6 .4-.2 .4-.5 .4 .8 .4 .7 .4 .3 .4 .2 .4-.8 .4 1.1 .4-.7 .4 .1 .3 0 .4 0 .4 .4 .4 .3 .4 .7 .4 1 .4 .7 .4-.2 .4 .9 .4-.8 .4-.1 .4-.1 .4 .3 .4-.2 .3 .1 .4 .3 .4 .7 .4 .3 .4 .4 .4-.3 .4-.3 .4 1.1 .4-.3 .4-.3 .4-.1 .4 .2 .4 0 .4 .5 .4 .3 .3 0 .4-1.5 .4 .8 .4-.4 .4 .7 .4 .2 .4 .2 .4-.1 .4 .7 .4-.9 .4 1.2 .4 .1 .4-.2 .4 .1 .3-.4 .4 .5 .4-.1 .4 .6 .4-.6 .4-.4 .4 .1 .4 .3 .4 0 .4 .6 .4 .2 .4-.9 .4 .3 .4 0 .4-.4 .3 .5 .4-.2 .4-.8 .4 .6 .4 .4 .4-.4 .4-1 .4 .4 .4-.7 .4 1.3 .4 .7 .4-.6 .4 .3 .4-.1 .4-.8 .3 .3 .4-.4 .4-.7 .4 .8 .4 0 .4-.3 .4 .5 .4 .2 .4-.3 .4-.3 .4 .1 .4 0 .4 .4 .4-1.3 .3 0 .4 .4 .4-.9 .4 .9 .4-.7 .4 .8 .4-1 .4 0 .4-.3 .4-.5 .4 .9 .4-.7 .4 .5 .4-.6 .4-.1 .3-.6 .4 .3 .4 .5 .4-.1 .4 .3 .4 .5 .4-.1 .4 .6 .4 1.4 .4-1 .4-1.2 .4 .7 .4 0 .4 1.1 .3-.6 .4-.2 .4 1.2 .4 .3 .4 .7 .4-1.4 .4 0 .4 1.2 .4-.9 .4-.2 .4 .7 .4 0 .4-.2 .4-.1 .4 .7 .3-1.4 .4-.2 .4 0 .4 .3 .4-.6 .4 .4 .4 .1 .4 .5 .4-.2 .4-1 .4 .7 .4-.6 .4 .1 .4 .9 .3-.4 .4-.8 .4 .1 .4 1.2 .4-1.1 .4 .1 .4-.5 .4-.5 .4-.2 .4-.6 .4 .4 .4-.9 .4 .8 .4-.2 .4 .4 .3 0 .4-.2 .4-.2 .4 .7 .4 .2 .4 .3 .4-1.1 .4 .9 .4 .3 .4 .7 .4-.8 .4-.3 .4 .1 .4-.2 .4 .9 .3 .6 .4 .8 .4-1.4 .4 .3 .4-.3 .4 .7 .4 .9 .4-.7 .4 .1 .4-.3 .4 .7 .4-.2 .4-1.6 .4-.3 .3 .7 .4-.4 .4-.7 .4 .1 .4-.2 .4-.2 .4 .2 .4-.5 .4-.9 .4 .5 .4 0 .4 0 .4 .4 .4-.4 .4 .4 .3 .2 .4-.3 .4 .2 .4 1.3 .4-.2 .4 .1 .4-.3 .4 1.1 .4-.7 .4 .6 .4 1.1 .4-.6 .4 .4 .4 0 .3-.3 .4-.9 .4 .2 .4-.4 .4 1.2 .4 0 .4-.8 .4 0 .4 .2 .4 1.3 .4-.5 .4-.7 .4 .4 .4 .3 .4-.1 .3 .3 .4 0 .4 .5 .4-.7 .4 .1 .4 .5 .4-.7 .4 .5 .4-.2 .4 .5 .4-.6 .4 .5 .4-.3 .4-.1 .3 .6 .4-.3 .4 .4 .4-.7 .4 .8 .4 .5 .4-1 .4 0 .4 .2 .4-.3 .4 1 .4 .5 .4-.4 .4-.5 .4 .6 .3-1.3 .4-.3 .4-.6 .4 .6 .4-.3 .4 .3 .4 .1 .4 .5 .4-.5 .4-.9 .4 .2 .4 .4 .4 .2 .4 .3 .4-.3 .3 .6 .4-.4 .4-.4 .4 .5 .4 .7 .4 .1 .4-.5 .4-.2 .4-.1 .4 .3 .4 .3 .4 0 .4-.3 .4-.6 .3 .5 .4-.5 .4-.3 .4 .2 .4 .4 .4 1.1 .4-.8 .4-1.4 .4 .3 .4 .1 .4 .8 .4 .6 .4-.4 .4-.5 .4-.2 .3-.8 .4 .5 .4 0 .4-.6 .4-1.1 .4-.1 .4 .4 .4 .3 .4 .8 .4-.9 .4-.7 .4 .2 .4-.4 .4 .9 .3 .5 .4-.1 .4-.1 .4-.5 .4 1.2 .4 1 .4-.7 .4-.8 .4-.3 .4 1.5 .4-.5 .4-.4 .4-.4 .4 .1 .4 .2 .3-.2 .4 .2 .4 .6 .4 1 .4 1.1 .4-.7 .4-.4 .4 .2 .4 .2 .4-.3 .4 .3 .4-.6 .4 .3 .4 0 .4-.1 .3 .1 .4-.4 .4 .4 .4 .4 .4-.8 .4 0 .4-.9 .4-.1 .4 1.3 .4-1 .4 .8 .4 .2 .4 .6 .4-.3 .3-.7 .4-.2 .4 .3 .4-1.3 .4 .7 .4 .3 .4 .2 .4 .3 .4-.3 .4 .4 .4-.1 .4 .6 .4-.7 .4-1.1 .4 0 .3-.2 .4 .1 .4-.5 .4 .9 .4 .5 .4 .3 .4-.3 .4 .1 .4-.8 .4 .7 .4 .9 .4-.7 .4 .5 .4-.5 .3-.3 .4 0 .4-.3 .4 .3 .4 .6 .4-.4 .4-.1 .4-.7 .4-.2 .4 .8 .4-.2 .4 .4 .4-.4 .4 1 .4-.4 .3 .2 .4-.5 .4-.5 .4-.3 .4-.1 .4-1 .4 1 .4-.1 .4-.2 .4 0 .4-.2 .4 .7 .4 0 .4-1 .3 .5 .4-.7 .4 .3 .4-.3 .4-.2 .4 .6 .4 .6 .4 .2 .4-.5 .4-.1 .4 .6 .4 .5 .4 0 .4 .1 .4-.4 .3-.4 .4-.1 .4 .2 .4-.3 .4 .7 .4-.2 .4 1.6 .4 .3 .4 0 .4-1.5 .4 0 .4 .6 .4-.9 .4-.4 .4 .9 .3 .3 .4-.6 .4 .4 .4 .4 .4-.8 .4 .8 .4-.9 .4 1.1 .4-.5 .4-.4 .4 .5 .4 .3 .4 0 .4 0 .3-.4 .4 1.1 .4-.1 .4-.2 .4 0 .4 .5 .4 0 .4-1 .4 .2 .4-.4 .4 0 .4 .1 .4-.3 .4 .2 .4-.2 .3 1.1 .4 .4 .4-.9 .4-.7 .4 .2 .4 0 .4 .1 .4-.2 .4-.1 .4 .6 .4 .2 .4-.3 .4 .3 .4-1 .3-.1 .4 1.1 .4 0 .4-.5 .4-.2 .4-.2 .4 .8 .4-.4 .4 .7 .4 .4 .4 .4 .4-.7 .4 .2 .4-1.3 .4 .2 .3 1.1 .4-.4 .4-.6 .4-.2 .4 .2 .4 0 .4-.2 .4-.1 .4 .2 .4 .7 .4 .8 .4-1.4 .4-.5 .4 1.2 .3-.2 .4-.2 .4 0 .4 .5 .4-.5 .4 .2 .4 .4 .4-.4 .4-.5 .4 .3 .4 0 .4-.3 .4 0 .4-.2 .4-.7 .3 .3 .4 .7 .4 .4 .4-.3 .4-1.3 .4 .5 .4 .7 .4 .3 .4-.6 .4 .6 .4 .3 .4 .1 .4-.7 .4 .4 .4 1 .3-.4 .4-.6 .4 .6 .4-1.3 .4-.6 .4 .1 .4 .9 .4 .4 .4 0 .4 0 .4-.3 .4-.3 .4 .2 .4 0 .3 .4 .4-.4 .4 .4 .4 .2 .4-.2 .4-1.7 .4 .4 .4 .7 .4 .4 .4 .2 .4 .1 .4 .6 .4-.7 .4 .1 .4-.1 .3-.2 .4 0 .4-.8 .4 .4 .4-.4 .4 .2 .4 .1 .4 .2 .4 .1 .4 .3 .4-.6 .4-.5 .4 .1 .4 .3 .3 .1 .4 .4 .4-.4 .4 .8 .4-.7 .4-.5 .4-.2 .4 .8 .4-.5 .4 .3 .4 .5 .4-.3 .4 .6 .4-.6 .4-1 .3 .9 .4 .7 .4-.5 .4 .3 .4 0 .4 .5 .4-.8 .4 .3 .4 0 .4 1 .4-.2 .4-.9 .4 .6 .4 .2 .3 .1 .4-.8 .4-.6 .4 1.1 .4 .6 .4-.4 .4-1 .4 .6 .4 .2 .4 0 .4-.8 .4-.1 .4 .7 .4-.1 .4-.6 .3 .2 .4 0 .4-.4 .4 .2 .4-.3 .4 .9 .4-.5 .4-.6 .4 .5 .4 .9 .4-.3 .4 0 .4 .4 .4-.1 .4-.2 .3 .4 .4-.8 .4-.6 .4-.4 .4 .5 .4-.3 .4 1.1 .4 .1 .4 0 .4-1 .4 .2 .4 .3 .4 .4 .4-.2 .3 0 .4-.1 .4-1.1 .4 .6 .4-.3 .4 .2 .4-.5 .4 .4 .4 .2 .4-.3 .4-.8 .4 .7 .4 .3 .4 .5 .4 .3 .3-.5 .4 .4 .4 .4 .4-.3 .4-.2 .4 .2 .4 .4 .4-.1 .4 .6 .4-.3 .4-.2 .4-1.7 .4 .3 .4 .5 .3-.3 .4 .1 .4-.6 .4 .4 .4 0 .4-.3 .4 .2 .4-.7 .4 .7 .4 1.6 .4-.5 .4-.5 .4 .1 .4 .5 .4-.5 .3 .2 .4 .8 .4 .1 .4-.7 .4 .1 .4-.4 .4-.1 .4 .5 .4-.9 .4 .4 .4-.5 .4-.2 .4-.2 .4 .3 .4-.2 .3 .3 .4-.7 .4 .7 .4 .3 .4-.1 .4-.4 .4 .6 .4 .8 .4-.4 .4-.1 .4-.3 .4 .3 .4-.7 .4-.1 .3 .8 .4 .1 .4-.4 .4-.5 .4 .8 .4-.3 .4 .9 .4-.7 .4 0 .4 .3 .4 .2 .4-.2 .4 1 .4-1.5 .4 .5 .3 0 .4-.4 .4-.1 .4 .3 .4-.2 .4-.3 .4-.7 .4 .9 .4 1.3 .4-.7 .4-.5 .4 .2 .4 .5 .4-.4 .3-.6 .4-1 .4 .6 .4 1.4 .4-.4 .4-.2 .4 .6 .4 .3 .4 .4 .4-.8 .4 1 .4-1.5 .4 .3 .4 0 .4 .1 .3-.5 .4 .5 .4-.5 .4 .6 .4 .4 .4-.9 .4-.3 .4 0 .4-.5 .4 .2 .4 .3 .4-.3 .4 1.1 .4 .3 .3-.7 .4-.3 .4 .2 .4 1.3 .4-.5 .4-.8 .4 .4 .4-.8 .4 .1 .4 .4 .4-.6 .4 .5 .4-.5 .4-.2 .4 .7 .3 0 .4 .1 .4 .7 .4-.5 .4 .1 .4 .3 .4 .3 .4-1.4 .4 .4 .4-.8 .4 1.6 .4 .4 .4-.9 .4-.2 .4 .2 .3-.6 .4 .7 .4-.6 .4-.4 .4 .3 .4 .6 .4-1.1 .4 0 .4-.2 .4 .8 .4-.2 .4-.4 .4 .7 .4-.4 .3-.1 .4 0 .4-.1 .4 .4 .4 .2 .4-.4 .4 .6 .4-.4 .4 .2 .4 0 .4-.6 .4-.5 .4 .8 .4 0 .4-.3 .3 .2 .4 .7 .4-.5 .4 0 .4-.2 .4 .2 .4 .2 .4 .8 .4 .6 .4 .2 .4-1.1 .4-.1 .4-.5 .4 .2 .3 .6 .4 .1 .4-.4 .4-.2 .4 .3 .4 0 .4 .3 .4-.2 .4-.4 .4 1.1 .4-.8 .4 0 .4-.8 .4 .2 .4-.2 .3 .6 .4-.3 .4-.7 .4 .7 .4-.2 .4 .4 .4 .1 .4 .4 .4-.6 .4-.1 .4 0 .4-.2 .4 .9 .4-.4 .3-.1 .4-.3 .4 1 .4-.3 .4-.4 .4 0 .4 .5 .4-.1 .4-.4 .4-.1 .4-.1 .4-.7 .4 .7 .4 .1 .4-.9 .3 1 .4-.3 .4-.8 .4-.2 .4 .2 .4 .8 .4-.2 .4 .4 .4-.3 .4 .3 .4-1.2 .4 .5 .4 0 .4 1.6 .4 .3 .3-.1 .4 0 .4-.5 .4-.6 .4 .3 .4-.7 .4 .4 .4-.5 .4-.1 .4-.1 .4 .7 .4-.4 .4 .1 .4 .5 .3-.5 .4-.3 .4 .5 .4-.1 .4 .2 .4 .7 .4-.4 .4 .6 .4-.5 .4-.1 .4 .5 .4-.4 .4-.3 .4-.7 .4 .8 .3 .1 .4 .1 .4 .4 .4-.3 .4-.5 .4 .6 .4 .4 .4 1.1 .4-1 .4-.9 .4-.3 .4 .6 .4 .4 .4-1"/>
<path stroke="#ff0480" d="M92.7 1185.3l.4 0 .4 .1 .4-.2 .4 .2 .4 .1 .4 .4 .4-.5 .4 1 .4-1.5 .4 .4 .4 .5 .4-.1 .4-.2 .4 .1 .3 .4 .4 .4 .4-.8 .4 .2 .4-.1 .4 .5 .4-.3 .4 .1 .4 .5 .4-.3 .4 0 .4-.3 .4 0 .4-.6 .4 .2 .3 .2 .4 0 .4 1.1 .4-1.1 .4-.5 .4 .7 .4 .4 .4 .1 .4 .4 .4 .6 .4-.6 .4-.7 .4 .2 .4 .5 .3 .1 .4-.2 .4 0 .4 .1 .4-.7 .4 .5 .4-.3 .4 .1 .4 0 .4 .2 .4 .4 .4-.1 .4 0 .4 .3 .4 0 .3-.4 .4 .4 .4-.3 .4-.1 .4 .2 .4 .5 .4-.5 .4-.2 .4 .2 .4-.3 .4 .2 .4 .6 .4-.9 .4 .3 .3-.1 .4 .9 .4 0 .4 0 .4-.3 .4-.5 .4 .2 .4 .2 .4 0 .4 .7 .4-.1 .4-.6 .4-.1 .4 .2 .4-.5 .3 .2 .4-.1 .4 .3 .4 .1 .4-.2 .4 .6 .4-.4 .4 .3 .4-.5 .4-.2 .4 0 .4 .1 .4 .5 .4-.5 .3 .8 .4-.6 .4 .7 .4-.1 .4-.3 .4 .3 .4-.3 .4 0 .4 .1 .4 1 .4-.8 .4 .6 .4-.5 .4-.4 .4-.1 .3 .6 .4-.3 .4-.3 .4 .4 .4 0 .4 .3 .4-.6 .4 .7 .4 .2 .4-.6 .4-.2 .4 .3 .4-.2 .4 .3 .4 .1 .3-.2 .4-.5 .4-.5 .4 .5 .4-.2 .4 .7 .4 .6 .4-.3 .4 .1 .4 .2 .4 0 .4-.7 .4-.3 .4 0 .3 .2 .4-.2 .4 .3 .4 .5 .4-.3 .4 0 .4-.4 .4 .1 .4 .5 .4 .3 .4-.2 .4-.4 .4 .7 .4-1 .4 0 .3-.1 .4 .3 .4 .3 .4-.2 .4 1.4 .4 .1 .4-.4 .4-.6 .4-.8 .4 .7 .4 .2 .4-.1 .4 .4 .4-.2 .3-.8 .4-.5 .4 .2 .4 .4 .4 .3 .4 .1 .4-.2 .4-.3 .4 .4 .4 .2 .4-.3 .4-.3 .4 0 .4-.2 .4 .4 .3-.4 .4 .4 .4-.2 .4 .4 .4 .8 .4-.8 .4 0 .4 .9 .4-.1 .4-.3 .4-.1 .4-.3 .4-.6 .4-.7 .3 .3 .4 .3 .4 .7 .4 .1 .4-.7 .4 .4 .4-.4 .4 .7 .4-.5 .4 .5 .4 0 .4-.3 .4 .5 .4-.3 .4-.9 .3 .6 .4-.2 .4 .1 .4 .3 .4 .3 .4-.1 .4-.4 .4-.1 .4-.2 .4 .2 .4-.1 .4 .5 .4-.2 .4 .4 .4 .6 .3-.2 .4-.4 .4 .3 .4-.5 .4 0 .4 .5 .4 0 .4-.3 .4-.2 .4-.2 .4 .7 .4 .5 .4 .1 .4-.5 .3-.2 .4-.5 .4-.3 .4 .5 .4 .2 .4-.6 .4-.3 .4 .5 .4-.4 .4 .7 .4 .4 .4-.7 .4 0 .4 .4 .4 .3 .3-.3 .4-.2 .4-.1 .4 .3 .4 .1 .4-.2 .4-.3 .4 .1 .4 0 .4-.1 .4-.4 .4 .3 .4 .5 .4-.1 .3 .4 .4-.1 .4 .1 .4 0 .4-1 .4 .5 .4 .4 .4-.6 .4-.6 .4 .1 .4 .2 .4 .4 .4-.5 .4 .2 .4-.2 .3 .4 .4 0 .4 .2 .4-.2 .4-.1 .4 .5 .4-.5 .4 .1 .4-.1 .4 .1 .4-.2 .4 .7 .4 .2 .4-.3 .4 .6 .3-.3 .4 .3 .4-.8 .4-.2 .4-.1 .4 .9 .4 .1 .4-.5 .4 .1 .4-.2 .4 0 .4-.4 .4 .5 .4 .1 .3-.4 .4 .2 .4 .3 .4 0 .4-.3 .4 .2 .4 .2 .4 .5 .4-.6 .4 0 .4-.2 .4-.2 .4 .1 .4-.5 .4-.1 .3-.2 .4 .5 .4 0 .4-.2 .4 .1 .4 .4 .4-.2 .4-.8 .4 1.3 .4-.3 .4 .3 .4-.5 .4-.1 .4 .2 .3 .2 .4-.3 .4 .8 .4-.6 .4-.1 .4 .8 .4-.3 .4-.8 .4 .5 .4 .1 .4 .4 .4 .4 .4-.4 .4 .1 .4-.3 .3-.5 .4-.2 .4-.2 .4-.3 .4 1 .4-.3 .4-.4 .4 .2 .4-.3 .4 .7 .4 .7 .4-.2 .4-.3 .4-.3 .3 .2 .4 .3 .4 .1 .4-.4 .4 0 .4-.6 .4 .3 .4 .4 .4 .3 .4-.6 .4-.5 .4 1 .4-.2 .4-.2 .4 .1 .3-.2 .4 .3 .4 .1 .4-.4 .4-.5 .4 .1 .4-.9 .4 1 .4-.1 .4-.1 .4 .4 .4 .3 .4-.2 .4-.3 .4-.4 .3 0 .4 .1 .4-.2 .4 .4 .4 .3 .4 0 .4 .8 .4-.3 .4 .1 .4 1.1 .4-.1 .4-.7 .4-.2 .4-.3 .3 0 .4-.2 .4-.5 .4-.2 .4 .6 .4 .7 .4-.2 .4-.6 .4-.3 .4 .8 .4 .5 .4 0 .4-.4 .4-.4 .4 .4 .3-.3 .4-.4 .4-.7 .4 .3 .4 .3 .4-.1 .4 .8 .4-.5 .4 .5 .4-.1 .4-.2 .4 .3 .4-.6 .4 .7 .3-.4 .4-.2 .4 .3 .4 .1 .4-.4 .4 .4 .4-.4 .4 .1 .4-.2 .4 .1 .4 .3 .4-.1 .4-.3 .4 .5 .4 .1 .3-.4 .4-.1 .4-.1 .4 1.1 .4-.3 .4 .3 .4-.1 .4-.1 .4-.2 .4-.9 .4 .2 .4 .3 .4-.3 .4 .8 .3-.2 .4-.2 .4-.8 .4 .7 .4 .4 .4-.7 .4-.3 .4 .7 .4-.5 .4 .3 .4-.1 .4 .6 .4-.2 .4 .1 .4-.3 .3-.7 .4 .3 .4 .7 .4-.2 .4 0 .4-.1 .4 .2 .4 .1 .4 .3 .4-.7 .4-.6 .4 .7 .4-.2 .4 .1 .4 .6 .3-.4 .4 .6 .4-.4 .4-.9 .4 .3 .4 .2 .4 .1 .4 0 .4 .9 .4 .1 .4-.2 .4-.6 .4-.1 .4 .1 .3 .5 .4-.9 .4 .6 .4 .3 .4-.2 .4-.1 .4-.4 .4 0 .4 .5 .4 0 .4 .2 .4 0 .4-.5 .4 .3 .4 .4 .3 .2 .4-.3 .4-.9 .4 .4 .4-.8 .4 .9 .4-.4 .4-.4 .4 .6 .4 .2 .4-.2 .4 .5 .4-.4 .4 .1 .3 0 .4 0 .4 0 .4 0 .4-.8 .4 .1 .4 .2 .4-.2 .4 .4 .4-.2 .4-.3 .4 .4 .4-.3 .4-.1 .4 .1 .3 0 .4 .2 .4 .4 .4-.4 .4 .2 .4-.2 .4 0 .4-.2 .4 .3 .4-.1 .4 0 .4-.2 .4-.1 .4 .4 .3-.1 .4-.4 .4 .6 .4 .6 .4-.6 .4 .3 .4-.4 .4 .1 .4 .2 .4-.5 .4-.2 .4 0 .4 .3 .4 .3 .4-.3 .3 .1 .4 .7 .4-.2 .4-.8 .4 .3 .4-.4 .4 0 .4 0 .4 .6 .4 .6 .4 .1 .4 0 .4-.7 .4 .5 .4 .2 .3-.8 .4 .7 .4-.3 .4-.2 .4 .2 .4 .4 .4-.5 .4 .2 .4 .3 .4-.4 .4 .2 .4-.2 .4-.4 .4 .1 .3 .1 .4 .3 .4 .3 .4-.1 .4-.3 .4-.2 .4-.2 .4-.6 .4 .4 .4 .6 .4-.5 .4 .1 .4 0 .4 0 .4-.4 .3-.4 .4 .4 .4 .3 .4-.2 .4 .4 .4-.2 .4 .1 .4-.1 .4 .5 .4-.1 .4-.2 .4-.6 .4 1 .4 0 .3 .4 .4-.8 .4-.1 .4-.1 .4-.2 .4 .2 .4 .1 .4 .4 .4 .1 .4-.7 .4 .4 .4-.2 .4 .5 .4 .1 .4 0 .3-.6 .4 0 .4 .5 .4-.3 .4 .2 .4-.7 .4-.2 .4 .2 .4 0 .4-.2 .4 .5 .4-.1 .4 .2 .4-.1 .4 .3 .3-.8 .4-.5 .4 .6 .4 .6 .4-.1 .4 .1 .4-.2 .4 .3 .4 0 .4-.4 .4 .6 .4-.5 .4-.6 .4 .7 .3-.1 .4 0 .4-.5 .4 .4 .4 0 .4 0 .4 .5 .4-.2 .4 .3 .4-.5 .4 0 .4-.2 .4 .3 .4 .2 .4 0 .3-.2 .4-.6 .4 .1 .4 .8 .4-.1 .4 0 .4 .5 .4-.5 .4-.3 .4 .1 .4 .3 .4 .3 .4-.2 .4-.4 .3 0 .4 0 .4 .5 .4-.7 .4 .2 .4 0 .4 .2 .4-.1 .4 .2 .4-.2 .4 0 .4 .7 .4-.7 .4 .6 .4-.3 .3-.4 .4 .4 .4-.4 .4-.1 .4-.2 .4 .4 .4-.6 .4 .1 .4-.2 .4 .6 .4 .3 .4 .1 .4-.4 .4-.2 .3-.4 .4 .3 .4-.2 .4 .2 .4-.4 .4 .3 .4 .8 .4-.3 .4-.1 .4-.4 .4-.2 .4 .2 .4-.4 .4-.1 .4 .6 .3-.8 .4 .5 .4-.4 .4 .2 .4 .4 .4-.2 .4 .5 .4-.5 .4 .3 .4 1 .4-.4 .4-.4 .4 .1 .4 .1 .4-.4 .3 .1 .4-.2 .4 0 .4 .1 .4-.6 .4 .4 .4 .1 .4 .6 .4-.2 .4-.5 .4 .4 .4 .5 .4 .3 .4-1.1 .3 .8 .4-.4 .4-.4 .4 .5 .4 0 .4-.5 .4 .2 .4-.1 .4 0 .4-.5 .4 .3 .4 .4 .4-.1 .4-.2 .4-.1 .3 .8 .4-.3 .4-.4 .4-.2 .4 .3 .4 0 .4-.4 .4 .1 .4 0 .4 .4 .4-.1 .4-.3 .4-.8 .4 .7 .3 .2 .4-.4 .4 .2 .4 0 .4 .3 .4 .2 .4 .3 .4-.4 .4-.3 .4 .3 .4-.2 .4-.3 .4-.5 .4 .3 .4 .7 .3 0 .4 .1 .4 .2 .4 .5 .4-.5 .4 .1 .4-.1 .4-.1 .4-.2 .4 .2 .4-.2 .4 .2 .4-.1 .4-.3 .3 .1 .4-.1 .4 .2 .4-.1 .4 .1 .4-.1 .4-.4 .4 .5 .4 .4 .4 .1 .4-.5 .4-.2 .4 .1 .4-.4 .4 .9 .3 0 .4 0 .4-.2 .4 .2 .4 .2 .4-.5 .4-.3 .4 .3 .4 .3 .4-.4 .4 .4 .4 .2 .4-.5 .4 .8 .4-.4 .3-.1 .4 .2 .4-.1 .4-.1 .4-.3 .4-.1 .4 .1 .4-.6 .4 .9 .4-.3 .4 .2 .4-.4 .4 .3 .4-.1 .3 .7 .4-.8 .4 0 .4-.6 .4 .5 .4 .7 .4-.2 .4 0 .4 .4 .4-.1 .4-.3 .4-.6 .4 .3 .4 0 .4 .2 .3-.6 .4 0 .4 .9 .4-.4 .4-.1 .4 .3 .4-.2 .4-.8 .4 .5 .4 .3 .4-.2 .4 .2 .4-.3 .4 .2 .3 0 .4 .2 .4 .2 .4-.3 .4 .6 .4-.5 .4-.1 .4-.2 .4 0 .4 .8 .4-.4 .4-.1 .4 0 .4-.2 .4 .1 .3-.6 .4 .4 .4-.3 .4 .4 .4 .1 .4 0 .4-.2 .4 .5 .4-.3 .4-1 .4 .2 .4 .3 .4-.1 .4 .5 .3 .3 .4-.5 .4-.4 .4 .3 .4 0 .4-.5 .4 .7 .4-.2 .4 .1 .4-.9 .4 .6 .4 .1 .4 .5 .4-.2 .4 .6 .3-.8 .4 .4 .4-.6 .4 0 .4-1.3 .4 .6 .4 .4 .4-.1 .4 .1 .4 .6 .4-.4 .4-.3 .4 .6 .4-.2 .4 .2 .3 .5 .4-.3 .4-.6 .4-.1 .4-.1 .4 .2 .4 .7 .4 .1 .4-.3 .4 .5 .4 .2 .4-.7 .4 0 .4-.2 .3-.4 .4-.3 .4-.1 .4 .4 .4 .1 .4 .8 .4-.2 .4 .3 .4-.2 .4-.5 .4-.1 .4 0 .4-.3 .4 .1 .4 .2 .3-.1 .4-.2 .4 .2 .4 0 .4 .1 .4 .4 .4-.4 .4-.2 .4 1.2 .4-.6 .4-.3 .4-.2 .4 .4 .4 0 .3 .2 .4 0 .4-.1 .4-.2 .4-.3 .4 0 .4 .4 .4 .7 .4-.6 .4-.1 .4 .5 .4 .4 .4-.6 .4-.9 .4 .4 .3 .2 .4 .5 .4-.3 .4 .4 .4-.6 .4 .6 .4-.1 .4-.1 .4-.2 .4 .2 .4-.1 .4-.1 .4-.2 .4 0 .4-.3 .3-.6 .4 .8 .4-.1 .4-.3 .4 .5 .4-.1 .4 0 .4-.5 .4 .6 .4-.1 .4 .2 .4-.5 .4 .6 .4-.4 .3 .2 .4-.1 .4 .1 .4 .5 .4-1 .4 .3 .4-.5 .4 0 .4 .7 .4-.4 .4-.1 .4-.2 .4-.5 .4 .3 .4 0 .3 1 .4-.5 .4-.2 .4-.1 .4 .3 .4 .7 .4-.4 .4 0 .4-.3 .4 .7 .4-.1 .4-1 .4 .6 .4-.5 .3-.4 .4-.1 .4-.5 .4 .2 .4 .5 .4 .3 .4 .1 .4-.4 .4 .5 .4-.2 .4-.1 .4 0 .4-.1 .4 .2 .4 .2 .3-.1 .4-.2 .4-.6 .4 .9 .4 .2 .4-.6 .4 0 .4 1.2 .4-.3 .4-.5 .4-.3 .4-.3 .4 .1 .4 0 .3 .2 .4 .4 .4-.3 .4 .1 .4 0 .4-.8 .4 1.2 .4-.7 .4-.2 .4 .1 .4 0 .4-.1 .4-.1 .4-.4 .4 .1 .3 .1 .4-.3 .4-.7 .4 1.1 .4 .1 .4-.1 .4 .2 .4-.1 .4-.2 .4 .2 .4-.1 .4 .1 .4-.1 .4 .2 .4 .2 .3 .4 .4-.6 .4-.9 .4 .1 .4 .3 .4 .2 .4 .4 .4-.3 .4 0 .4-.5 .4 .3 .4-.2 .4 .3 .4-.2 .3-.6 .4 .1 .4 .4 .4 .8 .4-.9 .4-.3 .4 .3 .4-.1 .4 .2 .4-.1 .4-.3 .4-.6 .4 0 .4 .7 .4 0 .3 0 .4-.1 .4-.5 .4 .1 .4-.1 .4 .2 .4-.7 .4 .6 .4 0 .4-.5 .4 .4 .4 .1 .4-.9 .4 .2 .3-.3 .4 .1 .4 .4 .4-.1 .4 0 .4-.1 .4-.3 .4 .3 .4-.6 .4 .1 .4 .1 .4-.2 .4 .1 .4-.2 .4-.4 .3 .2 .4-.2 .4-.2 .4 0 .4 1 .4-1 .4-.4 .4 .3 .4-.8 .4-1 .4-.4 .4 .2 .4 .6 .4 0 .3 .5 .4-.3 .4 0 .4-.2 .4-1.6 .4-.2 .4 0 .4 0 .4 .2 .4 .3 .4-.2 .4-.3 .4-.2 .4-1 .4-.5 .3 .2 .4-1.5 .4 .2 .4-.3 .4-.8 .4-.5 .4-1.2 .4-.8 .4-.9 .4-.4 .4-1.8 .4-1.4 .4-1.1 .4-1.2 .4-2.6 .3-2 .4-2.8 .4-3.4 .4-3.1 .4-3.9 .4-4.3 .4-5.1 .4-6.3 .4-8.2 .4-9 .4-11.9 .4-12.4 .4-14.6 .4-15.9 .3-15 .4-12.5 .4-7 .4-.3 .4 6.6 .4 12.6 .4 14.5 .4 15.9 .4 15.5 .4 12 .4 11.8 .4 9.6 .4 7.8 .4 6.6 .4 5.6 .3 4.7 .4 3.8 .4 3.8 .4 3.3 .4 1.4 .4 2 .4 2.4 .4 1.5 .4 1.9 .4 1.1 .4 .6 .4 1.2 .4 .6 .4 .9 .3 .2 .4 .6 .4 1 .4 .1 .4 .3 .4 1.5 .4 .8 .4-.2 .4 .5 .4 0 .4 .4 .4-.2 .4 .8 .4 .3 .4-.4 .3-.4 .4 1.9 .4-.6 .4 .5 .4 .1 .4 .6 .4-.3 .4 .2 .4-.3 .4 .2 .4 .3 .4 .9 .4-.4 .4-.1 .4 .5 .3 .3 .4-.4 .4 .2 .4 .4 .4 .2 .4 .5 .4-.8 .4-.2 .4-.3 .4 .5 .4-.3 .4 .8 .4-.2 .4-.2 .3 .7 .4-.1 .4 .6 .4-.2 .4 .7 .4 .1 .4 .2 .4-.3 .4 0 .4-.5 .4 .1 .4 .1 .4-.4 .4 .1 .4 .9 .3-.6 .4-.5 .4 .6 .4-.2 .4 .3 .4-.1 .4 .2 .4-.4 .4 .4 .4 .3 .4 .1 .4-.9 .4-.2 .4 1.7 .3-.8 .4-.1 .4-.3 .4 .4 .4-.2 .4-.1 .4 .3 .4 .2 .4-.1 .4 .6 .4-.6 .4 .2 .4-.2 .4 0 .4 .2 .3 0 .4 .2 .4 .4 .4-.1 .4 .3 .4 1.1 .4-1.1 .4 0 .4 .2 .4-.5 .4 .2 .4 .1 .4 .2 .4 0 .3-.1 .4 .1 .4-.2 .4 .6 .4-.2 .4-.8 .4 .1 .4 .3 .4-.3 .4 .2 .4 .5 .4-.4 .4-.8 .4 .6 .4 .1 .3 .1 .4-1 .4 .3 .4 .2 .4 .6 .4 .1 .4 .2 .4-.2 .4-.1 .4 .7 .4-.3 .4 0 .4-.4 .4 .2 .4-.5 .3 .2 .4 0 .4 .2 .4 .3 .4 0 .4 0 .4-.7 .4-.1 .4 .1 .4 .2 .4-.3 .4 .4 .4-.6 .4 .7 .3 0 .4-.3 .4 .3 .4-.6 .4-.3 .4 0 .4 .7 .4-.4 .4-.1 .4-.5 .4-.2 .4 .1 .4-.3 .4 .5 .4-.1 .3-.3 .4 .1 .4 0 .4-.1 .4-.8 .4-.1 .4 .1 .4 .3 .4-.5 .4 0 .4-.5 .4-.8 .4 .1 .4-.3 .3-.1 .4-.4 .4-.4 .4-.5 .4-.7 .4-.3 .4-.5 .4-.2 .4-.1 .4-.1 .4-.9 .4-.5 .4-.3 .4-1.5 .4-.4 .3-.3 .4-.1 .4 .2 .4-.2 .4 0 .4 .2 .4-.2 .4-.5 .4-.3 .4 1.1 .4 .8 .4 .1 .4 .1 .4-.2 .3 0 .4 .2 .4-.3 .4 0 .4-.2 .4-.3 .4-.3 .4-1.3 .4-.7 .4-.6 .4-.8 .4-.7 .4-.1 .4-1.7 .4-.9 .3-.4 .4-1.4 .4-1.2 .4-.1 .4-.3 .4-.3 .4 1 .4-.9 .4 1.3 .4 1.3 .4 1.6 .4 1.2 .4 1.6 .4 .7 .4 1 .3 2.2 .4 .6 .4 .8 .4 1.1 .4 .9 .4 .6 .4 .7 .4 .2 .4 .5 .4 .2 .4 .4 .4 0 .4 .6 .4 1.6 .3 0 .4 .2 .4 .6 .4 .4 .4 .8 .4-.9 .4 .3 .4-.4 .4 .3 .4-.2 .4-.4 .4 .5 .4 .4 .4-.3 .4-.1 .3 .1 .4 .1 .4 .6 .4 0 .4 .1 .4 1 .4 .2 .4-.3 .4 .2 .4-.3 .4 0 .4-.4 .4-.5 .4 .3 .3-.1 .4 .8 .4 .2 .4-1.2 .4 .9 .4 .4 .4-.3 .4 .4 .4 .6 .4-.3 .4-.5 .4 0 .4 .2 .4 0 .4-.4 .3 .2 .4-.1 .4 .1 .4-.4 .4-.1 .4 .5 .4 .3 .4-.6 .4 .6 .4-.1 .4 .2 .4-.3 .4 .6 .4 0 .3 .3 .4-.6 .4-.1 .4-.2 .4-.5 .4 .4 .4-.6 .4 .3 .4 .4 .4 .5 .4-.3 .4-.3 .4 .4 .4-.2 .4 .1 .3-.4 .4 .8 .4 0 .4 .3 .4-.1 .4 0 .4-.4 .4 .2 .4-.6 .4 .2 .4-.1 .4-.1 .4 .2 .4-.1 .4 .3 .3-.7 .4 .2 .4-.1 .4 .3 .4 .8 .4-.4 .4-.8 .4 .2 .4-.1 .4 .1 .4 0 .4 .2 .4 .4 .4-.1 .3 0 .4-.5 .4 .7 .4-.3 .4 .1 .4 0 .4-.2 .4 .2 .4-.2 .4 .7 .4-.4 .4-.3 .4-.1 .4-.1 .4 .2 .3-.2 .4 .5 .4-.6 .4 .2 .4 .2 .4-.3 .4 0 .4 .1 .4-.1 .4-.4 .4 .4 .4-.3 .4 .1 .4 .5 .3 1 .4-.5 .4 .4 .4-.3 .4 0 .4 .2 .4-.4 .4-.2 .4 .2 .4 .1 .4-.2 .4-.1 .4 .3 .4-1 .4-.4 .3 .8 .4 .1 .4 .2 .4-.1 .4 .1 .4 0 .4 .1 .4 .3 .4-.2 .4 .5 .4-.4 .4-.3 .4 .7 .4-.4 .4-.2 .3 .5 .4-.5 .4 .1 .4 .2 .4-1 .4 0 .4 .6 .4 .4 .4-.7 .4 .2 .4 .6 .4-.3 .4 .1 .4-.4 .3 .2 .4-.2 .4 0 .4 .3 .4-.1 .4 0 .4-.2 .4-.5 .4 .3 .4-.3 .4 .6 .4-.2 .4 .3 .4-.4 .4 .2 .3 .2 .4-.1 .4-.5 .4-.6 .4 .3 .4 .1 .4 .1 .4 .2 .4 .2 .4 .4 .4 .6 .4-.2 .4 .4 .4-.6 .3 .4 .4-.5 .4-.1 .4 .3 .4-.7 .4 0 .4-.1 .4 0 .4-.3 .4 .6 .4-.2 .4 0 .4 .2 .4 0 .4 .1 .3-.1 .4 .1 .4 .2 .4-.5 .4-.1 .4 .7 .4-.8 .4-.2 .4 .4 .4 .2 .4 .2 .4-.6 .4 1.1 .4-.5 .3 0 .4-.2 .4-.2 .4-.2 .4 0 .4 .2 .4-.1 .4-.3 .4 0 .4 .2 .4 .1 .4 .2 .4 .3 .4 .4 .4-.2 .3-.4 .4 .3 .4-.7 .4 .3 .4 .7 .4 .1 .4-.1 .4-.5 .4-.3 .4 0 .4 0 .4 0 .4 .2 .4 .8 .4-.2 .3-.1 .4 .1 .4-.1 .4-.1 .4-.4 .4 .1 .4 .4 .4-.5 .4-.1 .4 .3 .4-.2 .4 .4 .4-.6 .4-.1 .3 0 .4 .9 .4-.3 .4 0 .4 .4 .4-.5 .4 .4 .4-.5 .4 0 .4-.3 .4 .3 .4 .5 .4-.3 .4-.4 .4 .3 .3-.1 .4 .5 .4-.1 .4 .1 .4-.6 .4 .2 .4 0 .4-.2 .4-.1 .4 .4 .4-.5 .4 .3 .4 .7 .4 0 .3-.7 .4 .5 .4-.7 .4 .1 .4 .3 .4 0 .4 0 .4-.9 .4 .7 .4-.2 .4 .3 .4 .2 .4-.1 .4 0 .4 .3 .3-.5 .4 .6 .4-.1 .4-.5 .4 .1 .4-.3 .4-.3 .4 .6 .4 .4 .4-.3 .4 0 .4-.6 .4 .2 .4-.7 .3 .8 .4 .6 .4-.2 .4-.6 .4 .1 .4-.3 .4 0 .4-.3 .4 .3 .4-.4 .4 .2 .4 .4 .4 0 .4-.4 .4 .2 .3-.1 .4-.1 .4-.1 .4 .2 .4-.2 .4 .1 .4-.5 .4 .3 .4-.7 .4 .3 .4 .2 .4-.9 .4 .5 .4-.8 .4 .2 .3 .4 .4 0 .4-.4 .4 .5 .4-.3 .4 0 .4-.4 .4 .3 .4-.1 .4 .9 .4-.1 .4-.3 .4 .3 .4 .6 .3-.2 .4-.3 .4 0 .4 .2 .4 .3 .4 .4 .4 .3 .4-1.1 .4 .3 .4-.1 .4-.2 .4 .2 .4 .3 .4 .3 .4-.4 .3-.6 .4 .4 .4 .7 .4 0 .4 .3 .4-.1 .4-.2 .4-.1 .4 0 .4 .3 .4-.2 .4 .4 .4-.3 .4-.2 .3 0 .4 .2 .4 .2 .4 .6 .4 .1 .4-.3 .4-.6 .4-.4 .4-.4 .4 .9 .4-.5 .4 .2 .4 .6 .4-.5 .4-.4 .3-.3 .4 .4 .4-.1 .4 .5 .4-.4 .4-.3 .4 .8 .4-.7 .4-.3 .4 1.2 .4-.6 .4 .5 .4 0 .4-.4 .3 .4 .4-.3 .4-.2 .4 .1 .4-.4 .4 .3 .4-.2 .4 .1 .4 .4 .4-.6 .4 .2 .4 .3 .4 .3 .4 .3 .4-.1 .3-.7 .4-.2 .4-.4 .4 .3 .4 .6 .4 0 .4 .1 .4-.3 .4 0 .4 .3 .4 .7 .4-.4 .4 0 .4 .1 .4-.3 .3 .2 .4-.3 .4-.2 .4 .3 .4-.3 .4 .2 .4 .2 .4 0 .4 .4 .4 0 .4-.7 .4-.2 .4 .3 .4-.2 .3 .6 .4-.5 .4-.8 .4 .8 .4 .3 .4-.2 .4 0 .4-.5 .4-.1 .4 .5 .4-.5 .4 .4 .4 .3 .4 0 .4 .1 .3 .5 .4-.3 .4-.5 .4-.4 .4 .3 .4 .6 .4-.5 .4-.9 .4 .4 .4-.4 .4 0 .4 .5 .4 .9 .4 .2 .3-.7 .4 .4 .4-.4 .4-.5 .4 .8 .4 .1 .4-.5 .4 .3 .4 .4 .4-.4 .4 .3 .4-.5 .4-.1 .4-.3 .4-.1 .3 .1 .4 .2 .4 .2 .4 .6 .4-.2 .4-.4 .4-.8 .4 .1 .4 .4 .4-.3 .4 .3 .4-.1 .4 0 .4 .6 .4 .3 .3-.2 .4-.6 .4-.3 .4-.1 .4 .1 .4 .2 .4 .4 .4-.1 .4 0 .4 0 .4-.3 .4 0 .4 .5 .4-.4 .3-.1 .4-.2 .4 .5 .4-.2 .4-.4 .4 .2 .4-.1 .4 .4 .4 0 .4-.4 .4 .2 .4 1 .4 0 .4-.5 .4 .2 .3-.3 .4-.3 .4 0 .4-.4 .4-.3 .4 .1 .4 .1 .4 .6 .4-.1 .4-.6 .4 .4 .4 .4 .4 0 .4 0 .3-.1 .4 .3 .4 .1 .4-.3 .4-.3 .4 .5 .4-.4 .4-.3 .4 .5 .4-.3 .4-.1 .4 .2 .4 .1 .4-.1 .4-.1 .3 .5 .4-.5 .4-.2 .4 .1 .4 .2 .4 .4 .4-.3 .4-.6 .4 .4 .4-.1 .4-.4 .4-.3 .4 0 .4 .4 .3 .1 .4 .1 .4-.2 .4-.4 .4 .4 .4-.1 .4-.4 .4 0 .4 .4 .4 .3 .4 .3 .4 0 .4-.6 .4 .2 .4-.7 .3-.1 .4-.3 .4 .7 .4 0 .4 .4 .4-.8 .4 .1 .4 .1 .4 .5 .4-.3 .4-.1 .4-.2 .4 .7 .4-.2 .4-.7 .3-.4 .4-.4 .4 .4 .4-.1 .4 .1 .4-.4 .4 .2 .4 0 .4 .5 .4-.8 .4 .5 .4-.4 .4 .1 .4 .1 .3-.1 .4 .5 .4 .3 .4-.4 .4-.3 .4-.5 .4 .4 .4 .1 .4 .1 .4 .4 .4-.7 .4 .3 .4-.3 .4-.6 .4 .1 .3 .5 .4 .4 .4-1 .4-.7 .4 .1 .4-.4 .4 .3 .4-.4 .4-.2 .4 .7 .4-.6 .4-.3 .4 0 .4 0 .3-.7 .4 .9 .4-1.3 .4-.7 .4 .4 .4-.6 .4-.2 .4-.7 .4-.2 .4-.3 .4-1 .4 .2 .4 .3 .4-.7 .4-.6 .3-.2 .4-.4 .4-.7 .4-.7 .4-.3 .4 .1 .4-1.1 .4-1.1 .4-.9 .4-1.1 .4-.9 .4-1.4 .4-1.4 .4-1.1 .3-2.3 .4-2 .4-1.1 .4-1.9 .4-2.6 .4-2.3 .4-2.3 .4-3 .4-2.5 .4-1.8 .4-2.9 .4-2.3 .4-1.9 .4-1.3 .4-1 .3 .1 .4 .1 .4 .5 .4 .8 .4 1.5 .4 1.5 .4 1.4 .4 1.8 .4 1.4 .4 .8 .4 .9 .4 .5 .4 .8 .4 .2 .4 .1 .3-.3 .4 0 .4-.9 .4-.1 .4-.3 .4 .4 .4-.5 .4 .4 .4 1.3 .4 .9 .4 2.3 .4 1.9 .4 2.3 .4 1.6 .3 1.6 .4 2.2 .4 2.3 .4 2.2 .4 1.7 .4 1.1 .4 1 .4 2.3 .4 .8 .4 .3 .4 1.1 .4 .5 .4 1.3 .4 .9 .4 .5 .3-.3 .4 .6 .4 .7 .4 1.3 .4 .5 .4 .7 .4 .9 .4 .2 .4-.2 .4 0 .4 .6 .4 .1 .4-.1 .4 .9 .3 .1 .4-.1 .4 .4 .4 .1 .4-.3 .4 .3 .4-.3 .4 .1 .4 .7 .4 .1 .4 .2 .4 .4 .4-.1 .4 .2 .4 .2 .3-.3 .4 .6 .4-.1 .4 0 .4 .2 .4-.1 .4-.2 .4 .5 .4 .1 .4 0 .4 .1 .4 .3 .4-.6 .4 .4 .3 0 .4-.2 .4 .1 .4-.5 .4 .3 .4 0 .4-.6 .4 .2 .4 .1 .4 .6 .4 .5 .4 .1 .4 .1 .4-.4 .4 .4 .3 .1 .4-.2 .4-.3 .4 .3 .4 .3 .4 .1 .4-.1 .4 .7 .4-.3 .4-1 .4 .5 .4-.1 .4-.2 .4-.1 .4 .9 .3 .4 .4-.4 .4-.1 .4 .2 .4 .3 .4-.3 .4 .4 .4-.6 .4 .5 .4-.4 .4-.4 .4 .2 .4 .3 .4 .2 .3-.1 .4 .3 .4-.5 .4-.7 .4 .4 .4 .4 .4-.6 .4 .4 .4 .7 .4-1 .4 .8 .4-.6 .4 .3 .4 .3 .4 .9 .3-.6 .4-.9 .4 0 .4-.2 .4-.4 .4 0 .4 .5 .4-.7 .4 .2 .4 .3 .4-.1 .4 .9 .4-.1 .4-.1 .3 .1 .4-.1 .4 .4 .4-.4 .4-.6 .4 1 .4 0 .4 .4 .4-.3 .4-.6 .4-.3 .4 .6 .4-.5 .4-.2 .4 .2 .3 .9 .4-.4 .4 .5 .4 .1 .4 0 .4-.4 .4 .1 .4-.1 .4 0 .4 .2 .4-.1 .4-1.2 .4 .3 .4 .4 .4 .2 .3-.5 .4-.3 .4-.1 .4 1.1 .4-.1 .4-.1 .4-.1 .4 0 .4 .2 .4-.5 .4 .3 .4-.3 .4 .4 .4 .4 .3 .5 .4-.3 .4 0 .4-.5 .4-.4 .4 .4 .4-.1 .4-.1 .4 .2 .4-.8 .4 .1 .4 .8 .4 0 .4 .5 .4-.3 .3-.1 .4-.2 .4 .7 .4-.4 .4-.2 .4 1 .4-1 .4 0 .4-.1 .4-.3 .4-.1 .4-.3 .4-.4 .4 .1 .3 .1 .4 .2 .4 .1 .4 .9 .4 .1 .4 .1 .4-.1 .4-.6 .4 .2 .4-.3 .4 .7 .4-.5 .4-.1 .4 .4 .4 .1 .3 .4 .4-.7 .4 .5 .4-.1 .4-.5 .4 .5 .4 .2 .4-.3 .4 .1 .4-.3 .4-.2 .4 .3 .4 .4 .4-.8 .3 .4 .4 .3 .4 .5 .4-.2 .4-.5 .4 0 .4-.2 .4-.1 .4 .3 .4 .1 .4-.5 .4 .6 .4-1 .4 .7 .4-.1 .3 .5 .4 .8 .4-.6 .4-.7 .4 .5 .4-.8 .4 0 .4 .1 .4 .3 .4 .1 .4 .4 .4-.4 .4 0 .4 0 .4-.8 .3 .5 .4 .6 .4-.1 .4-.3 .4-.1 .4-.2 .4-.1 .4-.3 .4 .5 .4 0 .4 .3 .4-.4 .4 .4 .4 .4 .3-.9 .4-.4 .4 .4 .4 .4 .4-1.1 .4 .8 .4 .1 .4 .1 .4 .3 .4-.2 .4-.3 .4-.4 .4-.3 .4 .2 .4 .7 .3 0 .4 .1 .4 0 .4 .2 .4-.6 .4 .7 .4-.4 .4 .2 .4-.3 .4 .1 .4-.1 .4-.2 .4-.1 .4-.2 .3 .5 .4-.4 .4 .8 .4-.3 .4-.2 .4 .2 .4-.2 .4-.3 .4 .4 .4-.1 .4-.5 .4 .3 .4 0 .4-.2 .4 .1 .3-.2 .4 .1 .4 .2 .4 .4 .4-.4 .4-.8 .4 .4 .4-.1 .4 .1 .4-.2 .4 .4 .4-.3 .4 .2 .4 1.1 .3-1.8 .4 .2 .4 .4 .4 .1 .4-.2 .4 .3 .4-.5 .4 .2 .4-1 .4-.1 .4 .8 .4 .9 .4-.2 .4-1.1 .4 .6 .3-.6 .4 .5 .4 0 .4 0 .4-.4 .4-.2 .4 .2 .4 .3 .4-.1 .4 0 .4 .2 .4 .2 .4-.8 .4 .4 .4-.3 .3-.2 .4 0 .4-.6 .4 .8 .4-.1 .4-.2 .4-.3 .4 0 .4-.5 .4 .1 .4-.3 .4 0 .4 .5 .4-.1 .3-.8 .4 .8 .4-.3 .4 0 .4-.4 .4-.4 .4 .3 .4-.3 .4 0 .4-.3 .4-.2 .4 0 .4-.6 .4-.1 .4 .3 .3-.5 .4 .1 .4-.1 .4-.6 .4-.7 .4-.2 .4 0 .4-.5 .4 .1 .4-.7 .4-.1 .4 .3 .4-1.1 .4-.8 .3-.8 .4 .3 .4-1.2 .4-.6 .4-.9 .4 .1 .4-.7 .4 .3 .4-.5 .4-.5 .4-.8 .4-.6 .4-.1 .4-1.2 .4-.6 .3 .6 .4-.2 .4-.1 .4-.5 .4-.6 .4 0 .4 .1 .4 0 .4 .2 .4-.2 .4 .8 .4 .2 .4 .3 .4 .3 .3-.1 .4-.3 .4 .2 .4-.4 .4-.1 .4-.8 .4-.2 .4-.8 .4 .3 .4-.1 .4-1 .4-.6 .4-1.4 .4-1 .4-1 .3-1 .4-.3 .4-1.4 .4-1.8 .4-.9 .4-1.3 .4-.7 .4-1.2 .4-.4 .4-1.4 .4-.8 .4-.1 .4 .5 .4 1 .4 1 .3 1.3 .4 1.5 .4 .7 .4 1 .4 2.1 .4 1.6 .4 1.5 .4 1.5 .4 1.8 .4 1.2 .4 1.3 .4 1.2 .4 1 .4 1.7 .3 .6 .4 .4 .4 .7 .4 .2 .4 .9 .4 .2 .4 .7 .4 .6 .4 .7 .4 .4 .4 .3 .4-.1 .4 .6 .4 .2 .4 .8 .3-.2 .4-.3 .4 0 .4 .4 .4 .8 .4 .4 .4 .3 .4 .1 .4-.6 .4 .2 .4 .5 .4 .1 .4 .1 .4-.2 .3 .3 .4-.2 .4 .1 .4 .3 .4-.2 .4 .3 .4 .1 .4 .5 .4-.1 .4 .1 .4 .7 .4 .1 .4 .1 .4 .2 .4-.2 .3-.4 .4 0 .4 .6 .4 .2 .4-.4 .4 0 .4 .3 .4-.3 .4-.2 .4 .3 .4-.2 .4-.1 .4 .4 .4-.5 .4 .1 .3 .2 .4 .4 .4 .4 .4-.8 .4 .2 .4 .5 .4-.2 .4-.2 .4 .2 .4-.2 .4 0 .4-.4 .4 .6 .4-.3 .3 0 .4-.2 .4 .2 .4 .1 .4 .2 .4 0 .4 0 .4-.6 .4-.3 .4 .7 .4-.3 .4 .8 .4-.9 .4-.4 .4 .4 .3-.7 .4 .1 .4-.2 .4 .3 .4-.1 .4-.6 .4-.1 .4-.4 .4-.4 .4 0 .4 .1 .4-.9 .4 0 .4 0 .3-.5 .4 0 .4-.2 .4 0 .4-.1 .4-.1 .4-.5 .4-.2 .4-.3 .4-.4 .4 .4 .4 .4 .4-.5 .4-.2 .4 .8 .3-.4 .4-.5 .4 .3 .4 .1 .4 .5 .4-.2 .4 0 .4 .5 .4 0 .4 .3 .4-.4 .4 .5 .4 0 .4 1 .3 .2 .4 .4 .4 .4 .4-.3 .4 .3 .4-.1 .4 0 .4-.4 .4 .8 .4 .2 .4 .3 .4 .2 .4 .3 .4 .7 .4-.6 .3-.2 .4 .6 .4 .2 .4 .2 .4-.3 .4 .5 .4 .2 .4-.3 .4 .3 .4 .3 .4-.1 .4 .5 .4-.5 .4 .1 .4 .4 .3 .4 .4-.5 .4 .3 .4 .3 .4 .1 .4 0 .4-.3 .4 .1 .4 .4 .4-.3 .4 .2 .4-.8 .4-.2 .4 .1 .3 .2 .4 .3 .4 .3 .4-.2 .4 0 .4-.1 .4-.3 .4-.1 .4 .4 .4 .3 .4-.2 .4 .1 .4-.1 .4-.2 .4 .5 .3 .4 .4 .2 .4-.4 .4 .2 .4 0 .4-.3 .4 .1 .4 .1 .4-.1 .4 .2 .4 0 .4-.1 .4-.1 .4 0 .3 .5 .4-.6 .4 .7 .4-.4 .4-.7 .4 0 .4-.1 .4 0 .4 .4 .4-.7 .4 .7 .4 .4 .4-.2 .4-.1 .4-.1 .3 .4 .4-.5 .4-.3 .4 .2 .4-.3 .4 .7 .4-.2 .4 .5 .4 .1 .4 0 .4-.8 .4-.3 .4-.1 .4 1.2 .3-.5 .4 0 .4 .4 .4-.4 .4 .5 .4-.2 .4 .4 .4-.4 .4-.1 .4 .3 .4-.3 .4 0 .4 .2 .4-.8 .4 .4 .3-.1 .4 0 .4 .2 .4-.1 .4-.1 .4-.4 .4-.2 .4 .9 .4 .4 .4-.4 .4 .3 .4 0 .4-.1 .4 0 .4 .3 .3-.8 .4 .1 .4-.3 .4 .3 .4 .3 .4 0 .4 .2 .4-.1 .4-.3 .4 .3 .4-.1 .4 0 .4-.2 .4 .7 .3 0 .4-.1 .4-.1 .4 0 .4-.3 .4-1 .4-.2 .4 .7 .4 .6 .4-.4 .4 .2 .4 0 .4 .2 .4 0 .4 .2 .3 .1 .4 .2 .4-.7 .4-.3 .4 .5 .4-.1 .4 .5 .4 0 .4 .2 .4-.6 .4-.7 .4 .1 .4 .1 .4 .3 .3 .3 .4-.1 .4-.1 .4 .1 .4-.2 .4 .5 .4 .6 .4-.5 .4 .6 .4-.4 .4-.1 .4-.1 .4-.2 .4-1.6 .4 .8 .3 1.2 .4 .3 .4-.2 .4-.1 .4-.4 .4-.4 .4-.5 .4 .6 .4-.1 .4 .2 .4-.2 .4 .1 .4 .1 .4 .3 .4 0 .3-.2 .4 .2 .4-.7 .4 .5 .4 .1 .4-.5 .4 .2 .4-.3 .4 .3 .4-.1 .4 0 .4 .1 .4-1 .4 .9 .3 .6 .4 .1 .4-.1 .4-.5 .4 .7 .4-.2 .4 .2 .4-.8 .4 .2 .4-.3 .4 .1 .4-.4 .4 .6 .4-.5 .4 .8 .3-.6 .4 .7 .4-.2 .4-.3 .4 .3 .4 0 .4 0 .4-.1 .4 .1 .4-.1 .4-.9 .4 .4 .4-.2 .4 .1 .3 .7 .4-.5 .4 0 .4-.1 .4 .6 .4 0 .4-.3 .4-.6 .4 .2 .4 .9 .4-.3 .4 .1 .4-.9 .4 .5 .4-.3 .3 .4 .4-.4 .4 .1 .4 .9 .4 .1 .4-.5 .4-.4 .4 .1 .4 .8 .4-.7 .4 .5 .4-.6 .4-.1 .4 .3 .3-.5 .4 .2 .4-.1 .4 .3 .4-.5 .4-.1 .4 .3 .4 0 .4 .2 .4-.4 .4 .2 .4 .3 .4 .2 .4 .1 .4 .2 .3 0 .4-.1 .4 .1 .4-.4 .4 .1 .4-.5 .4 .7 .4 .4 .4-.7 .4 0 .4 .2 .4 .1 .4 0 .4-.2 .4 .5 .3-.7 .4 .3 .4 .1 .4 0 .4-.2 .4 .4 .4-.1 .4 .5 .4-.5 .4-.3 .4-.4 .4 .7 .4 .1 .4-.5 .3 .1 .4 .1 .4 .3 .4-.5 .4 .5 .4-.2 .4-.3 .4 .5 .4-.1 .4-.4 .4-.2 .4 0 .4 .1 .4 0 .4 .1 .3-.4 .4 .7 .4-.6 .4 .2 .4 .3 .4-.4 .4 .8 .4-.8 .4 .4 .4-.5 .4-.6 .4 .6 .4 .4 .4-.1 .3 .1 .4-.1 .4 .2 .4-.3 .4 .3 .4 .2 .4-.9 .4-.2 .4 .1 .4-.2 .4 0 .4 .3 .4 1 .4 .1 .4-.2 .3 .5 .4-.6 .4 .1 .4-.2 .4-.3 .4 .3 .4-.4 .4 .7 .4-.4 .4-.3 .4 .6 .4 .1 .4-.3 .4-.2 .3-.4 .4 .1 .4 .6 .4 0 .4 .2 .4-.6 .4 .5 .4-.1 .4 .2 .4 .3 .4-.6 .4-.5 .4-.3 .4-.3 .4 .5 .3 0 .4 .8 .4 .1 .4 0 .4 .4 .4-.2 .4-.5 .4 .3 .4 .1 .4-.3 .4-.6 .4-.3 .4 .3 .4 .2 .4 .5 .3 0 .4 .2 .4 0 .4-.3 .4-.9 .4 .9 .4 .3 .4-.9 .4 .1 .4 .1 .4 0 .4-.1 .4 .2 .4-.6 .3 .2 .4 0 .4 .1 .4 .7 .4-.6 .4 .1 .4 .2 .4 .3 .4 .1 .4-.5 .4 .2 .4-.5 .4 .6 .4-.8 .4 .7 .3 0 .4-.1 .4 0 .4-.1 .4-.2 .4 .5 .4-.1 .4-.3 .4-.2 .4 0 .4 .5 .4-.2 .4 0 .4 .1 .3 .4 .4 0 .4-.7 .4 .3 .4-.1 .4-.5 .4 .5 .4-.7 .4 .8 .4-.4 .4 .5 .4-.2 .4-.1 .4-.6 .4 .4 .3 0 .4 .6 .4-.6 .4 0 .4-.2 .4 .5 .4-.3 .4-.1 .4 .1 .4-.4 .4 .3 .4 .2 .4 .6 .4 .1 .3-.5 .4 .1 .4-.4 .4-.4 .4-.3 .4 1.1 .4-.2 .4-.2 .4 .3 .4 .1 .4-.1 .4-.4 .4 .1 .4 .3 .4-.7 .3 .7 .4-.3 .4 .6 .4-.3 .4 .7 .4-.5 .4-.3 .4 .4 .4 0 .4-.2 .4 .2 .4-.4 .4 0 .4-.1 .4-.1 .3 .8 .4-.5 .4 .1 .4-.3 .4 .4 .4-.7 .4-.5 .4 .5 .4 0 .4 .2 .4 .2 .4-.3 .4 0 .4-.2 .3 0 .4 .1 .4 .3 .4-.5 .4-.2 .4 .5 .4-.1 .4-.6 .4 1 .4-.1 .4-.3 .4-.4 .4 .1 .4-.2 .4-.2 .3 .4 .4-.5 .4-.8 .4 .7 .4-.1 .4-.5 .4 .3 .4-.2 .4-.6 .4-.4 .4 .3 .4-.1 .4-.6 .4 .3 .3-.1 .4 0 .4-.1 .4 0 .4-.1 .4-.5 .4-.4 .4 .7 .4-.1 .4 .1 .4-.7 .4-.8 .4 .6 .4 .1 .4-.4 .3-.3 .4 0 .4 .1 .4-.4 .4 0 .4 .7 .4-.2 .4-.1 .4-.1 .4 0 .4 .2 .4 .5 .4 .1 .4 .1 .4 .5 .3 .2 .4 .2 .4-.3 .4-.6 .4 .7 .4 0 .4 .5 .4 .1 .4 .3 .4 .9 .4-.5 .4 .4 .4-.7 .4 .4 .3 .3 .4-.1 .4-.1 .4 .7 .4-.3 .4 .3 .4-.4 .4 .7 .4-.1 .4 0 .4 1.2 .4-1 .4-.5 .4 0 .4-.2 .3 1 .4 .3 .4 .2 .4-.4 .4 .3 .4 .3 .4-.3 .4 .1 .4-.5 .4-.1 .4 0 .4-.1 .4 .4 .4-.1 .3 .4 .4-.9 .4 .1 .4-.1 .4 .2 .4 .4 .4 .2 .4-.6 .4 .6 .4 0 .4-.2 .4 .6 .4 .2 .4-.5 .4-.2 .3 0 .4 .6 .4-.3 .4 .3 .4-.5 .4 .5 .4-.9 .4-.4 .4 .6 .4 .1 .4-.3 .4 1 .4-.5 .4 .3 .3-.1 .4-.2 .4 1 .4-1.1 .4 .6 .4-.7 .4-.3 .4 0 .4 .2 .4-.4 .4 .5 .4 .2 .4-.3 .4 1 .4-.3 .3-.5 .4 .4 .4-.4 .4 .6 .4 .3 .4-.5 .4-.1 .4-.3 .4 .4 .4-.7 .4 .4 .4 .6 .4-.5 .4-.3 .4 1.1 .3-1.1 .4 .2 .4 .4 .4-.6 .4-.4 .4 .1 .4 .5 .4 .2 .4 .1 .4-.1 .4 .1 .4 .3 .4 .2 .4 0 .3-.2 .4 .1 .4 .1 .4-.1 .4-.5 .4 .4 .4-.9 .4-.1 .4 .6 .4-.6 .4 .4 .4-.3 .4-.4 .4 .4 .4 .7 .3 .3 .4-.1 .4-.6 .4 .5 .4 .3 .4 .6 .4-.9 .4-.3 .4 .2 .4-.4 .4 0 .4 .3 .4 0 .4 1.1 .3-.4 .4-.4 .4 .5 .4-.2 .4-.2 .4-.6 .4-.3 .4-.5 .4 0 .4 .9 .4 .2 .4-.8 .4-.2 .4 .4 .4 .3 .3 .1 .4 .1 .4-.2 .4-.2 .4 .1 .4 .1 .4-.6 .4 .5 .4 .1 .4-.1 .4-.3 .4 .2 .4 0 .4-.2 .3 .2 .4 .3 .4-.1 .4 0 .4 .1 .4-.3 .4 .8 .4-.7 .4 0 .4-.3 .4 .3 .4-.2 .4 .5 .4-.6 .4-.4 .3 .4 .4 .4 .4 .9 .4-.5 .4 .3 .4-.7 .4-.4 .4-.1 .4 1 .4-.7 .4 .4 .4 .1 .4-.8 .4 .1 .4-.3 .3 .7 .4 0 .4-.2 .4-.6 .4 1.1 .4 .1 .4-.3 .4-.5 .4 .5 .4-.1 .4 0 .4 0 .4 .6 .4 .5 .3-.8 .4-.3 .4 .6 .4-.8 .4 .2 .4-.2 .4 1 .4-.2 .4-.7 .4-.1 .4-.3 .4-.2 .4 .1 .4 .4 .4 .4 .3-.4 .4 .5 .4-.8 .4 .2 .4-.2 .4 .9 .4-.1 .4 .7 .4-1 .4 .2 .4 .3 .4-.3 .4-.6 .4 .2"/>
</g>
<g id="red-box" fill="#ff0000" shape-rendering="crispEdges">
<rect x="117.2" y="626" width="44.0" height="9"/>
<rect x="198.8" y="626" width="44.0" height="9"/>
<rect x="280.4" y="626" width="44.0" height="9"/>
<rect x="362.0" y="626" width="44.0" height="9"/>
<rect x="443.6" y="626" width="44.0" height="9"/>
<rect x="117.2" y="1036" width="44.0" height="10"/>
<rect x="198.8" y="1036" width="44.0" height="10"/>
<rect x="280.4" y="1036" width="44.0" height="10"/>
<rect x="362.0" y="1036" width="44.0" height="10"/>
<rect x="443.6" y="1036" width="44.0" height="10"/>
<rect x="110" y="627.0" width="10" height="43.7"/>
<rect x="110" y="707.9" width="10" height="44.0"/>
<rect x="110" y="789.5" width="10" height="44.0"/>
<rect x="110" y="871.1" width="10" height="44.0"/>
<rect x="110" y="952.7" width="10" height="44.0"/>
<rect x="110" y="1035" width="10" height="9"/>
<rect x="499.4" y="635.8" width="9.6" height="44.0"/>
<rect x="499.4" y="717.4" width="9.6" height="44.0"/>
<rect x="499.4" y="799.0" width="9.6" height="44.0"/>
<rect x="499.4" y="880.6" width="9.6" height="44.0"/>
<rect x="499.4" y="962.2" width="9.6" height="44.0"/>
<rect x="499.4" y="1042.7" width="9.6" height="10.3"/>
</g>
<g id="inset-frame" fill="#000" shape-rendering="crispEdges">
<rect x="492" y="20" width="13" height="387"/>
<rect x="492" y="394" width="1077" height="12"/>
<rect x="671" y="405" width="13" height="6"/>
<rect x="970" y="405" width="12" height="6"/>
<rect x="1268" y="405" width="12" height="6"/>
</g>
<g id="inset-curves" clip-path="url(#ci)" fill="none" shape-rendering="crispEdges" stroke-width="9.2" stroke-linejoin="round" stroke-linecap="butt">
<path stroke="#1a6adc" d="M495.8 222.9l1.2-.6 1.2 .1 1.2-.2 1.2-.2 1.2-.1 1.2 0 1.2 .1 1.1 .1 1.2 .2 1.2-.1 1.2 .1 1.2-.1 1.2-.2 1.2-.2 1.2-.4 1.2-.3 1.2 .1 1.2 0 1.2 .1 1.2-.1 1.2-.4 1.2-.2 1.2-.3 1.2 .3 1.2-.3 1.2-.2 1.1-.5 1.2-.5 1.2-.3 1.2-.3 1.2-.2 1.2-1 1.2-.4 1.2-1.1 1.2-1.1 1.2-1.3 1.2-1.9 1.2-2.6 1.2-3.9 1.2-6.4 1.2-9.8 1.2-13.5 1.2-18.2 1.2-22.2 1.2-24.2 1.2-20.7 1.1-8.2 1.2 11.4 1.2 26.5 1.2 28.1 1.2 23.7 1.2 16.9 1.2 10.6 1.2 7 1.2 4.3 1.2 2.6 1.2 1.3 1.2 1.5 1.2 .8 1.2 .2 1.2 .8 1.2 .1 1.2 .4 1.2 1 1.2 .8 1.1 .1 1.2 0 1.2 .3 1.2-.2 1.2-.4 1.2-.7 1.2 .5 1.2-.7 1.2-.5 1.2 .1 1.2 .1 1.2-.5 1.2 0 1.2-.6 1.2-.7 1.2-1 1.2-1.7 1.2-2.1 1.2-2.7 1.1-5.6 1.2-7.5 1.2-10.3 1.2-13.5 1.2-15.5 1.2-15.5 1.2-9.8 1.2 .7 1.2 13.5 1.2 18.5 1.2 16.6 1.2 12.5 1.2 9 1.2 4.7 1.2 1 1.2-.8 1.2-3.3 1.2-5 1.2-6 1.1-3.9 1.2 .8 1.2 6.6 1.2 8.4 1.2 6.4 1.2 3.9 1.2 2.1 1.2 1.5 1.2 1.2 1.2 .7 1.2 .1 1.2 .5 1.2 .2 1.2-.1 1.2 .3 1.2 .1 1.2-.2 1.2 .1 1.2 .2 1.2 .5 1.1-.4 1.2 .2 1.2 0 1.2 .1 1.2-.3 1.2 .5 1.2 .3 1.2 .2 1.2-.2 1.2 .1 1.2-.2 1.2 0 1.2-.4 1.2-.2 1.2-.4 1.2-.6 1.2-.3 1.2-.5 1.2-.4 1.1 .1 1.2 .2 1.2 1 1.2 .8 1.2 .3 1.2 .3 1.2-.2 1.2 .2 1.2-.3 1.2 .1 1.2 0 1.2 .1 1.2 .4 1.2-.3 1.2 .7 1.2-.3 1.2 .1 1.2-.5 1.2 .4 1.1-.4 1.2 .2 1.2 0 1.2 .3 1.2 0 1.2 0 1.2-.1 1.2 .4 1.2-.3 1.2-.1 1.2-.1 1.2 0 1.2-.2 1.2 0 1.2 .3 1.2-.2 1.2 .2 1.2-.2 1.2 .5 1.1-.2 1.2 .4 1.2-.2 1.2-.2 1.2 .2 1.2 .1 1.2 .2 1.2 0 1.2-.1 1.2-.5 1.2 .2 1.2-.1 1.2 0 1.2 .3 1.2-.4 1.2 .3 1.2 .5 1.2-.3 1.2-.3 1.2 .2 1.1-.1 1.2 .1 1.2 .1 1.2-.6 1.2 .1 1.2-.4 1.2 0 1.2 .4 1.2-.3 1.2 0 1.2 0 1.2 .2 1.2 .1 1.2 .1 1.2-.2 1.2-.1 1.2 .2 1.2-.2 1.2-.1 1.1 .3 1.2-.2 1.2-.1 1.2 .4 1.2-.1 1.2-.6 1.2 .1 1.2 .7 1.2 .6 1.2-.5 1.2 0 1.2 0 1.2-.1 1.2-.6 1.2 .4 1.2 0 1.2-.2 1.2-.5 1.2 0 1.1 0 1.2-.2 1.2-.2 1.2-.5 1.2-.1 1.2-.4 1.2-.7 1.2-.1 1.2 .5 1.2 .3 1.2 .9 1.2 .1 1.2 .4 1.2 .4 1.2-.3 1.2 .5 1.2-.1 1.2-.1 1.2-.1 1.1-.3 1.2 0 1.2 .7 1.2-.1 1.2-.1 1.2 .1 1.2 .2 1.2-.3 1.2 0 1.2 .1 1.2 .3 1.2-.1 1.2 .3 1.2-.3 1.2-.2 1.2-.3 1.2 .1 1.2 .3 1.2-.1 1.2-.1 1.1-.2 1.2 0 1.2 0 1.2 .1 1.2 .3 1.2 .1 1.2 .1 1.2 .1 1.2-.4 1.2 .3 1.2-.2 1.2-.5 1.2 0 1.2 .1 1.2-.4 1.2 .8 1.2-.2 1.2 .1 1.2-.5 1.1 0 1.2 0 1.2-.3 1.2 0 1.2-.2 1.2-.1 1.2-.9 1.2-.4 1.2-1.2 1.2-1.7 1.2-2.3 1.2-1.9 1.2-2.1 1.2-.6 1.2-.5 1.2 1.7 1.2 2.3 1.2 2 1.2 1.8 1.1 1.5 1.2 .6 1.2 1.2 1.2 .2 1.2 0 1.2 .3 1.2-.6 1.2 .1 1.2 .1 1.2 0 1.2 .5 1.2 .4 1.2-.1 1.2-.3 1.2 .1 1.2-.3 1.2 0 1.2-.1 1.2-.3 1.1-.3 1.2-.3 1.2-.5 1.2-.6 1.2-1.6 1.2-1.9 1.2-2.5 1.2-3.2 1.2-4.6 1.2-4.1 1.2-3.6 1.2-2 1.2 1.8 1.2 3.2 1.2 4.8 1.2 4 1.2 4 1.2 2.7 1.2 1.8 1.1 .9 1.2 .5 1.2 .8 1.2 .2 1.2 .5 1.2-.3 1.2 .4 1.2 .3 1.2-.5 1.2 0 1.2 .1 1.2 .1 1.2-.2 1.2 .3 1.2-.1 1.2 .1 1.2-.4 1.2 0 1.2 .3 1.2-.4 1.1 .1 1.2 .3 1.2-.1 1.2-.8 1.2 .2 1.2-.9 1.2-.6 1.2-1.2 1.2-2 1.2-2.5 1.2-4.2 1.2-3.9 1.2-4.5 1.2-4.6 1.2-2.8 1.2 .2 1.2 2.8 1.2 3.8 1.2 4.5 1.1 3.7 1.2 2.3 1.2 1.4 1.2-.2 1.2-.2 1.2 .4 1.2 .3 1.2 1.6 1.2 1.8 1.2 1.1 1.2 1.1 1.2 1.1 1.2 .9 1.2 .7 1.2 .2 1.2 .2 1.2-.2 1.2 .3 1.2-.1 1.1 .3 1.2 .1 1.2-.6 1.2 .1 1.2-.4 1.2 .2 1.2-.7 1.2-.1 1.2-.6 1.2-.9 1.2-1.9 1.2-2.3 1.2-2.3 1.2-3.1 1.2-2.1 1.2-1 1.2 .8 1.2 1.7 1.2 2.3 1.1 2.3 1.2 2.7 1.2 1.3 1.2 1.1 1.2 .4 1.2-.1 1.2-.1 1.2-1.7 1.2-1.4 1.2-2.3 1.2-2.9 1.2-3.4 1.2-3.1 1.2-1.8 1.2 .6 1.2 1.9 1.2 3.1 1.2 3.3 1.2 3.2 1.2 2.6 1.1 1.7 1.2 1.1 1.2 1 1.2 .2 1.2 .5 1.2 .7 1.2-.1 1.2-.1 1.2-.2 1.2 .3 1.2 .4 1.2-.1 1.2-.1 1.2 .4 1.2-.2 1.2 0 1.2-.4 1.2 .1 1.2-.4 1.1-.7 1.2-.8 1.2 0 1.2-1.3 1.2-.9 1.2-1 1.2 .4 1.2 .3 1.2 .5 1.2 .4 1.2 .9 1.2 .6 1.2 .5 1.2 .7 1.2 .6 1.2 .3 1.2 .1 1.2 .5 1.2 .1 1.1-.1 1.2 .2 1.2 .1 1.2 .2 1.2 0 1.2 .1 1.2-.3 1.2 .3 1.2 0 1.2-.3 1.2 .2 1.2-.1 1.2-.4 1.2-.1 1.2-.3 1.2 .3 1.2-.6 1.2 .2 1.2-.6 1.1-.3 1.2 0 1.2-.3 1.2-.7 1.2 .1 1.2-.2 1.2 .7 1.2 .1 1.2 .4 1.2 .3 1.2-.1 1.2 .5 1.2 .6 1.2-.4 1.2-.2 1.2 0 1.2-.1 1.2-.8 1.2-.7 1.1-.9 1.2-.9 1.2-1.4 1.2-.1 1.2 .1 1.2-.4 1.2 .5 1.2 .6 1.2 0 1.2-.5 1.2-.7 1.2-1.3 1.2-1 1.2-.1 1.2 .5 1.2 1.4 1.2 1.8 1.2 1.5 1.2 1 1.2 1.3 1.1 .2 1.2 .5 1.2 .5 1.2-.1 1.2 .1 1.2-.2 1.2-.1 1.2 .2 1.2 .1 1.2 .1 1.2 .1 1.2 0 1.2-.1 1.2-.2 1.2 .1 1.2 0 1.2 .1 1.2-.3 1.2 .5 1.1 .2 1.2-.2 1.2-.2 1.2 .3 1.2-.2 1.2-.1 1.2 .2 1.2-.2 1.2 0 1.2-.1 1.2 .2 1.2 .1 1.2 .1 1.2 0 1.2-.1 1.2 0 1.2 .1 1.2-.4 1.2-.2 1.1 .2 1.2 .1 1.2-.1 1.2 .4 1.2 0 1.2 .1 1.2-.2 1.2-.5 1.2-.2 1.2 .5 1.2-.1 1.2-.1 1.2 .3 1.2 .2 1.2-.2 1.2 0 1.2-.4 1.2-.5 1.2-.6 1.1 .1 1.2-1 1.2-.7 1.2-1 1.2-1 1.2-1.8 1.2-.8 1.2-.5 1.2 .9 1.2 .9 1.2 1.1 1.2 1.7 1.2 .9 1.2 1 1.2 .5 1.2 .2 1.2 .4 1.2-.1 1.2-.2 1.2 .1 1.1 .4 1.2 0 1.2 .3 1.2 .1 1.2 0 1.2 .1 1.2 0 1.2-.1 1.2-.1 1.2-.1 1.2 0 1.2 .3 1.2 .2 1.2 0 1.2-.2 1.2-.1 1.2-.1 1.2-.2 1.2 .1 1.1-.1 1.2 0 1.2-.5 1.2 .3 1.2 .3 1.2-.3 1.2 .5 1.2-.1 1.2-.3 1.2 .3 1.2-.4 1.2 .6 1.2-.5 1.2 0 1.2 .1 1.2-.3 1.2-.5 1.2-.7 1.2-.7 1.1-.8 1.2-1 1.2-2 1.2-1.1 1.2-1.6 1.2-.8 1.2 .1 1.2 .8 1.2 1.5 1.2 1 1.2 1.6 1.2 1 1.2 .9 1.2 .7 1.2 .1 1.2 .5 1.2 .7 1.2-.3 1.2-.3 1.1 .4 1.2 .1 1.2-1 1.2-.4 1.2-.6 1.2-.7 1.2-1.2 1.2-1.9 1.2-2.1 1.2-2 1.2-2.5 1.2-1.3 1.2 .2 1.2 1.7 1.2 2.2 1.2 2.2 1.2 1.8 1.2 1.8 1.2 1.6 1.2 .9 1.1 .8 1.2 0 1.2 .5 1.2 0 1.2-.1 1.2 0 1.2 .5 1.2 .2 1.2-.1 1.2-.1 1.2 .3 1.2-.2 1.2 .3 1.2 0 1.2-.3 1.2 0 1.2-.2 1.2-.1 1.2 .1 1.1 0 1.2 .1 1.2-.1 1.2 0 1.2 .2 1.2-.3 1.2-.5 1.2 .8 1.2-.1 1.2-.1 1.2 .1 1.2-.1 1.2-.1 1.2-.3 1.2-.3 1.2-.3 1.2-.4 1.2-.1 1.2-.8 1.1 1 1.2 .3 1.2 0 1.2 .6 1.2-.1 1.2 .2 1.2-.1 1.2-.2 1.2 .5 1.2-.1 1.2-.6 1.2 .2 1.2-.1 1.2-.5 1.2-.4 1.2-.4 1.2-.6 1.2-.8 1.2-.7 1.1-.2 1.2-.5 1.2-.1 1.2 .4 1.2 1.4 1.2 .1 1.2 .6 1.2 .1 1.2 .6 1.2 .5 1.2 .3 1.2 .4 1.2 .4 1.2-.1 1.2-.3 1.2 0 1.2 0 1.2-.1 1.2 0 1.2 .2 1.1 0 1.2 .3 1.2-.7 1.2 0 1.2 .2 1.2-.5 1.2-.5 1.2 .6 1.2 0 1.2-.3 1.2-.1 1.2-.8 1.2-.6 1.2 .1 1.2-.6 1.2-1.1 1.2-.7 1.2-.7 1.2-2.2 1.1-3.3 1.2-5.4 1.2-7.8 1.2-12.2 1.2-16.6 1.2-19.2 1.2-17.1 1.2-7.7 1.2 6.4 1.2 16 1.2 16.9 1.2 13.2 1.2 6.4 1.2 0 1.2-5.4 1.2-9.5 1.2-9.1 1.2-4.1 1.2 5.6 1.1 11.3 1.2 12.9 1.2 10.8 1.2 8 1.2 5.3 1.2 3.5 1.2 2.3 1.2 .7 1.2 .6 1.2 .3 1.2 .1 1.2 .2 1.2-.5 1.2-1.1 1.2-1.3 1.2-2.5 1.2-3.7 1.2-4.9 1.2-5.7 1.1-4.4 1.2-2.4 1.2 1.5 1.2 3.8 1.2 4.2 1.2 2.5 1.2 .4 1.2-3 1.2-5.1 1.2-7.2 1.2-7.6 1.2-5.6 1.2 .7 1.2 5.6 1.2 8.4 1.2 9 1.2 6.9 1.2 5.4 1.2 3 1.1 2.5 1.2 1.4 1.2 .8 1.2 .2 1.2 .4 1.2 .1 1.2 .3 1.2-.5 1.2-.9 1.2-.5 1.2-1.9 1.2-2.4 1.2-3.2 1.2-4.2 1.2-5.3 1.2-5 1.2-3.3 1.2 0 1.2 3.2 1.2 5.1 1.1 5 1.2 4.8 1.2 3.9 1.2 2.5 1.2 1.6 1.2 1.3 1.2 .4 1.2 .4 1.2 .9 1.2 .2 1.2 .1 1.2-.2 1.2-.3 1.2-.3 1.2 0 1.2 .2 1.2-.4 1.2-.1 1.2-.3 1.1 .2 1.2 .4 1.2 1 1.2 0 1.2-.2 1.2 .5 1.2 0 1.2 .2 1.2-.2"/>
<path stroke="#00c5c5" d="M495.8 383l1.2-.6 1.2 .9 1.2 1 1.2-.4 1.2 .1 1.2 0 1.2-.1 1.1-.1 1.2 .1 1.2-.5 1.2-.8 1.2-.4 1.2 .7 1.2 .2 1.2-.1 1.2-.9 1.2 .4 1.2 .2 1.2-.3 1.2 0 1.2 1 1.2 .3 1.2-.2 1.2-.2 1.2-.4 1.2-.2 1.1 .3 1.2-.5 1.2 0 1.2 .7 1.2-.8 1.2-.3 1.2 .8 1.2-.1 1.2-.2 1.2-.5 1.2-.6 1.2 .7 1.2-1.2 1.2 .5 1.2-.2 1.2 0 1.2-.9 1.2 .5 1.2 0 1.2-.4 1.1-.4 1.2-1.3 1.2-.5 1.2-.9 1.2-1.8 1.2-4 1.2-4.2 1.2-7.2 1.2-11.7 1.2-14.8 1.2-16 1.2-12.4 1.2 1.2 1.2 15.5 1.2 19.3 1.2 15.7 1.2 9.6 1.2 5.2 1.2 3.6 1.1 1.9 1.2 1.3 1.2 .3 1.2 .5 1.2 .7 1.2 .1 1.2 .2 1.2 .3 1.2-.2 1.2 .3 1.2-.5 1.2 .5 1.2 1 1.2-.3 1.2-.6 1.2-.8 1.2-.4 1.2 .1 1.2-.3 1.1 .2 1.2-.2 1.2-.1 1.2-.7 1.2-.3 1.2-.4 1.2-1.7 1.2-1.4 1.2-2 1.2-2.9 1.2-3.7 1.2-6 1.2-8.1 1.2-10.2 1.2-12 1.2-12.8 1.2-12.8 1.2-11.5 1.2-7.1 1.1 .4 1.2 8.9 1.2 15.2 1.2 15.7 1.2 14.8 1.2 11.3 1.2 8 1.2 4.2 1.2 2 1.2-1.5 1.2-4.1 1.2-5 1.2-3.4 1.2 .8 1.2 7.4 1.2 7.7 1.2 5 1.2 3.3 1.2 2.8 1.2 .9 1.1 .4 1.2 .1 1.2 .4 1.2 .4 1.2-.1 1.2 .2 1.2 .3 1.2-.3 1.2 .2 1.2-.1 1.2 .1 1.2 0 1.2 .1 1.2 0 1.2 1 1.2-.3 1.2 .2 1.2-.4 1.2 .2 1.1 .2 1.2 .5 1.2 .3 1.2-.7 1.2 .4 1.2-.6 1.2 0 1.2-.7 1.2-.3 1.2-.6 1.2-.9 1.2 .5 1.2 .1 1.2 .4 1.2 .6 1.2 .6 1.2 1.1 1.2-.7 1.2-.1 1.1-.2 1.2 .7 1.2-.2 1.2-.2 1.2 .3 1.2 .1 1.2 .1 1.2-.6 1.2 .2 1.2 .4 1.2-.3 1.2 .6 1.2-.3 1.2-.3 1.2-.1 1.2 .4 1.2 .3 1.2-.4 1.2 .2 1.1-.2 1.2-.3 1.2-.2 1.2 .5 1.2-.1 1.2 .1 1.2 .6 1.2 .1 1.2-.5 1.2-.2 1.2 .2 1.2-.9 1.2 .6 1.2-.2 1.2 .5 1.2-.3 1.2-.1 1.2 .5 1.2 .1 1.2 .5 1.1-.6 1.2-.3 1.2 .6 1.2-.1 1.2-.6 1.2-.1 1.2 .3 1.2-.2 1.2-.4 1.2 .3 1.2 .3 1.2 .5 1.2 .1 1.2 0 1.2-.6 1.2-.5 1.2-.1 1.2 .5 1.2 .4 1.1-.9 1.2 .5 1.2 .4 1.2 .4 1.2-.1 1.2 0 1.2-.2 1.2-.3 1.2-.1 1.2 0 1.2-.5 1.2 .2 1.2 .5 1.2-.2 1.2 .4 1.2-.6 1.2 .2 1.2-.3 1.2 .5 1.1 .1 1.2 .2 1.2 0 1.2-.2 1.2 .2 1.2-.3 1.2-1.1 1.2 .4 1.2 .2 1.2-.9 1.2 .6 1.2-.2 1.2 0 1.2-.8 1.2-.6 1.2-1 1.2-.5 1.2-.6 1.2 .6 1.1 .5 1.2 .5 1.2 .5 1.2 .4 1.2 .6 1.2 .4 1.2 .1 1.2 .7 1.2-.5 1.2 0 1.2-.3 1.2 .2 1.2 .1 1.2-.5 1.2 .6 1.2-.7 1.2 .3 1.2 .2 1.2-.2 1.2 .8 1.1 0 1.2-.6 1.2 .4 1.2 .2 1.2-.3 1.2-.2 1.2 .5 1.2 .8 1.2-.4 1.2 .5 1.2-1.2 1.2-.6 1.2 .4 1.2-.1 1.2 .3 1.2 .7 1.2-.7 1.2 .2 1.2-.1 1.1-.6 1.2 .2 1.2-.3 1.2 .2 1.2 .7 1.2 .1 1.2 .1 1.2-.3 1.2-.5 1.2 .7 1.2-.4 1.2-.1 1.2 .1 1.2-.6 1.2-.1 1.2-.5 1.2-.5 1.2-.7 1.2-2 1.1-1.7 1.2-2.6 1.2-2.6 1.2-2.4 1.2-1.1 1.2-1.1 1.2 2.5 1.2 2.2 1.2 2.4 1.2 2.2 1.2 2.1 1.2 1.5 1.2 .2 1.2 .2 1.2 1.2 1.2 .2 1.2-.6 1.2 .4 1.2 .1 1.1 .8 1.2-.5 1.2-.2 1.2-.1 1.2 .3 1.2 .1 1.2 0 1.2 .4 1.2-.6 1.2 .2 1.2-.6 1.2-.3 1.2-.3 1.2-.4 1.2-1.8 1.2-.8 1.2-3.6 1.2-3.3 1.2-4.6 1.1-5.6 1.2-5.6 1.2-6 1.2-2.3 1.2 2.7 1.2 5.8 1.2 5.4 1.2 5.4 1.2 5 1.2 3.6 1.2 1.6 1.2 1.7 1.2 .9 1.2 .4 1.2 .7 1.2 .2 1.2 0 1.2 1.4 1.2-.3 1.2-.3 1.1 .9 1.2-.3 1.2-.2 1.2-.9 1.2-.1 1.2 1 1.2-.4 1.2 0 1.2-.1 1.2 .1 1.2 .6 1.2-1.2 1.2-.7 1.2 .6 1.2-.2 1.2-.5 1.2-.5 1.2-1.6 1.2-1.6 1.1-2.5 1.2-3.7 1.2-5.9 1.2-7.8 1.2-8.5 1.2-8.1 1.2-5.5 1.2 .1 1.2 4 1.2 7.1 1.2 6.1 1.2 4.5 1.2 2.5 1.2 .5 1.2-.4 1.2 1.6 1.2 3.9 1.2 4.1 1.2 4.3 1.1 3.3 1.2 1.7 1.2 1.5 1.2 1.4 1.2 .4 1.2-.3 1.2 .7 1.2-.1 1.2-.2 1.2 .2 1.2 .2 1.2-.4 1.2 0 1.2 0 1.2 0 1.2-.7 1.2-.9 1.2-.8 1.2-1.2 1.1-1.9 1.2-2.4 1.2-3.6 1.2-4.8 1.2-3.9 1.2-3.2 1.2-2.3 1.2 1.8 1.2 3.8 1.2 4.2 1.2 4 1.2 2.9 1.2 2.7 1.2 1.8 1.2 .6 1.2 .8 1.2 .3 1.2-.8 1.2-.4 1.2-2 1.1-2.6 1.2-3.2 1.2-4 1.2-4.5 1.2-4.2 1.2-3 1.2-.1 1.2 3 1.2 4.8 1.2 4.1 1.2 3.2 1.2 4.2 1.2 2.3 1.2 1.9 1.2 1.8 1.2 1.1 1.2 .7 1.2 .2 1.2 .2 1.1 .6 1.2 .5 1.2 .3 1.2 .2 1.2 .1 1.2-.4 1.2 .2 1.2-.2 1.2-.5 1.2 .6 1.2-.1 1.2-.9 1.2-.8 1.2-.5 1.2-.7 1.2-.9 1.2-.7 1.2 .1 1.2-.5 1.1-.1 1.2 1.1 1.2 .5 1.2 .6 1.2 .5 1.2 .8 1.2 .6 1.2 .4 1.2 .4 1.2 .4 1.2-.4 1.2 .1 1.2 .2 1.2 .3 1.2 0 1.2 .1 1.2 .1 1.2 0 1.2-.1 1.1 .8 1.2-.3 1.2-.3 1.2 .2 1.2 0 1.2-.6 1.2 .6 1.2-1.3 1.2 .3 1.2 0 1.2-.1 1.2-.5 1.2-1.4 1.2-.6 1.2 .3 1.2-.6 1.2 .8 1.2 .7 1.2-.6 1.1 .7 1.2 .6 1.2 1 1.2-.6 1.2 .2 1.2 .2 1.2-.8 1.2-.4 1.2 0 1.2-.8 1.2-1.4 1.2-1.6 1.2-1.6 1.2-2 1.2-1.2 1.2-.8 1.2 .7 1.2 .4 1.2 .5 1.2 .3 1.1-.6 1.2-2.4 1.2-3.1 1.2-3.7 1.2-3.2 1.2-.8 1.2 1.8 1.2 3.1 1.2 3.8 1.2 3.5 1.2 4 1.2 2.1 1.2 1.6 1.2 .6 1.2 .5 1.2 .5 1.2 .4 1.2-.2 1.2 .6 1.1 .1 1.2 .3 1.2 .4 1.2 .1 1.2-.2 1.2 .8 1.2 .2 1.2-.1 1.2 .1 1.2-.5 1.2 .2 1.2 .2 1.2 .1 1.2-.5 1.2-.1 1.2-.2 1.2 .1 1.2 .4 1.2-.8 1.1-.2 1.2 .4 1.2 .3 1.2 0 1.2 .5 1.2-.4 1.2-.4 1.2 .1 1.2-.3 1.2 .8 1.2 .6 1.2-.4 1.2-.2 1.2 0 1.2 .1 1.2-.3 1.2-.3 1.2 .3 1.2 .4 1.1-.6 1.2-.4 1.2 .1 1.2 .9 1.2-.6 1.2-.4 1.2 .3 1.2-.3 1.2-.2 1.2 .3 1.2-.9 1.2-.5 1.2 0 1.2-.7 1.2-1.1 1.2-1.9 1.2-1.7 1.2-1.9 1.2-.9 1.2-.4 1.1 .7 1.2 .8 1.2 1.6 1.2 1.8 1.2 1.9 1.2 .6 1.2 1.1 1.2 .5 1.2 .4 1.2 0 1.2 .5 1.2 .3 1.2-.4 1.2 .7 1.2-.5 1.2 .2 1.2 .5 1.2-.7 1.2-.5 1.1 .6 1.2 .3 1.2 0 1.2 .1 1.2-.5 1.2 .1 1.2 0 1.2 0 1.2-.6 1.2 .7 1.2-.8 1.2-1.1 1.2-.5 1.2-.3 1.2 .7 1.2 .4 1.2 .1 1.2 .3 1.2 0 1.1 .6 1.2-.3 1.2 .7 1.2 0 1.2 .3 1.2-1.1 1.2-.2 1.2 0 1.2-.3 1.2-1 1.2-.2 1.2-1.1 1.2-2 1.2-2 1.2-1.7 1.2-1.6 1.2-.8 1.2 .1 1.2 1.3 1.1 1.7 1.2 1 1.2 2.4 1.2 .6 1.2 1.3 1.2 .6 1.2 .2 1.2 1 1.2-.5 1.2 .1 1.2-.2 1.2 .2 1.2-.4 1.2-.4 1.2-.4 1.2-1.1 1.2-1.6 1.2-2.3 1.2-3 1.2-4.4 1.1-5.4 1.2-4 1.2-2.7 1.2 .3 1.2 2.9 1.2 4.4 1.2 4.1 1.2 3.6 1.2 3.8 1.2 2.7 1.2 1.6 1.2 1.5 1.2 .7 1.2 0 1.2 .3 1.2 .4 1.2 .6 1.2-.1 1.2 .3 1.1-.7 1.2 .5 1.2 .7 1.2-.5 1.2 .4 1.2 .3 1.2 .1 1.2 0 1.2 0 1.2-.1 1.2-.1 1.2-.3 1.2-.1 1.2-.2 1.2 .3 1.2 .6 1.2-.4 1.2 0 1.2 0 1.1 .4 1.2-.2 1.2 .2 1.2-.9 1.2 .7 1.2-.1 1.2 .1 1.2-.6 1.2-.3 1.2-.1 1.2-.9 1.2-.5 1.2 .8 1.2 0 1.2 .4 1.2 .4 1.2-.7 1.2 .5 1.2-.2 1.1-.2 1.2-1 1.2 0 1.2-.6 1.2 .2 1.2-1.4 1.2-.7 1.2-1.3 1.2-.8 1.2-1.8 1.2-1 1.2-.5 1.2 .5 1.2 .5 1.2 1.4 1.2 1.9 1.2-.3 1.2 1.7 1.2 1.1 1.2 .6 1.1 .8 1.2 .3 1.2 .5 1.2 .1 1.2-.1 1.2 0 1.2-.1 1.2-.7 1.2 0 1.2 .6 1.2-1 1.2-.1 1.2 .4 1.2-.1 1.2-.2 1.2 0 1.2 .5 1.2-.8 1.2-1 1.1 .4 1.2-.1 1.2-1 1.2-.6 1.2 .3 1.2-.4 1.2-.5 1.2-2 1.2-.8 1.2-2.4 1.2-3 1.2-4.9 1.2-8 1.2-13.3 1.2-20.8 1.2-27.7 1.2-30.5 1.2-28.5 1.2-12.7 1.1 9.7 1.2 26.5 1.2 28.9 1.2 23.1 1.2 12.9 1.2 2.4 1.2-7.9 1.2-17.6 1.2-22.6 1.2-20.2 1.2-7.7 1.2 10.6 1.2 22.9 1.2 25.5 1.2 22.1 1.2 16.4 1.2 10.4 1.2 7.2 1.2 3.5 1.1 2.4 1.2 .6 1.2 1 1.2-.3 1.2-.5 1.2-1.6 1.2-2.3 1.2-4.7 1.2-6.7 1.2-7.9 1.2-9.7 1.2-8 1.2-4.2 1.2 3.1 1.2 7.4 1.2 8.2 1.2 7 1.2 3.6 1.2-1.1 1.1-5 1.2-8.7 1.2-12.2 1.2-12.5 1.2-7.8 1.2 .3 1.2 9.2 1.2 13.6 1.2 13.4 1.2 10.7 1.2 7.7 1.2 6 1.2 2.9 1.2 1.7 1.2 .8 1.2 1.8 1.2-.1 1.2 .2 1.2 .2 1.2-1 1.1-1.4 1.2-2 1.2-4 1.2-5.2 1.2-7.5 1.2-7.6 1.2-8.3 1.2-3.9 1.2 .4 1.2 4.5 1.2 7.5 1.2 7.5 1.2 6.8 1.2 6.4 1.2 4.1 1.2 3.5 1.2 1.3 1.2 .7 1.2 1.1 1.1 .1 1.2-.2 1.2 .5 1.2 .3 1.2-.2 1.2-.7 1.2-.4 1.2-.3 1.2 0"/>
<path stroke="#ee8228" d="M495.8 75.2l1.2-.1 1.2 1.2 1.2-.4 1.2-.4 1.2 0 1.2-.4 1.2-.3 1.1 .3 1.2-.2 1.2 .4 1.2-.2 1.2-.7 1.2-.1 1.2 0 1.2-.3 1.2 .5 1.2 .2 1.2 .5 1.2-.4 1.2 0 1.2 .3 1.2 .3 1.2-.6 1.2 .7 1.2-.5 1.2 .5 1.1-.4 1.2-.2 1.2-.4 1.2 .2 1.2 1 1.2-.6 1.2 .5 1.2 .2 1.2-.5 1.2 .2 1.2 .3 1.2-.5 1.2-.4 1.2 .5 1.2-.1 1.2 .6 1.2-.3 1.2-.7 1.2 0 1.2-.4 1.1 .5 1.2 .2 1.2-.3 1.2-.3 1.2 .5 1.2-.3 1.2 .5 1.2-.6 1.2-.1 1.2-.1 1.2-.3 1.2 1.2 1.2 .2 1.2-.8 1.2 .1 1.2-1.1 1.2 .5 1.2-.1 1.2-.8 1.1-.8 1.2-.6 1.2-.6 1.2-1 1.2-.8 1.2 .1 1.2 .6 1.2 1.3 1.2 .9 1.2 .8 1.2-.2 1.2 .5 1.2 .3 1.2 .1 1.2 .3 1.2 0 1.2-.4 1.2 .7 1.2 .4 1.1-.4 1.2 .2 1.2-.4 1.2-.4 1.2 .2 1.2 .8 1.2-.3 1.2-.7 1.2 .3 1.2-.2 1.2-.1 1.2 .3 1.2-.7 1.2-.4 1.2-.2 1.2 .8 1.2 0 1.2-.4 1.2-.4 1.1 .2 1.2 0 1.2-1 1.2-.6 1.2-.1 1.2-1.4 1.2-2.1 1.2-1.9 1.2-2.4 1.2-2.1 1.2-1.9 1.2-1.1 1.2 .9 1.2 2.6 1.2 2.3 1.2 2.5 1.2 1.5 1.2 1.9 1.2 1.3 1.2-.2 1.1 .5 1.2 0 1.2-.1 1.2-.1 1.2 .2 1.2 .6 1.2-.4 1.2 .9 1.2 .2 1.2-.1 1.2 .5 1.2 .6 1.2 .1 1.2 .2 1.2 0 1.2-.1 1.2 .5 1.2-.4 1.2 .5 1.1 0 1.2-.2 1.2 0 1.2-.1 1.2 .1 1.2 0 1.2 0 1.2-.6 1.2-.4 1.2 .7 1.2 0 1.2 0 1.2 .2 1.2-.3 1.2 .9 1.2-.2 1.2-.1 1.2-.4 1.2 .5 1.1 .2 1.2 .4 1.2 0 1.2-.6 1.2-.5 1.2 .7 1.2-.4 1.2 .1 1.2-.1 1.2 .3 1.2 .1 1.2-.5 1.2-.1 1.2-.4 1.2 .6 1.2 0 1.2-.5 1.2 .7 1.2 0 1.1-.4 1.2 0 1.2 0 1.2 .2 1.2 .2 1.2-.2 1.2 .2 1.2-.9 1.2 .3 1.2 .5 1.2 .4 1.2 .1 1.2-.6 1.2-.5 1.2 .2 1.2 1.1 1.2-.2 1.2-.5 1.2-.6 1.2 .4 1.1 0 1.2 .3 1.2 .1 1.2-.9 1.2 .3 1.2 .5 1.2-.2 1.2-.3 1.2-.2 1.2-.1 1.2 1.2 1.2 .3 1.2-.6 1.2 .4 1.2-.6 1.2-.2 1.2-.1 1.2 .1 1.2 .4 1.1 .7 1.2-.2 1.2-.3 1.2-.1 1.2-.2 1.2 .1 1.2-.4 1.2 .3 1.2 .1 1.2 .3 1.2-.5 1.2 .2 1.2 0 1.2-.3 1.2-.6 1.2 .2 1.2 .6 1.2-.1 1.2 .8 1.1-.1 1.2-.6 1.2 0 1.2 .1 1.2 .1 1.2-.2 1.2 .2 1.2 .9 1.2-.2 1.2-.4 1.2-.4 1.2-.7 1.2 .3 1.2 0 1.2 .1 1.2-.1 1.2 .4 1.2 .3 1.2-.4 1.1-.5 1.2 .3 1.2 .6 1.2-.1 1.2 0 1.2-.7 1.2 0 1.2 .4 1.2 .1 1.2-.1 1.2 .2 1.2 .2 1.2-.2 1.2-.4 1.2-.4 1.2 .4 1.2 0 1.2 0 1.2 .5 1.2-.4 1.1-.1 1.2 .3 1.2-.4 1.2-.6 1.2 .2 1.2 .6 1.2-.2 1.2 .1 1.2-.6 1.2 .8 1.2-.6 1.2 0 1.2 .2 1.2 .9 1.2-.2 1.2-.5 1.2-.4 1.2 .1 1.2-.2 1.1 .1 1.2 .3 1.2 .5 1.2-.5 1.2 .6 1.2-.9 1.2 1 1.2-.5 1.2-.1 1.2-.1 1.2 .2 1.2 0 1.2-.1 1.2-.2 1.2-.1 1.2 .2 1.2-.1 1.2-.1 1.2-.3 1.1 .3 1.2 .3 1.2-.3 1.2 .5 1.2-.2 1.2 0 1.2-.8 1.2 .4 1.2 .3 1.2 .3 1.2-.8 1.2-.4 1.2 0 1.2-.2 1.2-.5 1.2 0 1.2 .5 1.2 .2 1.2 0 1.1 .6 1.2-.6 1.2 .5 1.2-.1 1.2 .1 1.2 .5 1.2 .6 1.2-.2 1.2-.2 1.2 .5 1.2-.1 1.2-1.1 1.2 0 1.2 0 1.2 0 1.2-.3 1.2 .6 1.2 .1 1.2 .6 1.1-.4 1.2-.1 1.2-.4 1.2 .4 1.2 .2 1.2 .2 1.2-.3 1.2-.8 1.2 .1 1.2-.9 1.2-.6 1.2-.3 1.2 .5 1.2-.9 1.2-.6 1.2 .3 1.2 .6 1.2 .3 1.2 .4 1.2-.1 1.1 .2 1.2 .9 1.2 .1 1.2-.1 1.2 .1 1.2 .7 1.2 .5 1.2-.2 1.2-.5 1.2 .6 1.2-.5 1.2 .1 1.2 .1 1.2-.1 1.2-.1 1.2 .6 1.2-.2 1.2-.7 1.2-.1 1.1 .6 1.2-.2 1.2-.4 1.2 .4 1.2 0 1.2-.2 1.2 0 1.2-.4 1.2-.1 1.2-.1 1.2-.7 1.2 .1 1.2-1 1.2 .4 1.2-.8 1.2-.5 1.2-1 1.2 .2 1.2-.5 1.1 .4 1.2 .2 1.2 .1 1.2 1.2 1.2 .3 1.2 .2 1.2 .3 1.2 .5 1.2 .4 1.2 .5 1.2-.2 1.2 .3 1.2-.1 1.2-.1 1.2 .5 1.2-.3 1.2-.4 1.2 .6 1.2-.1 1.1 .3 1.2 .1 1.2 .1 1.2-.2 1.2 .4 1.2-.7 1.2 .4 1.2-.4 1.2-.1 1.2-.4 1.2 0 1.2-.2 1.2-.6 1.2-.3 1.2-.1 1.2-.4 1.2 .8 1.2-.2 1.2-.3 1.2 .6 1.1 .1 1.2-.1 1.2 .2 1.2-.3 1.2 .6 1.2 .6 1.2-.3 1.2-.5 1.2-.7 1.2-.4 1.2 .1 1.2-.4 1.2-.2 1.2-.4 1.2 0 1.2 .1 1.2 .3 1.2 .4 1.2 .4 1.1 0 1.2 .4 1.2 0 1.2 .4 1.2 .4 1.2 .5 1.2-.4 1.2 0 1.2 .2 1.2-.2 1.2 .3 1.2 .2 1.2-.1 1.2 .7 1.2-.3 1.2 .1 1.2-.6 1.2 .5 1.2 .1 1.1 .1 1.2-.8 1.2 .3 1.2-.1 1.2 .4 1.2 0 1.2-.1 1.2-.1 1.2 .6 1.2 .2 1.2-.9 1.2 0 1.2 .4 1.2-.2 1.2 .2 1.2-.1 1.2 .6 1.2 0 1.2-.4 1.1 .4 1.2 0 1.2 .3 1.2-.6 1.2-.7 1.2 .5 1.2 0 1.2-.7 1.2-1 1.2 .8 1.2 .4 1.2-.1 1.2 0 1.2 .2 1.2-.4 1.2 .7 1.2-.6 1.2 .1 1.2 .1 1.1-.3 1.2-.2 1.2 .3 1.2-.7 1.2 0 1.2 .5 1.2-.7 1.2-.7 1.2-.2 1.2-1 1.2 .2 1.2-.1 1.2 0 1.2 0 1.2 .6 1.2 .2 1.2-.2 1.2 .8 1.2-.3 1.2 .7 1.1-.3 1.2-.3 1.2 0 1.2 .6 1.2-.2 1.2-.3 1.2-.8 1.2 0 1.2-.3 1.2-.2 1.2-.5 1.2-.5 1.2 .7 1.2-.4 1.2 .4 1.2 .3 1.2 .2 1.2 .3 1.2 .5 1.1 0 1.2 .3 1.2 .4 1.2 .3 1.2 .1 1.2-.7 1.2 .6 1.2 0 1.2 .9 1.2 .5 1.2-.1 1.2 0 1.2-.8 1.2 .2 1.2 0 1.2 .9 1.2-.7 1.2 .9 1.2-.3 1.1-.9 1.2 1 1.2-.3 1.2 .1 1.2 .3 1.2-.8 1.2 0 1.2 .3 1.2 .5 1.2-.3 1.2 .1 1.2-.7 1.2 .4 1.2-.3 1.2 .1 1.2 .1 1.2 .4 1.2-.4 1.2 .1 1.1-.2 1.2 .2 1.2-.4 1.2 .4 1.2-.8 1.2-.4 1.2 .5 1.2-.5 1.2 .3 1.2 .2 1.2-.7 1.2 .3 1.2 .2 1.2 .2 1.2-.2 1.2 .5 1.2 .2 1.2-.2 1.2 .2 1.2 .2 1.1-.5 1.2 .3 1.2 .5 1.2 .2 1.2-.6 1.2-.1 1.2 .2 1.2 .2 1.2 .3 1.2-.2 1.2 .2 1.2-.4 1.2 .7 1.2-.4 1.2-.5 1.2 0 1.2-.5 1.2 .1 1.2 .2 1.1 .4 1.2 .4 1.2-.5 1.2-.2 1.2 .4 1.2 .4 1.2 0 1.2-.1 1.2-.6 1.2-.1 1.2-.4 1.2 .1 1.2 .8 1.2 .5 1.2-.5 1.2 .1 1.2 .4 1.2-.7 1.2-.5 1.1 0 1.2-.5 1.2 .8 1.2 .1 1.2-.1 1.2 .1 1.2 .2 1.2-.1 1.2-.4 1.2 .4 1.2-.2 1.2 .2 1.2-.3 1.2 .1 1.2-.5 1.2 .3 1.2 0 1.2 .4 1.2-.5 1.1-.4 1.2 .3 1.2-.8 1.2 .4 1.2-.2 1.2-.2 1.2 .1 1.2 0 1.2-.2 1.2 .6 1.2-.2 1.2 .3 1.2 .1 1.2 0 1.2 0 1.2 .3 1.2 0 1.2 .5 1.2 .2 1.2-.5 1.1 .3 1.2-1 1.2 .8 1.2-.7 1.2-.4 1.2 .6 1.2-.9 1.2-.2 1.2 0 1.2-1 1.2 .1 1.2 .2 1.2-.5 1.2 .7 1.2-.4 1.2 .8 1.2 .3 1.2 .2 1.2 .1 1.1-.1 1.2 .8 1.2-.4 1.2 .3 1.2 .4 1.2 .2 1.2 .1 1.2-.4 1.2-.4 1.2 .4 1.2 0 1.2 .5 1.2-.9 1.2 .3 1.2 .3 1.2-.2 1.2-.5 1.2 .4 1.2 .5 1.1-.4 1.2-.2 1.2-.2 1.2 0 1.2-.4 1.2 1.6 1.2-.4 1.2 .3 1.2 .2 1.2-.6 1.2 .1 1.2 .5 1.2 .1 1.2-.1 1.2-.6 1.2-.3 1.2 .1 1.2 .6 1.2-.5 1.1 .2 1.2 .3 1.2 0 1.2-.3 1.2-.4 1.2 .3 1.2-.2 1.2 .1 1.2-.3 1.2-.1 1.2-.1 1.2-.3 1.2 .5 1.2-.6 1.2 .2 1.2-.2 1.2 .1 1.2-.7 1.2 .1 1.2 .2 1.1 .5 1.2 .3 1.2-.1 1.2-.1 1.2 0 1.2 .5 1.2 .3 1.2-.1 1.2 .2 1.2-.8 1.2 .4 1.2 .6 1.2-.4 1.2-.4 1.2 .5 1.2-.9 1.2 .6 1.2-.6 1.2 .3 1.1-.4 1.2 .7 1.2-.2 1.2-.3 1.2 0 1.2 .4 1.2 .3 1.2-.3 1.2-.4 1.2 .4 1.2-.4 1.2-.4 1.2 .5 1.2-1 1.2 .1 1.2 .4 1.2-.4 1.2-.4 1.2-.3 1.1-1.3 1.2-.9 1.2-1.5 1.2-1.6 1.2-2.7 1.2-3.5 1.2-3.4 1.2-3.5 1.2-3.8 1.2-.4 1.2 .3 1.2 1.8 1.2 3.3 1.2 1.2 1.2 1.2 1.2 .7 1.2-1 1.2-2.2 1.2-2.1 1.1-1.2 1.2-.7 1.2 1.4 1.2 2.7 1.2 3.1 1.2 3.2 1.2 2.7 1.2 2.5 1.2 2 1.2 1 1.2 .7 1.2 .6 1.2 .2 1.2 0 1.2-.8 1.2 .1 1.2-1 1.2-.2 1.2-1.1 1.1-1.3 1.2-1.9 1.2-1.1 1.2-2 1.2-1.7 1.2-1.7 1.2 .2 1.2-.3 1.2-.2 1.2 .5 1.2-.5 1.2-2 1.2-1.4 1.2-1.3 1.2-2.3 1.2-1.9 1.2-.2 1.2 .8 1.2 1.2 1.2 2 1.1 2.1 1.2 1.7 1.2 .9 1.2 .6 1.2 .5 1.2-.9 1.2 .1 1.2 0 1.2 .3 1.2 .6 1.2 .1 1.2-.1 1.2 .8 1.2-.4 1.2-.6 1.2-.8 1.2-1.8 1.2-1 1.2-.8 1.1-.5 1.2 .3 1.2 1.2 1.2 1.7 1.2 2 1.2 1.6 1.2 1.7 1.2 .7 1.2 1"/>
</g>
<g id="guides" fill="none" stroke="#ff00ff" stroke-width="8" stroke-linejoin="miter" stroke-linecap="butt" shape-rendering="crispEdges">
<path d="M580.3 33 V91 H552.3 V243.7 H566.1 V395.6"/>
<path d="M633.4 39 V106.8 H605 V235.5 H619.5 V395.6" stroke-width="7.5"/>
</g>
<g id="labels">
<text x="192.8" y="1319" font-size="80.5" text-anchor="middle">10</text>
<text x="389.2" y="1319" font-size="80.5" text-anchor="middle">20</text>
<text x="585.8" y="1319" font-size="80.5" text-anchor="middle">30</text>
<text x="782.2" y="1319" font-size="80.5" text-anchor="middle">40</text>
<text x="978.8" y="1319" font-size="80.5" text-anchor="middle">50</text>
<text x="1175.2" y="1319" font-size="80.5" text-anchor="middle">60</text>
<text x="1371.8" y="1319" font-size="80.5" text-anchor="middle">70</text>
<text x="1568.2" y="1319" font-size="80.5" text-anchor="middle">80</text>
<text x="766.7" y="1396.7" font-size="79.5">2θ <tspan font-weight="normal" font-size="78" dx="1.2" stroke="#000" stroke-width="0.8">(°<tspan dx="0.6">)</tspan></tspan></text>
<text transform="translate(68 870.8) rotate(-90)" font-size="78.6">Intensity <tspan font-weight="normal" font-size="75" dx="1" stroke="#000" stroke-width="0.8">(</tspan><tspan dx="0.6">a.u.</tspan><tspan font-weight="normal" font-size="75" dx="0.6" stroke="#000" stroke-width="0.8">)</tspan></text>
<text x="677.8" y="450.2" font-size="41.5" text-anchor="middle">10</text>
<text x="976.4" y="450.2" font-size="41.5" text-anchor="middle">15</text>
<text x="1274.5" y="450.2" font-size="41.5" text-anchor="middle">20</text>
<text x="891.4" y="499.6" font-size="59.5">2<tspan dx="1.2">θ </tspan><tspan font-weight="normal" font-size="57.5" dx="0.2" stroke="#000" stroke-width="0.7">(°<tspan dx="2">)</tspan></tspan></text>
<text transform="translate(462.3 369.6) rotate(-90)" font-size="50">Intensity <tspan font-weight="normal" font-size="48" dx="0.6" stroke="#000" stroke-width="0.5">(</tspan><tspan dx="0.4">a.u.</tspan><tspan font-weight="normal" font-size="48" dx="0.4" stroke="#000" stroke-width="0.5">)</tspan></text>
<text x="1087.5" y="541" font-size="56">Pure m-ZrO<tspan dx="-1" dy="16">2</tspan></text>
<text x="964.5" y="649" font-size="56">m-ZrO<tspan dx="-2" dy="16">2</tspan><tspan dx="-3" dy="-16">/NaZSM-5</tspan><tspan font-size="92" dy="3" dx="-1">-</tspan><tspan dy="-3" dx="-2">HC</tspan></text>
<text x="1068.1" y="822" font-size="56">Pure <tspan dx="17">NaZSM-5</tspan></text>
<text x="999" y="986" font-size="56">t-ZrO<tspan dx="-2" dy="16">2</tspan><tspan dx="-3" dy="-16">/NaZSM-5-HC</tspan></text>
<text x="1112" y="1142.4" font-size="56">Pure <tspan dx="17">t-ZrO</tspan><tspan dx="-2" dy="16">2</tspan></text>
</g>
</svg>
</body></html>
